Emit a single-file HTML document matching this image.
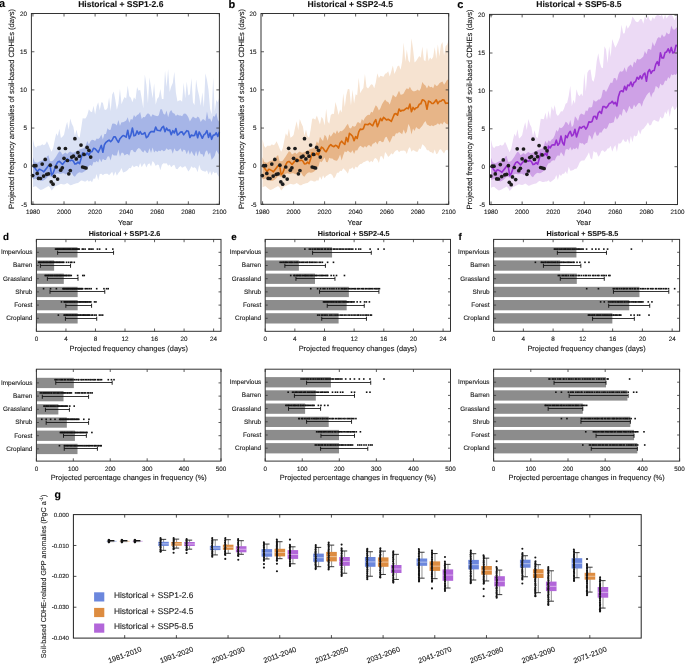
<!DOCTYPE html><html><head><meta charset="utf-8"><style>html,body{margin:0;padding:0;background:#fff;}svg{display:block;text-rendering:geometricPrecision;will-change:transform;}text{font-family:"Liberation Sans", sans-serif;stroke:#1a1a1a;stroke-width:0.12px;}</style></head><body>
<svg width="685" height="664" viewBox="0 0 685 664">
<rect width="685" height="664" fill="#fff"/>
<polygon points="32.95,139.21 34.51,146.12 36.06,147.83 37.61,145.7 39.17,145.87 40.72,145.62 42.28,144.31 43.83,145.3 45.38,144.23 46.94,141.13 48.49,144.57 50.04,148.62 51.6,151.79 53.15,148.07 54.71,140.3 56.26,133.37 57.81,136.1 59.37,128.71 60.92,138.12 62.47,136.78 64.03,134.77 65.58,127.31 67.14,121.75 68.69,129.72 70.24,118.62 71.8,123.65 73.35,126.8 74.9,136.08 76.46,129.75 78.01,136.22 79.57,137.83 81.12,128.7 82.67,118.24 84.23,118.61 85.78,118.33 87.33,114.99 88.89,109.22 90.44,111.47 92,112.16 93.55,105.82 95.1,114.39 96.66,106.33 98.21,102.31 99.76,110.26 101.32,102.24 102.87,102.86 104.42,109.45 105.98,109.95 107.53,107.88 109.09,97.14 110.64,111.24 112.19,94.43 113.75,91.56 115.3,99.67 116.85,109.69 118.41,103.73 119.96,88.64 121.52,104.13 123.07,99.96 124.62,97.06 126.18,98.6 127.73,85.5 129.28,96.13 130.84,97.64 132.39,102.28 133.95,97.25 135.5,99.54 137.05,86.98 138.61,90.83 140.16,89.63 141.71,98.58 143.27,108.33 144.82,74.49 146.38,84.73 147.93,103.33 149.48,77.32 151.04,87.97 152.59,98.15 154.14,83.2 155.7,104.7 157.25,98.63 158.8,96.97 160.36,89.06 161.91,99.11 163.47,98.92 165.02,70.56 166.57,86.93 168.13,69.09 169.68,92.03 171.23,86.47 172.79,82.92 174.34,71.68 175.9,92.85 177.45,101.55 179,100.43 180.56,100.16 182.11,101.73 183.66,82.74 185.22,98.47 186.77,81.38 188.33,95.6 189.88,94.34 191.43,77.99 192.99,102.4 194.54,105 196.09,79.44 197.65,89.87 199.2,96.31 200.76,105.83 202.31,92.34 203.86,107.59 205.42,73.32 206.97,80.08 208.52,90.01 210.08,108.76 211.63,114.6 213.19,77.25 214.74,111.38 216.29,100.04 217.85,102.25 219.4,96.75 219.4,177.37 217.85,175.27 216.29,172.22 214.74,173.27 213.19,171.56 211.63,175.6 210.08,170.9 208.52,174.48 206.97,170.25 205.42,171.75 203.86,171.33 202.31,170.82 200.76,169.4 199.2,164.84 197.65,172.28 196.09,168.43 194.54,167.22 192.99,168.01 191.43,166.21 189.88,169.57 188.33,171.56 186.77,168.54 185.22,165.94 183.66,166.96 182.11,167.77 180.56,165.99 179,167.16 177.45,169.3 175.9,168.63 174.34,164.81 172.79,165.6 171.23,167.18 169.68,164.38 168.13,165.71 166.57,163.17 165.02,163.43 163.47,163.26 161.91,164.87 160.36,170.23 158.8,164.94 157.25,164.51 155.7,166.08 154.14,162.72 152.59,160.88 151.04,166.6 149.48,163.26 147.93,164.23 146.38,167.55 144.82,163.15 143.27,164.62 141.71,167.19 140.16,163.11 138.61,167.6 137.05,165.83 135.5,166.3 133.95,167.15 132.39,165.19 130.84,168.27 129.28,168 127.73,170.03 126.18,171.21 124.62,171.89 123.07,172.41 121.52,168.07 119.96,171.14 118.41,172.89 116.85,175.64 115.3,171.5 113.75,176.02 112.19,171.68 110.64,173.58 109.09,175.29 107.53,173.77 105.98,173.85 104.42,174.12 102.87,175.13 101.32,173.76 99.76,174.02 98.21,180.16 96.66,174.09 95.1,178.68 93.55,178.44 92,182.34 90.44,180.54 88.89,181.76 87.33,180 85.78,181.44 84.23,181.51 82.67,180.74 81.12,180.56 79.57,181.73 78.01,182.89 76.46,183.29 74.9,183.67 73.35,184.32 71.8,185.1 70.24,185.19 68.69,184.06 67.14,182.93 65.58,183.91 64.03,184.61 62.47,184.22 60.92,183.83 59.37,184.52 57.81,185.29 56.26,185.91 54.71,186.43 53.15,188.75 51.6,190.6 50.04,187.49 48.49,185.97 46.94,186.9 45.38,187.83 43.83,188.67 42.28,189.43 40.72,189.98 39.17,188.95 37.61,187.71 36.06,186.16 34.51,186.41 32.95,187.14" fill="#dbe2f4"/>
<polygon points="32.95,157.16 34.51,161.82 36.06,162.59 37.61,162.79 39.17,161.75 40.72,160.96 42.28,160.44 43.83,159.94 45.38,159.44 46.94,156.53 48.49,155.16 50.04,161.2 51.6,161.2 53.15,160.6 54.71,158.53 56.26,156.17 57.81,153.58 59.37,151.2 60.92,152.1 62.47,154.69 64.03,153.47 65.58,152.48 67.14,153.97 68.69,152.47 70.24,151.53 71.8,152.56 73.35,152.72 74.9,151.95 76.46,151.17 78.01,150.39 79.57,149.62 81.12,149.06 82.67,148.54 84.23,148.02 85.78,145.52 87.33,141.05 88.89,144.46 90.44,141.31 92,139.85 93.55,139.88 95.1,140.98 96.66,138.51 98.21,138.99 99.76,137.79 101.32,134.59 102.87,139.5 104.42,134.1 105.98,134 107.53,128.34 109.09,130.12 110.64,129.82 112.19,123.83 113.75,123.51 115.3,123.89 116.85,125.56 118.41,120.07 119.96,125.82 121.52,122.32 123.07,122.3 124.62,121.59 126.18,120.41 127.73,117.28 129.28,122.87 130.84,119.09 132.39,119.79 133.95,115.05 135.5,116.97 137.05,114.95 138.61,114.27 140.16,111.96 141.71,118.91 143.27,116.91 144.82,117.16 146.38,114.76 147.93,113.31 149.48,114.14 151.04,117.08 152.59,114.13 154.14,115.28 155.7,115.8 157.25,116.22 158.8,115.31 160.36,109.35 161.91,109.35 163.47,113.64 165.02,114.73 166.57,110.62 168.13,117.18 169.68,111.99 171.23,109.94 172.79,113.01 174.34,113.45 175.9,115.91 177.45,114.46 179,115.45 180.56,115.57 182.11,116.2 183.66,113.66 185.22,113.49 186.77,114.66 188.33,117.16 189.88,121.51 191.43,118.67 192.99,116.6 194.54,117.65 196.09,118.52 197.65,116.52 199.2,117.69 200.76,122.03 202.31,119.52 203.86,119.37 205.42,121.28 206.97,111.52 208.52,118.97 210.08,118.62 211.63,121.94 213.19,116.1 214.74,116.76 216.29,112.78 217.85,119.94 219.4,122.08 219.4,155.12 217.85,152.83 216.29,150.14 214.74,155.69 213.19,158.08 211.63,159.76 210.08,152.13 208.52,154.71 206.97,150.3 205.42,151.73 203.86,157.3 202.31,154.05 200.76,154.37 199.2,150.59 197.65,156.43 196.09,150.76 194.54,156.26 192.99,153.93 191.43,150.92 189.88,154.79 188.33,149.88 186.77,154.13 185.22,150.25 183.66,149.47 182.11,152.37 180.56,148.2 179,150.07 177.45,151.33 175.9,150.9 174.34,148.34 172.79,153.71 171.23,149.13 169.68,149.31 168.13,149.88 166.57,148.29 165.02,150.78 163.47,151.3 161.91,149.73 160.36,151.34 158.8,150.59 157.25,151.89 155.7,150.55 154.14,152.51 152.59,147.54 151.04,152.91 149.48,148.23 147.93,152.88 146.38,152.52 144.82,150.11 143.27,152.49 141.71,150.88 140.16,148.76 138.61,147.92 137.05,149.38 135.5,152.13 133.95,151.94 132.39,149.77 130.84,150.21 129.28,155.64 127.73,154.02 126.18,154.27 124.62,155.61 123.07,152.82 121.52,152.67 119.96,156.84 118.41,149.53 116.85,155.47 115.3,155.42 113.75,155.5 112.19,154.11 110.64,160.38 109.09,156.25 107.53,156.45 105.98,160.07 104.42,160.06 102.87,158.84 101.32,162.37 99.76,158.4 98.21,162.45 96.66,160.98 95.1,162.57 93.55,161.81 92,166 90.44,165.03 88.89,165.69 87.33,168.02 85.78,170.38 84.23,171.61 82.67,172.43 81.12,172.82 79.57,172.25 78.01,172.92 76.46,174.53 74.9,176.74 73.35,175.75 71.8,173.16 70.24,172.46 68.69,172.31 67.14,173.86 65.58,174.39 64.03,173.35 62.47,173.26 60.92,173.64 59.37,173.72 57.81,173.2 56.26,173.63 54.71,174.66 53.15,176.15 51.6,177.37 50.04,176.33 48.49,176.31 46.94,177.86 45.38,179.37 43.83,180.37 42.28,180.96 40.72,180.44 39.17,179.78 37.61,179.01 36.06,178.5 34.51,178.95 32.95,179.25" fill="#a6b5e7"/>
<polyline points="32.95,166.16 34.51,167.41 36.06,169.75 37.61,171.53 39.17,169.32 40.72,169.84 42.28,170.65 43.83,171.83 45.38,169.76 46.94,167.68 48.49,165.61 50.04,165.45 51.6,175.03 53.15,172.94 54.71,168.75 56.26,164.61 57.81,161.9 59.37,161.38 60.92,162.8 62.47,164.46 64.03,162.56 65.58,160.7 67.14,158.92 68.69,159.98 70.24,160.67 71.8,160.1 73.35,161.19 74.9,164.07 76.46,163.64 78.01,162.11 79.57,163.67 81.12,158.38 82.67,152.8 84.23,154.65 85.78,154.99 87.33,152.83 88.89,155.19 90.44,151.86 92,151.8 93.55,148.2 95.1,148.77 96.66,150.53 98.21,152.3 99.76,149 101.32,145.39 102.87,152.26 104.42,144.69 105.98,142.3 107.53,141.07 109.09,140.19 110.64,141.74 112.19,140.01 113.75,136.91 115.3,136.92 116.85,139.86 118.41,142.34 119.96,138.66 121.52,136.92 123.07,135.52 124.62,136.03 126.18,137.17 127.73,130.2 129.28,138.58 130.84,135.16 132.39,128 133.95,135.86 135.5,135.27 137.05,130.93 138.61,134.23 140.16,131.56 141.71,134.09 143.27,133.85 144.82,132.57 146.38,137.77 147.93,136.3 149.48,133.17 151.04,131.58 152.59,131.55 154.14,131.85 155.7,126.98 157.25,130.3 158.8,130.47 160.36,130.82 161.91,127.63 163.47,126.34 165.02,131.79 166.57,128.06 168.13,130.48 169.68,129.89 171.23,134.75 172.79,130.68 174.34,133 175.9,128.62 177.45,135.03 179,133.82 180.56,132.08 182.11,131.92 183.66,134.89 185.22,132.65 186.77,130.67 188.33,131.17 189.88,137.5 191.43,135 192.99,135.67 194.54,135.4 196.09,131.02 197.65,137.8 199.2,131.91 200.76,134.93 202.31,138.29 203.86,134.95 205.42,133.66 206.97,130.68 208.52,137.35 210.08,133.14 211.63,139.31 213.19,135.25 214.74,134.9 216.29,132.81 217.85,136.43 219.4,131.65" fill="none" stroke="#3b62d6" stroke-width="1.6" stroke-linejoin="round"/>
<circle cx="32.7" cy="175.6" r="1.85" fill="#1c1c1c"/>
<circle cx="34.1" cy="165.7" r="1.85" fill="#1c1c1c"/>
<circle cx="35.9" cy="165.7" r="1.85" fill="#1c1c1c"/>
<circle cx="37.2" cy="173.4" r="1.85" fill="#1c1c1c"/>
<circle cx="38.6" cy="178.4" r="1.85" fill="#1c1c1c"/>
<circle cx="40.4" cy="178.5" r="1.85" fill="#1c1c1c"/>
<circle cx="42.2" cy="164.1" r="1.85" fill="#1c1c1c"/>
<circle cx="43.6" cy="176.1" r="1.85" fill="#1c1c1c"/>
<circle cx="45.2" cy="159.4" r="1.85" fill="#1c1c1c"/>
<circle cx="46.7" cy="174.3" r="1.85" fill="#1c1c1c"/>
<circle cx="48.5" cy="173.8" r="1.85" fill="#1c1c1c"/>
<circle cx="50.3" cy="165.2" r="1.85" fill="#1c1c1c"/>
<circle cx="51.2" cy="181.8" r="1.85" fill="#1c1c1c"/>
<circle cx="53.1" cy="184.2" r="1.85" fill="#1c1c1c"/>
<circle cx="54.4" cy="176.4" r="1.85" fill="#1c1c1c"/>
<circle cx="56.2" cy="167" r="1.85" fill="#1c1c1c"/>
<circle cx="57.6" cy="179.1" r="1.85" fill="#1c1c1c"/>
<circle cx="59.1" cy="148.3" r="1.85" fill="#1c1c1c"/>
<circle cx="60.7" cy="170.2" r="1.85" fill="#1c1c1c"/>
<circle cx="62.3" cy="167.8" r="1.85" fill="#1c1c1c"/>
<circle cx="64" cy="158.3" r="1.85" fill="#1c1c1c"/>
<circle cx="65.4" cy="148.5" r="1.85" fill="#1c1c1c"/>
<circle cx="67.4" cy="160.5" r="1.85" fill="#1c1c1c"/>
<circle cx="68.8" cy="173.8" r="1.85" fill="#1c1c1c"/>
<circle cx="70.3" cy="170.5" r="1.85" fill="#1c1c1c"/>
<circle cx="71.7" cy="157.1" r="1.85" fill="#1c1c1c"/>
<circle cx="73.4" cy="156.2" r="1.85" fill="#1c1c1c"/>
<circle cx="74.9" cy="138.7" r="1.85" fill="#1c1c1c"/>
<circle cx="76.3" cy="158.9" r="1.85" fill="#1c1c1c"/>
<circle cx="77.9" cy="152.6" r="1.85" fill="#1c1c1c"/>
<circle cx="79.4" cy="156.2" r="1.85" fill="#1c1c1c"/>
<circle cx="81" cy="145.1" r="1.85" fill="#1c1c1c"/>
<circle cx="82.6" cy="167" r="1.85" fill="#1c1c1c"/>
<circle cx="84" cy="154.4" r="1.85" fill="#1c1c1c"/>
<circle cx="84.4" cy="167.5" r="1.85" fill="#1c1c1c"/>
<circle cx="86" cy="168" r="1.85" fill="#1c1c1c"/>
<circle cx="87.1" cy="147.4" r="1.85" fill="#1c1c1c"/>
<circle cx="88.9" cy="150.3" r="1.85" fill="#1c1c1c"/>
<circle cx="90.7" cy="157.1" r="1.85" fill="#1c1c1c"/>
<rect x="31.4" y="13.5" width="188" height="190.8" fill="none" stroke="#333" stroke-width="1"/>
<line x1="32.95" y1="204.3" x2="32.95" y2="201.3" stroke="#333" stroke-width="0.8"/>
<line x1="32.95" y1="13.5" x2="32.95" y2="16.5" stroke="#333" stroke-width="0.8"/>
<text x="32.95" y="213.6" font-size="6.3" text-anchor="middle" font-weight="normal" fill="#1a1a1a">1980</text>
<line x1="64.03" y1="204.3" x2="64.03" y2="201.3" stroke="#333" stroke-width="0.8"/>
<line x1="64.03" y1="13.5" x2="64.03" y2="16.5" stroke="#333" stroke-width="0.8"/>
<text x="64.03" y="213.6" font-size="6.3" text-anchor="middle" font-weight="normal" fill="#1a1a1a">2000</text>
<line x1="95.1" y1="204.3" x2="95.1" y2="201.3" stroke="#333" stroke-width="0.8"/>
<line x1="95.1" y1="13.5" x2="95.1" y2="16.5" stroke="#333" stroke-width="0.8"/>
<text x="95.1" y="213.6" font-size="6.3" text-anchor="middle" font-weight="normal" fill="#1a1a1a">2020</text>
<line x1="126.18" y1="204.3" x2="126.18" y2="201.3" stroke="#333" stroke-width="0.8"/>
<line x1="126.18" y1="13.5" x2="126.18" y2="16.5" stroke="#333" stroke-width="0.8"/>
<text x="126.18" y="213.6" font-size="6.3" text-anchor="middle" font-weight="normal" fill="#1a1a1a">2040</text>
<line x1="157.25" y1="204.3" x2="157.25" y2="201.3" stroke="#333" stroke-width="0.8"/>
<line x1="157.25" y1="13.5" x2="157.25" y2="16.5" stroke="#333" stroke-width="0.8"/>
<text x="157.25" y="213.6" font-size="6.3" text-anchor="middle" font-weight="normal" fill="#1a1a1a">2060</text>
<line x1="188.33" y1="204.3" x2="188.33" y2="201.3" stroke="#333" stroke-width="0.8"/>
<line x1="188.33" y1="13.5" x2="188.33" y2="16.5" stroke="#333" stroke-width="0.8"/>
<text x="188.33" y="213.6" font-size="6.3" text-anchor="middle" font-weight="normal" fill="#1a1a1a">2080</text>
<line x1="219.4" y1="204.3" x2="219.4" y2="201.3" stroke="#333" stroke-width="0.8"/>
<line x1="219.4" y1="13.5" x2="219.4" y2="16.5" stroke="#333" stroke-width="0.8"/>
<text x="219.4" y="213.6" font-size="6.3" text-anchor="middle" font-weight="normal" fill="#1a1a1a">2100</text>
<line x1="31.4" y1="204.35" x2="34.4" y2="204.35" stroke="#333" stroke-width="0.8"/>
<line x1="219.4" y1="204.35" x2="216.4" y2="204.35" stroke="#333" stroke-width="0.8"/>
<text x="26.9" y="206.55" font-size="6.3" text-anchor="end" font-weight="normal" fill="#1a1a1a">-5</text>
<line x1="31.4" y1="166.2" x2="34.4" y2="166.2" stroke="#333" stroke-width="0.8"/>
<line x1="219.4" y1="166.2" x2="216.4" y2="166.2" stroke="#333" stroke-width="0.8"/>
<text x="26.9" y="168.4" font-size="6.3" text-anchor="end" font-weight="normal" fill="#1a1a1a">0</text>
<line x1="31.4" y1="128.05" x2="34.4" y2="128.05" stroke="#333" stroke-width="0.8"/>
<line x1="219.4" y1="128.05" x2="216.4" y2="128.05" stroke="#333" stroke-width="0.8"/>
<text x="26.9" y="130.25" font-size="6.3" text-anchor="end" font-weight="normal" fill="#1a1a1a">5</text>
<line x1="31.4" y1="89.9" x2="34.4" y2="89.9" stroke="#333" stroke-width="0.8"/>
<line x1="219.4" y1="89.9" x2="216.4" y2="89.9" stroke="#333" stroke-width="0.8"/>
<text x="26.9" y="92.1" font-size="6.3" text-anchor="end" font-weight="normal" fill="#1a1a1a">10</text>
<line x1="31.4" y1="51.75" x2="34.4" y2="51.75" stroke="#333" stroke-width="0.8"/>
<line x1="219.4" y1="51.75" x2="216.4" y2="51.75" stroke="#333" stroke-width="0.8"/>
<text x="26.9" y="53.95" font-size="6.3" text-anchor="end" font-weight="normal" fill="#1a1a1a">15</text>
<line x1="31.4" y1="13.6" x2="34.4" y2="13.6" stroke="#333" stroke-width="0.8"/>
<line x1="219.4" y1="13.6" x2="216.4" y2="13.6" stroke="#333" stroke-width="0.8"/>
<text x="26.9" y="15.8" font-size="6.3" text-anchor="end" font-weight="normal" fill="#1a1a1a">20</text>
<text x="125.4" y="224.6" font-size="7.25" text-anchor="middle" font-weight="normal" fill="#1a1a1a">Year</text>
<text x="120.8" y="7.1" font-size="8.55" text-anchor="middle" font-weight="bold" fill="#111">Historical + SSP1-2.6</text>
<text x="14.1" y="108.9" font-size="7.6" text-anchor="middle" font-weight="normal" fill="#1a1a1a" transform="rotate(-90 14.1 108.9)">Projected frequency anomalies of soil-based CDHEs (days)</text>
<polygon points="262.55,139.19 264.1,146.11 265.65,147.84 267.2,145.72 268.76,145.86 270.31,145.64 271.86,144.29 273.41,145.29 274.96,144.28 276.51,141.18 278.06,144.47 279.61,148.56 281.17,151.72 282.72,148.17 284.27,140.52 285.82,133.19 287.37,136.35 288.92,128.44 290.47,137.83 292.02,136.84 293.58,134.93 295.13,127.57 296.68,121.22 298.23,130.14 299.78,119.06 301.33,123.36 302.88,126.4 304.43,135.71 305.99,129.56 307.54,136.14 309.09,137.75 310.64,129.66 312.19,118.65 313.74,118.58 315.29,119.72 316.84,115.58 318.4,120.12 319.95,124.56 321.5,116.71 323.05,119.03 324.6,125.52 326.15,108.83 327.7,121.47 329.25,123.71 330.81,114.94 332.36,113.69 333.91,113.95 335.46,101.98 337.01,107.81 338.56,115.08 340.11,109.54 341.66,112.45 343.22,93.34 344.77,107.05 346.32,95.3 347.87,88.94 349.42,89.18 350.97,105.56 352.52,89.7 354.07,103.39 355.63,94.16 357.18,95.29 358.73,77.83 360.28,93.29 361.83,90.35 363.38,88.06 364.93,73.95 366.48,86.94 368.04,88.48 369.59,86.51 371.14,84.23 372.69,84.82 374.24,88.13 375.79,82.48 377.34,73.24 378.89,78.11 380.45,75.83 382,76.21 383.55,76.78 385.1,73.71 386.65,73.28 388.2,71.22 389.75,76.43 391.3,71.25 392.86,65.6 394.41,74.01 395.96,70.42 397.51,66.32 399.06,65.48 400.61,69.77 402.16,61.49 403.71,42.4 405.27,61.71 406.82,49.74 408.37,60.16 409.92,62.65 411.47,38.35 413.02,49 414.57,62.39 416.12,60.96 417.68,58.39 419.23,55.99 420.78,57.73 422.33,46.44 423.88,59.97 425.43,61.33 426.98,47.4 428.53,61.04 430.09,57.55 431.64,59.4 433.19,56.76 434.74,46.89 436.29,59.08 437.84,44.28 439.39,56.61 440.94,45.1 442.5,41.98 444.05,55.64 445.6,46.31 447.15,44.58 448.7,40.05 448.7,151.11 447.15,149.67 445.6,150.31 444.05,153.45 442.5,151.49 440.94,149.36 439.39,149.63 437.84,153.15 436.29,154.35 434.74,149.4 433.19,153.81 431.64,152.22 430.09,152 428.53,150.3 426.98,150.21 425.43,147.37 423.88,145.53 422.33,144.22 420.78,149.12 419.23,148.51 417.68,151.8 416.12,151.74 414.57,150.67 413.02,149.95 411.47,151.69 409.92,146.95 408.37,148.93 406.82,153.88 405.27,150.98 403.71,150.4 402.16,150.71 400.61,150.86 399.06,152.13 397.51,150.05 395.96,150.41 394.41,152.02 392.86,154.59 391.3,153.19 389.75,155.46 388.2,157.08 386.65,154 385.1,152.07 383.55,159.66 382,156.35 380.45,156.19 378.89,162.9 377.34,159.63 375.79,158.12 374.24,158.71 372.69,162.16 371.14,160.82 369.59,162.45 368.04,160.47 366.48,160.81 364.93,161.65 363.38,162.18 361.83,163.84 360.28,163.92 358.73,165.53 357.18,167.8 355.63,166.49 354.07,169.64 352.52,167.18 350.97,168.86 349.42,168.8 347.87,173.78 346.32,171.58 344.77,169.86 343.22,168.31 341.66,171.02 340.11,170.79 338.56,172.75 337.01,172.87 335.46,176.57 333.91,178.47 332.36,175.18 330.81,173.77 329.25,173.94 327.7,175.14 326.15,176.07 324.6,178.16 323.05,175.14 321.5,179.65 319.95,176.13 318.4,180.68 316.84,180.14 315.29,181.59 313.74,181.47 312.19,180.7 310.64,180.62 309.09,181.78 307.54,182.92 305.99,183.3 304.43,183.69 302.88,184.36 301.33,185.13 299.78,185.15 298.23,184.02 296.68,182.91 295.13,183.95 293.58,184.59 292.02,184.21 290.47,183.82 288.92,184.54 287.37,185.31 285.82,185.93 284.27,186.44 282.72,188.8 281.17,190.53 279.61,187.43 278.06,185.98 276.51,186.91 274.96,187.84 273.41,188.68 271.86,189.44 270.31,189.97 268.76,188.94 267.2,187.7 265.65,186.15 264.1,186.42 262.55,187.14" fill="#f6e3d1"/>
<polygon points="262.55,157.15 264.1,161.81 265.65,162.58 267.2,162.8 268.76,161.76 270.31,160.96 271.86,160.45 273.41,159.94 274.96,159.44 276.51,156.58 278.06,155.05 279.61,161.2 281.17,161.2 282.72,160.64 284.27,158.58 285.82,156.23 287.37,153.65 288.92,151.27 290.47,152.02 292.02,154.61 293.58,153.52 295.13,152.43 296.68,153.98 298.23,152.52 299.78,151.49 301.33,152.52 302.88,152.76 304.43,151.98 305.99,151.21 307.54,150.43 309.09,149.66 310.64,149.09 312.19,148.57 313.74,148.05 315.29,145.63 316.84,141.25 318.4,143.65 319.95,136.65 321.5,139.14 323.05,141.05 324.6,134.82 326.15,136.59 327.7,140.67 329.25,134.14 330.81,136.77 332.36,134.26 333.91,132.11 335.46,133.89 337.01,130.35 338.56,133.22 340.11,131.04 341.66,131.16 343.22,130.05 344.77,128.13 346.32,125.8 347.87,123.64 349.42,128.11 350.97,128.42 352.52,125.77 354.07,126.73 355.63,126.06 357.18,122.47 358.73,122.3 360.28,123.67 361.83,118.97 363.38,120.71 364.93,117.69 366.48,115.95 368.04,114.8 369.59,115.04 371.14,111.78 372.69,112.39 374.24,108.43 375.79,105.32 377.34,107.08 378.89,110.56 380.45,108.23 382,104.32 383.55,101.8 385.1,99.59 386.65,101.39 388.2,101.91 389.75,104.48 391.3,99.86 392.86,94.79 394.41,96.34 395.96,97.18 397.51,94.12 399.06,90.7 400.61,94.75 402.16,94.51 403.71,93.55 405.27,90.15 406.82,88.15 408.37,89.22 409.92,86.68 411.47,89.7 413.02,91.25 414.57,91.16 416.12,90.68 417.68,89.56 419.23,91.03 420.78,88.55 422.33,81.98 423.88,84.35 425.43,85.45 426.98,88.42 428.53,85.34 430.09,87.23 431.64,86.73 433.19,88.23 434.74,84.12 436.29,85.97 437.84,85.61 439.39,83.31 440.94,82.16 442.5,81.54 444.05,84.78 445.6,82.54 447.15,79.75 448.7,79.64 448.7,124.62 447.15,124.25 445.6,123.3 444.05,121.61 442.5,124.44 440.94,122.96 439.39,124.82 437.84,123.24 436.29,124.72 434.74,125.21 433.19,126.19 431.64,125.23 430.09,126.15 428.53,125.27 426.98,124.43 425.43,120.91 423.88,123.04 422.33,125.83 420.78,127.48 419.23,129.36 417.68,128.45 416.12,126.9 414.57,131.05 413.02,128.41 411.47,134.45 409.92,127.09 408.37,124.02 406.82,131.67 405.27,133.69 403.71,129.42 402.16,134.26 400.61,132.9 399.06,132.02 397.51,133.43 395.96,133.35 394.41,136.6 392.86,135.65 391.3,139.13 389.75,142.65 388.2,140.32 386.65,136.71 385.1,137.6 383.55,141.77 382,142.35 380.45,140.7 378.89,141.19 377.34,144.52 375.79,141.84 374.24,143.32 372.69,143.82 371.14,146.94 369.59,145.17 368.04,145.27 366.48,147.57 364.93,145.96 363.38,147.85 361.83,146.84 360.28,145.63 358.73,147.45 357.18,150.53 355.63,150.16 354.07,154.12 352.52,150.33 350.97,152.64 349.42,151.93 347.87,150.46 346.32,152.13 344.77,151.3 343.22,155.19 341.66,160.44 340.11,154.48 338.56,158.16 337.01,160.87 335.46,160.41 333.91,160.06 332.36,158.53 330.81,158.57 329.25,157.72 327.7,162.23 326.15,161.9 324.6,157.61 323.05,159.95 321.5,162.16 319.95,161.25 318.4,166.44 316.84,167.01 315.29,170.47 313.74,171.66 312.19,172.48 310.64,172.79 309.09,172.22 307.54,173 305.99,174.61 304.43,176.85 302.88,175.64 301.33,173.05 299.78,172.44 298.23,172.37 296.68,173.92 295.13,174.35 293.58,173.32 292.02,173.27 290.47,173.66 288.92,173.71 287.37,173.19 285.82,173.65 284.27,174.69 282.72,176.18 281.17,177.34 279.61,176.31 278.06,176.34 276.51,177.89 274.96,179.39 273.41,180.39 271.86,180.95 270.31,180.44 268.76,179.78 267.2,179 265.65,178.5 264.1,178.95 262.55,179.24" fill="#e7b588"/>
<polyline points="262.55,166.16 264.1,167.4 265.65,169.73 267.2,171.54 268.76,169.32 270.31,169.84 271.86,170.63 273.41,171.85 274.96,169.79 276.51,167.72 278.06,165.65 279.61,165.43 281.17,174.78 282.72,173.04 284.27,168.85 285.82,164.71 287.37,161.91 288.92,161.39 290.47,162.72 292.02,164.52 293.58,162.62 295.13,160.76 296.68,158.93 298.23,159.94 299.78,160.7 301.33,160.12 302.88,161.07 304.43,163.94 305.99,163.71 307.54,162.16 309.09,163.59 310.64,158.71 312.19,152.71 313.74,154.55 315.29,155.11 316.84,152.96 318.4,155.02 319.95,150.69 321.5,147.1 323.05,148.11 324.6,150.53 326.15,151.76 327.7,148.97 329.25,146.17 330.81,144.51 332.36,146.06 333.91,146.66 335.46,145.32 337.01,145.95 338.56,148.12 340.11,142.93 341.66,141.21 343.22,143.04 344.77,144.5 346.32,137.43 347.87,141.69 349.42,133.36 350.97,134.69 352.52,136.22 354.07,140.71 355.63,136.61 357.18,138.52 358.73,131.84 360.28,129.13 361.83,129.49 363.38,128.79 364.93,124.31 366.48,124.57 368.04,124.62 369.59,123.28 371.14,124.68 372.69,125.76 374.24,122.17 375.79,119.66 377.34,126.7 378.89,122.83 380.45,118.43 382,120.69 383.55,117.34 385.1,118.69 386.65,120.04 388.2,119.24 389.75,120.21 391.3,121.47 392.86,117.8 394.41,114.09 395.96,113.63 397.51,115.22 399.06,108.98 400.61,111.19 402.16,110.27 403.71,110.45 405.27,109.11 406.82,107.97 408.37,108.65 409.92,104.08 411.47,111.8 413.02,107.44 414.57,109.57 416.12,107.71 417.68,107.46 419.23,104.28 420.78,103.85 422.33,99.84 423.88,100.26 425.43,101.99 426.98,109.3 428.53,101.12 430.09,101.66 431.64,103.33 433.19,103.47 434.74,101.83 436.29,99.83 437.84,103.67 439.39,101.35 440.94,101.26 442.5,99.74 444.05,100.08 445.6,103.38 447.15,103 448.7,103.47" fill="none" stroke="#d8690a" stroke-width="1.6" stroke-linejoin="round"/>
<circle cx="262.3" cy="175.6" r="1.85" fill="#1c1c1c"/>
<circle cx="263.7" cy="165.7" r="1.85" fill="#1c1c1c"/>
<circle cx="265.5" cy="165.7" r="1.85" fill="#1c1c1c"/>
<circle cx="266.8" cy="173.4" r="1.85" fill="#1c1c1c"/>
<circle cx="268.2" cy="178.4" r="1.85" fill="#1c1c1c"/>
<circle cx="270" cy="178.5" r="1.85" fill="#1c1c1c"/>
<circle cx="271.8" cy="164.1" r="1.85" fill="#1c1c1c"/>
<circle cx="273.2" cy="176.1" r="1.85" fill="#1c1c1c"/>
<circle cx="274.8" cy="159.4" r="1.85" fill="#1c1c1c"/>
<circle cx="276.3" cy="174.3" r="1.85" fill="#1c1c1c"/>
<circle cx="278.1" cy="173.8" r="1.85" fill="#1c1c1c"/>
<circle cx="279.9" cy="165.2" r="1.85" fill="#1c1c1c"/>
<circle cx="280.8" cy="181.8" r="1.85" fill="#1c1c1c"/>
<circle cx="282.7" cy="184.2" r="1.85" fill="#1c1c1c"/>
<circle cx="284" cy="176.4" r="1.85" fill="#1c1c1c"/>
<circle cx="285.8" cy="167" r="1.85" fill="#1c1c1c"/>
<circle cx="287.2" cy="179.1" r="1.85" fill="#1c1c1c"/>
<circle cx="288.7" cy="148.3" r="1.85" fill="#1c1c1c"/>
<circle cx="290.3" cy="170.2" r="1.85" fill="#1c1c1c"/>
<circle cx="291.9" cy="167.8" r="1.85" fill="#1c1c1c"/>
<circle cx="293.6" cy="158.3" r="1.85" fill="#1c1c1c"/>
<circle cx="295" cy="148.5" r="1.85" fill="#1c1c1c"/>
<circle cx="297" cy="160.5" r="1.85" fill="#1c1c1c"/>
<circle cx="298.4" cy="173.8" r="1.85" fill="#1c1c1c"/>
<circle cx="299.9" cy="170.5" r="1.85" fill="#1c1c1c"/>
<circle cx="301.3" cy="157.1" r="1.85" fill="#1c1c1c"/>
<circle cx="303" cy="156.2" r="1.85" fill="#1c1c1c"/>
<circle cx="304.5" cy="138.7" r="1.85" fill="#1c1c1c"/>
<circle cx="305.9" cy="158.9" r="1.85" fill="#1c1c1c"/>
<circle cx="307.5" cy="152.6" r="1.85" fill="#1c1c1c"/>
<circle cx="309" cy="156.2" r="1.85" fill="#1c1c1c"/>
<circle cx="310.6" cy="145.1" r="1.85" fill="#1c1c1c"/>
<circle cx="312.2" cy="167" r="1.85" fill="#1c1c1c"/>
<circle cx="313.6" cy="154.4" r="1.85" fill="#1c1c1c"/>
<circle cx="314" cy="167.5" r="1.85" fill="#1c1c1c"/>
<circle cx="315.6" cy="168" r="1.85" fill="#1c1c1c"/>
<circle cx="316.7" cy="147.4" r="1.85" fill="#1c1c1c"/>
<circle cx="318.5" cy="150.3" r="1.85" fill="#1c1c1c"/>
<circle cx="320.3" cy="157.1" r="1.85" fill="#1c1c1c"/>
<rect x="261" y="13.5" width="187.7" height="190.8" fill="none" stroke="#333" stroke-width="1"/>
<line x1="262.55" y1="204.3" x2="262.55" y2="201.3" stroke="#333" stroke-width="0.8"/>
<line x1="262.55" y1="13.5" x2="262.55" y2="16.5" stroke="#333" stroke-width="0.8"/>
<text x="262.55" y="213.6" font-size="6.3" text-anchor="middle" font-weight="normal" fill="#1a1a1a">1980</text>
<line x1="293.58" y1="204.3" x2="293.58" y2="201.3" stroke="#333" stroke-width="0.8"/>
<line x1="293.58" y1="13.5" x2="293.58" y2="16.5" stroke="#333" stroke-width="0.8"/>
<text x="293.58" y="213.6" font-size="6.3" text-anchor="middle" font-weight="normal" fill="#1a1a1a">2000</text>
<line x1="324.6" y1="204.3" x2="324.6" y2="201.3" stroke="#333" stroke-width="0.8"/>
<line x1="324.6" y1="13.5" x2="324.6" y2="16.5" stroke="#333" stroke-width="0.8"/>
<text x="324.6" y="213.6" font-size="6.3" text-anchor="middle" font-weight="normal" fill="#1a1a1a">2020</text>
<line x1="355.63" y1="204.3" x2="355.63" y2="201.3" stroke="#333" stroke-width="0.8"/>
<line x1="355.63" y1="13.5" x2="355.63" y2="16.5" stroke="#333" stroke-width="0.8"/>
<text x="355.63" y="213.6" font-size="6.3" text-anchor="middle" font-weight="normal" fill="#1a1a1a">2040</text>
<line x1="386.65" y1="204.3" x2="386.65" y2="201.3" stroke="#333" stroke-width="0.8"/>
<line x1="386.65" y1="13.5" x2="386.65" y2="16.5" stroke="#333" stroke-width="0.8"/>
<text x="386.65" y="213.6" font-size="6.3" text-anchor="middle" font-weight="normal" fill="#1a1a1a">2060</text>
<line x1="417.68" y1="204.3" x2="417.68" y2="201.3" stroke="#333" stroke-width="0.8"/>
<line x1="417.68" y1="13.5" x2="417.68" y2="16.5" stroke="#333" stroke-width="0.8"/>
<text x="417.68" y="213.6" font-size="6.3" text-anchor="middle" font-weight="normal" fill="#1a1a1a">2080</text>
<line x1="448.7" y1="204.3" x2="448.7" y2="201.3" stroke="#333" stroke-width="0.8"/>
<line x1="448.7" y1="13.5" x2="448.7" y2="16.5" stroke="#333" stroke-width="0.8"/>
<text x="448.7" y="213.6" font-size="6.3" text-anchor="middle" font-weight="normal" fill="#1a1a1a">2100</text>
<line x1="261" y1="204.35" x2="264" y2="204.35" stroke="#333" stroke-width="0.8"/>
<line x1="448.7" y1="204.35" x2="445.7" y2="204.35" stroke="#333" stroke-width="0.8"/>
<text x="256.5" y="206.55" font-size="6.3" text-anchor="end" font-weight="normal" fill="#1a1a1a">-5</text>
<line x1="261" y1="166.2" x2="264" y2="166.2" stroke="#333" stroke-width="0.8"/>
<line x1="448.7" y1="166.2" x2="445.7" y2="166.2" stroke="#333" stroke-width="0.8"/>
<text x="256.5" y="168.4" font-size="6.3" text-anchor="end" font-weight="normal" fill="#1a1a1a">0</text>
<line x1="261" y1="128.05" x2="264" y2="128.05" stroke="#333" stroke-width="0.8"/>
<line x1="448.7" y1="128.05" x2="445.7" y2="128.05" stroke="#333" stroke-width="0.8"/>
<text x="256.5" y="130.25" font-size="6.3" text-anchor="end" font-weight="normal" fill="#1a1a1a">5</text>
<line x1="261" y1="89.9" x2="264" y2="89.9" stroke="#333" stroke-width="0.8"/>
<line x1="448.7" y1="89.9" x2="445.7" y2="89.9" stroke="#333" stroke-width="0.8"/>
<text x="256.5" y="92.1" font-size="6.3" text-anchor="end" font-weight="normal" fill="#1a1a1a">10</text>
<line x1="261" y1="51.75" x2="264" y2="51.75" stroke="#333" stroke-width="0.8"/>
<line x1="448.7" y1="51.75" x2="445.7" y2="51.75" stroke="#333" stroke-width="0.8"/>
<text x="256.5" y="53.95" font-size="6.3" text-anchor="end" font-weight="normal" fill="#1a1a1a">15</text>
<line x1="261" y1="13.6" x2="264" y2="13.6" stroke="#333" stroke-width="0.8"/>
<line x1="448.7" y1="13.6" x2="445.7" y2="13.6" stroke="#333" stroke-width="0.8"/>
<text x="256.5" y="15.8" font-size="6.3" text-anchor="end" font-weight="normal" fill="#1a1a1a">20</text>
<text x="354.85" y="224.6" font-size="7.25" text-anchor="middle" font-weight="normal" fill="#1a1a1a">Year</text>
<text x="350.25" y="7.1" font-size="8.55" text-anchor="middle" font-weight="bold" fill="#111">Historical + SSP2-4.5</text>
<text x="243.7" y="108.9" font-size="7.6" text-anchor="middle" font-weight="normal" fill="#1a1a1a" transform="rotate(-90 243.7 108.9)">Projected frequency anomalies of soil-based CDHEs (days)</text>
<polygon points="491.05,139.71 492.61,146.62 494.16,148.33 495.71,146.2 497.27,146.37 498.82,146.12 500.38,144.81 501.93,145.8 503.48,144.73 505.04,141.63 506.59,145.07 508.14,149.12 509.7,152.29 511.25,148.57 512.81,140.8 514.36,133.87 515.91,136.6 517.47,129.21 519.02,138.62 520.57,137.28 522.13,135.27 523.68,127.81 525.24,122.25 526.79,130.22 528.34,119.12 529.9,124.15 531.45,127.3 533,136.58 534.56,130.25 536.11,136.72 537.67,138.33 539.22,129.2 540.77,118.74 542.33,119.11 543.88,119.32 545.43,112.87 546.99,120.12 548.54,110.61 550.1,118.96 551.65,106.25 553.2,111.07 554.76,105.12 556.31,114.06 557.86,115.88 559.42,113.93 560.97,111.2 562.52,111.47 564.08,108.61 565.63,103.63 567.19,102.78 568.74,95.71 570.29,85.72 571.85,106.27 573.4,99.64 574.95,103.66 576.51,89.22 578.06,94.47 579.62,96.17 581.17,93.61 582.72,96.23 584.28,73 585.83,91.39 587.38,72.66 588.94,69.95 590.49,69.49 592.05,80.01 593.6,81.84 595.15,75.52 596.71,61.35 598.26,53.33 599.81,62.58 601.37,67.59 602.92,68.26 604.48,46.32 606.03,49.59 607.58,63.36 609.14,46.28 610.69,57.04 612.24,39.06 613.8,43.79 615.35,47.68 616.9,44.73 618.46,41.15 620.01,37 621.57,24.74 623.12,33.4 624.67,33.32 626.23,24.93 627.78,28.78 629.33,26.24 630.89,23.18 632.44,16.49 634,18.76 635.55,21.28 637.1,22.35 638.66,21.58 640.21,19.07 641.76,19.35 643.32,23.86 644.87,16.51 646.43,19.77 647.98,15.57 649.53,19.52 651.09,21.29 652.64,17.08 654.19,19.19 655.75,16.04 657.3,14.89 658.86,15.26 660.41,16.18 661.96,14.4 663.52,19.41 665.07,14.48 666.62,18.43 668.18,15.94 669.73,15.12 671.29,14.4 672.84,16.33 674.39,20.37 675.95,16.9 677.5,14.83 677.5,105.01 675.95,108.86 674.39,110.28 672.84,105.63 671.29,108.6 669.73,117.1 668.18,108.68 666.62,114.34 665.07,111.53 663.52,117.25 661.96,118.63 660.41,116.43 658.86,121.6 657.3,121.49 655.75,120.79 654.19,119.85 652.64,121.32 651.09,124.95 649.53,125.42 647.98,122.36 646.43,124.99 644.87,127.05 643.32,128.9 641.76,129.69 640.21,134.57 638.66,129.77 637.1,135.56 635.55,136.56 634,135.37 632.44,142.31 630.89,135.79 629.33,143.93 627.78,138.84 626.23,141.98 624.67,141.49 623.12,138.97 621.57,142.25 620.01,143.66 618.46,143.29 616.9,152.09 615.35,144.93 613.8,147.5 612.24,151.64 610.69,145.83 609.14,148.22 607.58,148.57 606.03,150.89 604.48,152.02 602.92,150.35 601.37,151.07 599.81,154.89 598.26,156.73 596.71,152.22 595.15,152.47 593.6,150.9 592.05,159.47 590.49,158.33 588.94,152.22 587.38,155.44 585.83,158.07 584.28,160.38 582.72,160.51 581.17,160.79 579.62,162.59 578.06,166.21 576.51,168.79 574.95,168.86 573.4,170.09 571.85,170.47 570.29,170.81 568.74,166.79 567.19,174.3 565.63,171.24 564.08,173.7 562.52,173.85 560.97,175.98 559.42,174.21 557.86,179.93 556.31,175.09 554.76,178.7 553.2,180.11 551.65,181.21 550.1,182.35 548.54,180.35 546.99,181.46 545.43,181.57 543.88,182.02 542.33,182.01 540.77,181.24 539.22,181.06 537.67,182.23 536.11,183.39 534.56,183.79 533,184.17 531.45,184.82 529.9,185.6 528.34,185.69 526.79,184.56 525.24,183.43 523.68,184.41 522.13,185.11 520.57,184.72 519.02,184.33 517.47,185.02 515.91,185.79 514.36,186.41 512.81,186.93 511.25,189.25 509.7,191.1 508.14,187.99 506.59,186.47 505.04,187.4 503.48,188.33 501.93,189.17 500.38,189.93 498.82,190.48 497.27,189.45 495.71,188.21 494.16,186.66 492.61,186.91 491.05,187.64" fill="#ecdaf5"/>
<polygon points="491.05,157.66 492.61,162.32 494.16,163.09 495.71,163.29 497.27,162.25 498.82,161.46 500.38,160.94 501.93,160.44 503.48,159.94 505.04,157.03 506.59,155.66 508.14,161.7 509.7,161.7 511.25,161.1 512.81,159.03 514.36,156.67 515.91,154.08 517.47,151.7 519.02,152.6 520.57,155.19 522.13,153.97 523.68,152.98 525.24,154.47 526.79,152.97 528.34,152.03 529.9,153.06 531.45,153.22 533,152.45 534.56,151.67 536.11,150.89 537.67,150.12 539.22,149.56 540.77,149.04 542.33,148.52 543.88,145.83 545.43,140.77 546.99,143.88 548.54,140.32 550.1,141.82 551.65,139.51 553.2,138.62 554.76,135.35 556.31,130 557.86,131.86 559.42,127.3 560.97,128.27 562.52,127.2 564.08,125.28 565.63,121.71 567.19,122.77 568.74,125.17 570.29,120.12 571.85,127.34 573.4,125.05 574.95,116.25 576.51,118.31 578.06,121.09 579.62,115.32 581.17,113.53 582.72,114.33 584.28,114.99 585.83,110.22 587.38,111.21 588.94,107.29 590.49,107.48 592.05,106.96 593.6,99.76 595.15,101.52 596.71,101.21 598.26,99.48 599.81,99.38 601.37,97.21 602.92,89.88 604.48,89.82 606.03,92.12 607.58,88.9 609.14,85.47 610.69,82.43 612.24,83.1 613.8,77.98 615.35,77.96 616.9,80.85 618.46,74.35 620.01,71.23 621.57,71.75 623.12,70.93 624.67,67.25 626.23,72.29 627.78,67.32 629.33,65.83 630.89,64.38 632.44,67.62 634,61.58 635.55,63.27 637.1,58.7 638.66,59.38 640.21,59.32 641.76,58.06 643.32,56.44 644.87,50.96 646.43,54.37 647.98,48.98 649.53,48.94 651.09,49.94 652.64,42.12 654.19,46.25 655.75,42.78 657.3,38.6 658.86,37.02 660.41,38.27 661.96,34.15 663.52,36.65 665.07,36.27 666.62,32.14 668.18,34.3 669.73,33.43 671.29,25.57 672.84,29.15 674.39,29.81 675.95,28.36 677.5,26.47 677.5,72.28 675.95,74.9 674.39,74.32 672.84,75.18 671.29,74.36 669.73,78.83 668.18,77.11 666.62,80.89 665.07,80.6 663.52,84.62 661.96,85.61 660.41,83.54 658.86,88.68 657.3,86.91 655.75,85.97 654.19,91.75 652.64,93.2 651.09,97.46 649.53,92.11 647.98,93.57 646.43,95.6 644.87,98.39 643.32,101.19 641.76,106.67 640.21,103.23 638.66,103.11 637.1,105 635.55,107.31 634,104.44 632.44,108.91 630.89,108.79 629.33,105.76 627.78,110.48 626.23,113.27 624.67,109.68 623.12,109.09 621.57,115.9 620.01,113.86 618.46,117.47 616.9,119.78 615.35,116.05 613.8,122.34 612.24,122.66 610.69,123.14 609.14,123.32 607.58,127.26 606.03,129.21 604.48,127.99 602.92,129.94 601.37,132.85 599.81,132.36 598.26,135.4 596.71,135.77 595.15,131.37 593.6,134.87 592.05,139.98 590.49,136.18 588.94,134.97 587.38,142.73 585.83,143.33 584.28,145.1 582.72,143.16 581.17,143.58 579.62,142.61 578.06,149.65 576.51,147.59 574.95,149.28 573.4,148.26 571.85,150.6 570.29,146.97 568.74,150.02 567.19,148.9 565.63,149.48 564.08,156.4 562.52,154.24 560.97,151.93 559.42,155.9 557.86,155.25 556.31,156.99 554.76,160.59 553.2,160.14 551.65,161 550.1,162.99 548.54,163.26 546.99,165.68 545.43,169.89 543.88,170.81 542.33,172.11 540.77,172.93 539.22,173.32 537.67,172.75 536.11,173.42 534.56,175.03 533,177.24 531.45,176.25 529.9,173.66 528.34,172.96 526.79,172.81 525.24,174.36 523.68,174.89 522.13,173.85 520.57,173.76 519.02,174.14 517.47,174.22 515.91,173.7 514.36,174.13 512.81,175.16 511.25,176.65 509.7,177.87 508.14,176.83 506.59,176.81 505.04,178.36 503.48,179.87 501.93,180.87 500.38,181.46 498.82,180.94 497.27,180.28 495.71,179.51 494.16,179 492.61,179.45 491.05,179.75" fill="#cea1e6"/>
<polyline points="491.05,166.66 492.61,167.91 494.16,170.25 495.71,172.03 497.27,169.82 498.82,170.34 500.38,171.15 501.93,172.33 503.48,170.26 505.04,168.18 506.59,166.11 508.14,165.95 509.7,175.53 511.25,173.44 512.81,169.25 514.36,165.11 515.91,162.4 517.47,161.88 519.02,163.3 520.57,164.96 522.13,163.06 523.68,161.2 525.24,159.42 526.79,160.48 528.34,161.17 529.9,160.6 531.45,161.69 533,164.57 534.56,164.14 536.11,162.61 537.67,164.17 539.22,158.88 540.77,153.3 542.33,155.15 543.88,155.49 545.43,153.33 546.99,155.69 548.54,146.17 550.1,147.99 551.65,145.29 553.2,144.8 554.76,144.89 556.31,140.14 557.86,145.27 559.42,143.24 560.97,136.03 562.52,142.48 564.08,145.13 565.63,135.65 567.19,137.63 568.74,133.41 570.29,131.32 571.85,135.89 573.4,134.53 574.95,129.24 576.51,136.94 578.06,131.9 579.62,126.98 581.17,128.2 582.72,126.75 584.28,126.27 585.83,129.13 587.38,126.59 588.94,121.73 590.49,122.29 592.05,121.53 593.6,116.46 595.15,116.19 596.71,119.14 598.26,112.96 599.81,111.39 601.37,113.48 602.92,106.61 604.48,106.47 606.03,107.91 607.58,106.43 609.14,103.56 610.69,103.01 612.24,101.24 613.8,103.84 615.35,102.31 616.9,105.95 618.46,96.46 620.01,91.64 621.57,90.71 623.12,91.72 624.67,86.32 626.23,90.04 627.78,85.01 629.33,85.73 630.89,81.99 632.44,86.42 634,82.52 635.55,81.66 637.1,77.29 638.66,79.2 640.21,75.85 641.76,78.9 643.32,74.68 644.87,73.13 646.43,81.31 647.98,71.96 649.53,69.53 651.09,73.37 652.64,70.69 654.19,70.54 655.75,64.41 657.3,61.63 658.86,65.38 660.41,52.81 661.96,57.91 663.52,57.91 665.07,52.6 666.62,51.92 668.18,48.76 669.73,52.62 671.29,47.43 672.84,53 674.39,51.99 675.95,45.33 677.5,45.77" fill="none" stroke="#982ecf" stroke-width="1.6" stroke-linejoin="round"/>
<circle cx="490.8" cy="176.1" r="1.85" fill="#1c1c1c"/>
<circle cx="492.2" cy="166.2" r="1.85" fill="#1c1c1c"/>
<circle cx="494" cy="166.2" r="1.85" fill="#1c1c1c"/>
<circle cx="495.3" cy="173.9" r="1.85" fill="#1c1c1c"/>
<circle cx="496.7" cy="178.9" r="1.85" fill="#1c1c1c"/>
<circle cx="498.5" cy="179" r="1.85" fill="#1c1c1c"/>
<circle cx="500.3" cy="164.6" r="1.85" fill="#1c1c1c"/>
<circle cx="501.7" cy="176.6" r="1.85" fill="#1c1c1c"/>
<circle cx="503.3" cy="159.9" r="1.85" fill="#1c1c1c"/>
<circle cx="504.8" cy="174.8" r="1.85" fill="#1c1c1c"/>
<circle cx="506.6" cy="174.3" r="1.85" fill="#1c1c1c"/>
<circle cx="508.4" cy="165.7" r="1.85" fill="#1c1c1c"/>
<circle cx="509.3" cy="182.3" r="1.85" fill="#1c1c1c"/>
<circle cx="511.2" cy="184.7" r="1.85" fill="#1c1c1c"/>
<circle cx="512.5" cy="176.9" r="1.85" fill="#1c1c1c"/>
<circle cx="514.3" cy="167.5" r="1.85" fill="#1c1c1c"/>
<circle cx="515.7" cy="179.6" r="1.85" fill="#1c1c1c"/>
<circle cx="517.2" cy="148.8" r="1.85" fill="#1c1c1c"/>
<circle cx="518.8" cy="170.7" r="1.85" fill="#1c1c1c"/>
<circle cx="520.4" cy="168.3" r="1.85" fill="#1c1c1c"/>
<circle cx="522.1" cy="158.8" r="1.85" fill="#1c1c1c"/>
<circle cx="523.5" cy="149" r="1.85" fill="#1c1c1c"/>
<circle cx="525.5" cy="161" r="1.85" fill="#1c1c1c"/>
<circle cx="526.9" cy="174.3" r="1.85" fill="#1c1c1c"/>
<circle cx="528.4" cy="171" r="1.85" fill="#1c1c1c"/>
<circle cx="529.8" cy="157.6" r="1.85" fill="#1c1c1c"/>
<circle cx="531.5" cy="156.7" r="1.85" fill="#1c1c1c"/>
<circle cx="533" cy="139.2" r="1.85" fill="#1c1c1c"/>
<circle cx="534.4" cy="159.4" r="1.85" fill="#1c1c1c"/>
<circle cx="536" cy="153.1" r="1.85" fill="#1c1c1c"/>
<circle cx="537.5" cy="156.7" r="1.85" fill="#1c1c1c"/>
<circle cx="539.1" cy="145.6" r="1.85" fill="#1c1c1c"/>
<circle cx="540.7" cy="167.5" r="1.85" fill="#1c1c1c"/>
<circle cx="542.1" cy="154.9" r="1.85" fill="#1c1c1c"/>
<circle cx="542.5" cy="168" r="1.85" fill="#1c1c1c"/>
<circle cx="544.1" cy="168.5" r="1.85" fill="#1c1c1c"/>
<circle cx="545.2" cy="147.9" r="1.85" fill="#1c1c1c"/>
<circle cx="547" cy="150.8" r="1.85" fill="#1c1c1c"/>
<circle cx="548.8" cy="157.6" r="1.85" fill="#1c1c1c"/>
<rect x="489.5" y="14.4" width="188" height="190.1" fill="none" stroke="#333" stroke-width="1"/>
<line x1="491.05" y1="204.5" x2="491.05" y2="201.5" stroke="#333" stroke-width="0.8"/>
<line x1="491.05" y1="14.4" x2="491.05" y2="17.4" stroke="#333" stroke-width="0.8"/>
<text x="491.05" y="213.8" font-size="6.3" text-anchor="middle" font-weight="normal" fill="#1a1a1a">1980</text>
<line x1="522.13" y1="204.5" x2="522.13" y2="201.5" stroke="#333" stroke-width="0.8"/>
<line x1="522.13" y1="14.4" x2="522.13" y2="17.4" stroke="#333" stroke-width="0.8"/>
<text x="522.13" y="213.8" font-size="6.3" text-anchor="middle" font-weight="normal" fill="#1a1a1a">2000</text>
<line x1="553.2" y1="204.5" x2="553.2" y2="201.5" stroke="#333" stroke-width="0.8"/>
<line x1="553.2" y1="14.4" x2="553.2" y2="17.4" stroke="#333" stroke-width="0.8"/>
<text x="553.2" y="213.8" font-size="6.3" text-anchor="middle" font-weight="normal" fill="#1a1a1a">2020</text>
<line x1="584.28" y1="204.5" x2="584.28" y2="201.5" stroke="#333" stroke-width="0.8"/>
<line x1="584.28" y1="14.4" x2="584.28" y2="17.4" stroke="#333" stroke-width="0.8"/>
<text x="584.28" y="213.8" font-size="6.3" text-anchor="middle" font-weight="normal" fill="#1a1a1a">2040</text>
<line x1="615.35" y1="204.5" x2="615.35" y2="201.5" stroke="#333" stroke-width="0.8"/>
<line x1="615.35" y1="14.4" x2="615.35" y2="17.4" stroke="#333" stroke-width="0.8"/>
<text x="615.35" y="213.8" font-size="6.3" text-anchor="middle" font-weight="normal" fill="#1a1a1a">2060</text>
<line x1="646.43" y1="204.5" x2="646.43" y2="201.5" stroke="#333" stroke-width="0.8"/>
<line x1="646.43" y1="14.4" x2="646.43" y2="17.4" stroke="#333" stroke-width="0.8"/>
<text x="646.43" y="213.8" font-size="6.3" text-anchor="middle" font-weight="normal" fill="#1a1a1a">2080</text>
<line x1="677.5" y1="204.5" x2="677.5" y2="201.5" stroke="#333" stroke-width="0.8"/>
<line x1="677.5" y1="14.4" x2="677.5" y2="17.4" stroke="#333" stroke-width="0.8"/>
<text x="677.5" y="213.8" font-size="6.3" text-anchor="middle" font-weight="normal" fill="#1a1a1a">2100</text>
<line x1="489.5" y1="204.6" x2="492.5" y2="204.6" stroke="#333" stroke-width="0.8"/>
<line x1="677.5" y1="204.6" x2="674.5" y2="204.6" stroke="#333" stroke-width="0.8"/>
<text x="485" y="206.8" font-size="6.3" text-anchor="end" font-weight="normal" fill="#1a1a1a">-5</text>
<line x1="489.5" y1="166.7" x2="492.5" y2="166.7" stroke="#333" stroke-width="0.8"/>
<line x1="677.5" y1="166.7" x2="674.5" y2="166.7" stroke="#333" stroke-width="0.8"/>
<text x="485" y="168.9" font-size="6.3" text-anchor="end" font-weight="normal" fill="#1a1a1a">0</text>
<line x1="489.5" y1="128.8" x2="492.5" y2="128.8" stroke="#333" stroke-width="0.8"/>
<line x1="677.5" y1="128.8" x2="674.5" y2="128.8" stroke="#333" stroke-width="0.8"/>
<text x="485" y="131" font-size="6.3" text-anchor="end" font-weight="normal" fill="#1a1a1a">5</text>
<line x1="489.5" y1="90.9" x2="492.5" y2="90.9" stroke="#333" stroke-width="0.8"/>
<line x1="677.5" y1="90.9" x2="674.5" y2="90.9" stroke="#333" stroke-width="0.8"/>
<text x="485" y="93.1" font-size="6.3" text-anchor="end" font-weight="normal" fill="#1a1a1a">10</text>
<line x1="489.5" y1="53" x2="492.5" y2="53" stroke="#333" stroke-width="0.8"/>
<line x1="677.5" y1="53" x2="674.5" y2="53" stroke="#333" stroke-width="0.8"/>
<text x="485" y="55.2" font-size="6.3" text-anchor="end" font-weight="normal" fill="#1a1a1a">15</text>
<line x1="489.5" y1="15.1" x2="492.5" y2="15.1" stroke="#333" stroke-width="0.8"/>
<line x1="677.5" y1="15.1" x2="674.5" y2="15.1" stroke="#333" stroke-width="0.8"/>
<text x="485" y="17.3" font-size="6.3" text-anchor="end" font-weight="normal" fill="#1a1a1a">20</text>
<text x="583.5" y="224.8" font-size="7.25" text-anchor="middle" font-weight="normal" fill="#1a1a1a">Year</text>
<text x="578.9" y="7.1" font-size="8.55" text-anchor="middle" font-weight="bold" fill="#111">Historical + SSP5-8.5</text>
<text x="472.2" y="109.45" font-size="7.6" text-anchor="middle" font-weight="normal" fill="#1a1a1a" transform="rotate(-90 472.2 109.45)">Projected frequency anomalies of soil-based CDHEs (days)</text>
<rect x="36.4" y="247.2" width="41.1" height="10.3" fill="#8c8c8c"/>
<rect x="36.4" y="260.4" width="17.72" height="10.3" fill="#8c8c8c"/>
<rect x="36.4" y="273.6" width="27.39" height="10.3" fill="#8c8c8c"/>
<rect x="36.4" y="286.8" width="41.25" height="10.3" fill="#8c8c8c"/>
<rect x="36.4" y="300" width="41.25" height="10.3" fill="#8c8c8c"/>
<rect x="36.4" y="313.2" width="41.25" height="10.3" fill="#8c8c8c"/>
<rect x="54.77" y="248.3" width="1.6" height="1.6" fill="#111"/>
<rect x="55.62" y="248.3" width="1.6" height="1.6" fill="#111"/>
<rect x="56.47" y="248.3" width="1.6" height="1.6" fill="#111"/>
<rect x="57.12" y="248.3" width="1.6" height="1.6" fill="#111"/>
<rect x="58.02" y="248.3" width="1.6" height="1.6" fill="#111"/>
<rect x="58.82" y="248.3" width="1.6" height="1.6" fill="#111"/>
<rect x="59.52" y="248.3" width="1.6" height="1.6" fill="#111"/>
<rect x="60.64" y="248.3" width="1.6" height="1.6" fill="#111"/>
<rect x="61.42" y="248.3" width="1.6" height="1.6" fill="#111"/>
<rect x="62.37" y="248.3" width="1.6" height="1.6" fill="#111"/>
<rect x="63.05" y="248.3" width="1.6" height="1.6" fill="#111"/>
<rect x="63.65" y="248.3" width="1.6" height="1.6" fill="#111"/>
<rect x="64.7" y="248.3" width="1.6" height="1.6" fill="#111"/>
<rect x="65.33" y="248.3" width="1.6" height="1.6" fill="#111"/>
<rect x="66.3" y="248.3" width="1.6" height="1.6" fill="#111"/>
<rect x="67.11" y="248.3" width="1.6" height="1.6" fill="#111"/>
<rect x="67.95" y="248.3" width="1.6" height="1.6" fill="#111"/>
<rect x="68.58" y="248.3" width="1.6" height="1.6" fill="#111"/>
<rect x="69.35" y="248.3" width="1.6" height="1.6" fill="#111"/>
<rect x="70.07" y="248.3" width="1.6" height="1.6" fill="#111"/>
<rect x="71.22" y="248.3" width="1.6" height="1.6" fill="#111"/>
<rect x="72.06" y="248.3" width="1.6" height="1.6" fill="#111"/>
<rect x="72.46" y="248.3" width="1.6" height="1.6" fill="#111"/>
<rect x="73.37" y="248.3" width="1.6" height="1.6" fill="#111"/>
<rect x="74.19" y="248.3" width="1.6" height="1.6" fill="#111"/>
<rect x="75.05" y="248.3" width="1.6" height="1.6" fill="#111"/>
<rect x="75.87" y="248.3" width="1.6" height="1.6" fill="#111"/>
<rect x="76.79" y="248.3" width="1.6" height="1.6" fill="#111"/>
<rect x="77.65" y="248.3" width="1.6" height="1.6" fill="#111"/>
<rect x="78.45" y="248.3" width="1.6" height="1.6" fill="#111"/>
<rect x="81.48" y="248.3" width="1.6" height="1.6" fill="#111"/>
<rect x="82.52" y="248.3" width="1.6" height="1.6" fill="#111"/>
<rect x="84.33" y="248.3" width="1.6" height="1.6" fill="#111"/>
<rect x="88.11" y="248.3" width="1.6" height="1.6" fill="#111"/>
<rect x="89.17" y="248.3" width="1.6" height="1.6" fill="#111"/>
<rect x="90.66" y="248.3" width="1.6" height="1.6" fill="#111"/>
<rect x="92.2" y="248.3" width="1.6" height="1.6" fill="#111"/>
<rect x="96.64" y="248.3" width="1.6" height="1.6" fill="#111"/>
<rect x="98.84" y="248.3" width="1.6" height="1.6" fill="#111"/>
<rect x="105.44" y="248.3" width="1.6" height="1.6" fill="#111"/>
<rect x="112.03" y="248.3" width="1.6" height="1.6" fill="#111"/>
<line x1="57.64" y1="252.5" x2="113.56" y2="252.5" stroke="#111" stroke-width="0.85"/>
<line x1="57.64" y1="250.7" x2="57.64" y2="254.8" stroke="#111" stroke-width="0.9"/>
<line x1="113.56" y1="250.7" x2="113.56" y2="254.8" stroke="#111" stroke-width="0.9"/>
<text x="32.4" y="254.2" font-size="6.45" text-anchor="end" font-weight="normal" fill="#1a1a1a">Impervious</text>
<line x1="36.4" y1="252.3" x2="38.9" y2="252.3" stroke="#333" stroke-width="0.8"/>
<line x1="221" y1="252.3" x2="218.5" y2="252.3" stroke="#333" stroke-width="0.8"/>
<rect x="37.96" y="261.5" width="1.6" height="1.6" fill="#111"/>
<rect x="38.68" y="261.5" width="1.6" height="1.6" fill="#111"/>
<rect x="39.59" y="261.5" width="1.6" height="1.6" fill="#111"/>
<rect x="40.45" y="261.5" width="1.6" height="1.6" fill="#111"/>
<rect x="41.44" y="261.5" width="1.6" height="1.6" fill="#111"/>
<rect x="42.44" y="261.5" width="1.6" height="1.6" fill="#111"/>
<rect x="43" y="261.5" width="1.6" height="1.6" fill="#111"/>
<rect x="43.98" y="261.5" width="1.6" height="1.6" fill="#111"/>
<rect x="44.85" y="261.5" width="1.6" height="1.6" fill="#111"/>
<rect x="45.87" y="261.5" width="1.6" height="1.6" fill="#111"/>
<rect x="46.41" y="261.5" width="1.6" height="1.6" fill="#111"/>
<rect x="47.55" y="261.5" width="1.6" height="1.6" fill="#111"/>
<rect x="48.55" y="261.5" width="1.6" height="1.6" fill="#111"/>
<rect x="49.29" y="261.5" width="1.6" height="1.6" fill="#111"/>
<rect x="49.92" y="261.5" width="1.6" height="1.6" fill="#111"/>
<rect x="50.73" y="261.5" width="1.6" height="1.6" fill="#111"/>
<rect x="51.59" y="261.5" width="1.6" height="1.6" fill="#111"/>
<rect x="52.67" y="261.5" width="1.6" height="1.6" fill="#111"/>
<rect x="53.3" y="261.5" width="1.6" height="1.6" fill="#111"/>
<rect x="54.25" y="261.5" width="1.6" height="1.6" fill="#111"/>
<rect x="55.26" y="261.5" width="1.6" height="1.6" fill="#111"/>
<rect x="56.1" y="261.5" width="1.6" height="1.6" fill="#111"/>
<rect x="56.75" y="261.5" width="1.6" height="1.6" fill="#111"/>
<rect x="57.81" y="261.5" width="1.6" height="1.6" fill="#111"/>
<rect x="58.59" y="261.5" width="1.6" height="1.6" fill="#111"/>
<rect x="59.26" y="261.5" width="1.6" height="1.6" fill="#111"/>
<rect x="60.29" y="261.5" width="1.6" height="1.6" fill="#111"/>
<rect x="61.3" y="261.5" width="1.6" height="1.6" fill="#111"/>
<rect x="62.19" y="261.5" width="1.6" height="1.6" fill="#111"/>
<rect x="62.98" y="261.5" width="1.6" height="1.6" fill="#111"/>
<rect x="65.7" y="261.5" width="1.6" height="1.6" fill="#111"/>
<rect x="67.8" y="261.5" width="1.6" height="1.6" fill="#111"/>
<rect x="69.84" y="261.5" width="1.6" height="1.6" fill="#111"/>
<rect x="71.02" y="261.5" width="1.6" height="1.6" fill="#111"/>
<rect x="73.47" y="261.5" width="1.6" height="1.6" fill="#111"/>
<line x1="40.41" y1="265.5" x2="70.54" y2="265.5" stroke="#111" stroke-width="0.85"/>
<line x1="40.41" y1="263.7" x2="40.41" y2="267.8" stroke="#111" stroke-width="0.9"/>
<line x1="70.54" y1="263.7" x2="70.54" y2="267.8" stroke="#111" stroke-width="0.9"/>
<text x="32.4" y="267.4" font-size="6.45" text-anchor="end" font-weight="normal" fill="#1a1a1a">Barren</text>
<line x1="36.4" y1="265.5" x2="38.9" y2="265.5" stroke="#333" stroke-width="0.8"/>
<line x1="221" y1="265.5" x2="218.5" y2="265.5" stroke="#333" stroke-width="0.8"/>
<rect x="44.38" y="274.7" width="1.6" height="1.6" fill="#111"/>
<rect x="45.44" y="274.7" width="1.6" height="1.6" fill="#111"/>
<rect x="46.57" y="274.7" width="1.6" height="1.6" fill="#111"/>
<rect x="47.57" y="274.7" width="1.6" height="1.6" fill="#111"/>
<rect x="48.25" y="274.7" width="1.6" height="1.6" fill="#111"/>
<rect x="49.49" y="274.7" width="1.6" height="1.6" fill="#111"/>
<rect x="50.29" y="274.7" width="1.6" height="1.6" fill="#111"/>
<rect x="51.29" y="274.7" width="1.6" height="1.6" fill="#111"/>
<rect x="52.13" y="274.7" width="1.6" height="1.6" fill="#111"/>
<rect x="53.37" y="274.7" width="1.6" height="1.6" fill="#111"/>
<rect x="54.3" y="274.7" width="1.6" height="1.6" fill="#111"/>
<rect x="55.21" y="274.7" width="1.6" height="1.6" fill="#111"/>
<rect x="56.16" y="274.7" width="1.6" height="1.6" fill="#111"/>
<rect x="56.7" y="274.7" width="1.6" height="1.6" fill="#111"/>
<rect x="57.89" y="274.7" width="1.6" height="1.6" fill="#111"/>
<rect x="58.7" y="274.7" width="1.6" height="1.6" fill="#111"/>
<rect x="59.6" y="274.7" width="1.6" height="1.6" fill="#111"/>
<rect x="60.47" y="274.7" width="1.6" height="1.6" fill="#111"/>
<rect x="61.68" y="274.7" width="1.6" height="1.6" fill="#111"/>
<rect x="62.83" y="274.7" width="1.6" height="1.6" fill="#111"/>
<rect x="63.72" y="274.7" width="1.6" height="1.6" fill="#111"/>
<rect x="64.79" y="274.7" width="1.6" height="1.6" fill="#111"/>
<rect x="65.54" y="274.7" width="1.6" height="1.6" fill="#111"/>
<rect x="66.21" y="274.7" width="1.6" height="1.6" fill="#111"/>
<rect x="67.54" y="274.7" width="1.6" height="1.6" fill="#111"/>
<rect x="68.23" y="274.7" width="1.6" height="1.6" fill="#111"/>
<rect x="69.26" y="274.7" width="1.6" height="1.6" fill="#111"/>
<rect x="70.46" y="274.7" width="1.6" height="1.6" fill="#111"/>
<rect x="76.85" y="274.7" width="1.6" height="1.6" fill="#111"/>
<rect x="81.98" y="274.7" width="1.6" height="1.6" fill="#111"/>
<rect x="83.45" y="274.7" width="1.6" height="1.6" fill="#111"/>
<line x1="47.38" y1="278.5" x2="78.01" y2="278.5" stroke="#111" stroke-width="0.85"/>
<line x1="47.38" y1="276.7" x2="47.38" y2="280.8" stroke="#111" stroke-width="0.9"/>
<line x1="78.01" y1="276.7" x2="78.01" y2="280.8" stroke="#111" stroke-width="0.9"/>
<text x="32.4" y="280.6" font-size="6.45" text-anchor="end" font-weight="normal" fill="#1a1a1a">Grassland</text>
<line x1="36.4" y1="278.7" x2="38.9" y2="278.7" stroke="#333" stroke-width="0.8"/>
<line x1="221" y1="278.7" x2="218.5" y2="278.7" stroke="#333" stroke-width="0.8"/>
<rect x="42.76" y="287.9" width="1.6" height="1.6" fill="#111"/>
<rect x="49.73" y="287.9" width="1.6" height="1.6" fill="#111"/>
<rect x="55.59" y="287.9" width="1.6" height="1.6" fill="#111"/>
<rect x="62.21" y="287.9" width="1.6" height="1.6" fill="#111"/>
<rect x="62.82" y="287.9" width="1.6" height="1.6" fill="#111"/>
<rect x="63.63" y="287.9" width="1.6" height="1.6" fill="#111"/>
<rect x="64.24" y="287.9" width="1.6" height="1.6" fill="#111"/>
<rect x="65.31" y="287.9" width="1.6" height="1.6" fill="#111"/>
<rect x="65.79" y="287.9" width="1.6" height="1.6" fill="#111"/>
<rect x="66.77" y="287.9" width="1.6" height="1.6" fill="#111"/>
<rect x="67.14" y="287.9" width="1.6" height="1.6" fill="#111"/>
<rect x="68.02" y="287.9" width="1.6" height="1.6" fill="#111"/>
<rect x="68.84" y="287.9" width="1.6" height="1.6" fill="#111"/>
<rect x="69.64" y="287.9" width="1.6" height="1.6" fill="#111"/>
<rect x="70.24" y="287.9" width="1.6" height="1.6" fill="#111"/>
<rect x="71.1" y="287.9" width="1.6" height="1.6" fill="#111"/>
<rect x="71.92" y="287.9" width="1.6" height="1.6" fill="#111"/>
<rect x="72.3" y="287.9" width="1.6" height="1.6" fill="#111"/>
<rect x="73.33" y="287.9" width="1.6" height="1.6" fill="#111"/>
<rect x="73.88" y="287.9" width="1.6" height="1.6" fill="#111"/>
<rect x="74.69" y="287.9" width="1.6" height="1.6" fill="#111"/>
<rect x="75.34" y="287.9" width="1.6" height="1.6" fill="#111"/>
<rect x="76.01" y="287.9" width="1.6" height="1.6" fill="#111"/>
<rect x="77.04" y="287.9" width="1.6" height="1.6" fill="#111"/>
<rect x="77.79" y="287.9" width="1.6" height="1.6" fill="#111"/>
<rect x="78.26" y="287.9" width="1.6" height="1.6" fill="#111"/>
<rect x="79.13" y="287.9" width="1.6" height="1.6" fill="#111"/>
<rect x="79.69" y="287.9" width="1.6" height="1.6" fill="#111"/>
<rect x="80.62" y="287.9" width="1.6" height="1.6" fill="#111"/>
<rect x="81.11" y="287.9" width="1.6" height="1.6" fill="#111"/>
<rect x="81.83" y="287.9" width="1.6" height="1.6" fill="#111"/>
<rect x="84.41" y="287.9" width="1.6" height="1.6" fill="#111"/>
<rect x="85.62" y="287.9" width="1.6" height="1.6" fill="#111"/>
<rect x="87.06" y="287.9" width="1.6" height="1.6" fill="#111"/>
<rect x="88.71" y="287.9" width="1.6" height="1.6" fill="#111"/>
<rect x="90.39" y="287.9" width="1.6" height="1.6" fill="#111"/>
<rect x="95.91" y="287.9" width="1.6" height="1.6" fill="#111"/>
<rect x="103.14" y="287.9" width="1.6" height="1.6" fill="#111"/>
<rect x="105.78" y="287.9" width="1.6" height="1.6" fill="#111"/>
<rect x="107.4" y="287.9" width="1.6" height="1.6" fill="#111"/>
<line x1="50.01" y1="291.5" x2="104.77" y2="291.5" stroke="#111" stroke-width="0.85"/>
<line x1="50.01" y1="289.7" x2="50.01" y2="293.8" stroke="#111" stroke-width="0.9"/>
<line x1="104.77" y1="289.7" x2="104.77" y2="293.8" stroke="#111" stroke-width="0.9"/>
<text x="32.4" y="293.8" font-size="6.45" text-anchor="end" font-weight="normal" fill="#1a1a1a">Shrub</text>
<line x1="36.4" y1="291.9" x2="38.9" y2="291.9" stroke="#333" stroke-width="0.8"/>
<line x1="221" y1="291.9" x2="218.5" y2="291.9" stroke="#333" stroke-width="0.8"/>
<rect x="60.72" y="301.1" width="1.6" height="1.6" fill="#111"/>
<rect x="63.32" y="301.1" width="1.6" height="1.6" fill="#111"/>
<rect x="64.08" y="301.1" width="1.6" height="1.6" fill="#111"/>
<rect x="64.94" y="301.1" width="1.6" height="1.6" fill="#111"/>
<rect x="65.94" y="301.1" width="1.6" height="1.6" fill="#111"/>
<rect x="66.8" y="301.1" width="1.6" height="1.6" fill="#111"/>
<rect x="67.7" y="301.1" width="1.6" height="1.6" fill="#111"/>
<rect x="69" y="301.1" width="1.6" height="1.6" fill="#111"/>
<rect x="69.51" y="301.1" width="1.6" height="1.6" fill="#111"/>
<rect x="70.78" y="301.1" width="1.6" height="1.6" fill="#111"/>
<rect x="71.39" y="301.1" width="1.6" height="1.6" fill="#111"/>
<rect x="72.54" y="301.1" width="1.6" height="1.6" fill="#111"/>
<rect x="73.41" y="301.1" width="1.6" height="1.6" fill="#111"/>
<rect x="74.22" y="301.1" width="1.6" height="1.6" fill="#111"/>
<rect x="75.26" y="301.1" width="1.6" height="1.6" fill="#111"/>
<rect x="76.28" y="301.1" width="1.6" height="1.6" fill="#111"/>
<rect x="77.16" y="301.1" width="1.6" height="1.6" fill="#111"/>
<rect x="78.3" y="301.1" width="1.6" height="1.6" fill="#111"/>
<rect x="79.05" y="301.1" width="1.6" height="1.6" fill="#111"/>
<rect x="79.9" y="301.1" width="1.6" height="1.6" fill="#111"/>
<rect x="80.76" y="301.1" width="1.6" height="1.6" fill="#111"/>
<rect x="81.88" y="301.1" width="1.6" height="1.6" fill="#111"/>
<rect x="82.66" y="301.1" width="1.6" height="1.6" fill="#111"/>
<rect x="83.77" y="301.1" width="1.6" height="1.6" fill="#111"/>
<rect x="84.62" y="301.1" width="1.6" height="1.6" fill="#111"/>
<rect x="85.22" y="301.1" width="1.6" height="1.6" fill="#111"/>
<rect x="86.21" y="301.1" width="1.6" height="1.6" fill="#111"/>
<rect x="87.04" y="301.1" width="1.6" height="1.6" fill="#111"/>
<rect x="88.15" y="301.1" width="1.6" height="1.6" fill="#111"/>
<rect x="89.05" y="301.1" width="1.6" height="1.6" fill="#111"/>
<rect x="90.06" y="301.1" width="1.6" height="1.6" fill="#111"/>
<rect x="93.71" y="301.1" width="1.6" height="1.6" fill="#111"/>
<rect x="95.17" y="301.1" width="1.6" height="1.6" fill="#111"/>
<line x1="65.85" y1="305.5" x2="91.58" y2="305.5" stroke="#111" stroke-width="0.85"/>
<line x1="65.85" y1="303.7" x2="65.85" y2="307.8" stroke="#111" stroke-width="0.9"/>
<line x1="91.58" y1="303.7" x2="91.58" y2="307.8" stroke="#111" stroke-width="0.9"/>
<text x="32.4" y="307" font-size="6.45" text-anchor="end" font-weight="normal" fill="#1a1a1a">Forest</text>
<line x1="36.4" y1="305.1" x2="38.9" y2="305.1" stroke="#333" stroke-width="0.8"/>
<line x1="221" y1="305.1" x2="218.5" y2="305.1" stroke="#333" stroke-width="0.8"/>
<rect x="57.57" y="314.3" width="1.6" height="1.6" fill="#111"/>
<rect x="63.33" y="314.3" width="1.6" height="1.6" fill="#111"/>
<rect x="64.19" y="314.3" width="1.6" height="1.6" fill="#111"/>
<rect x="65.28" y="314.3" width="1.6" height="1.6" fill="#111"/>
<rect x="65.93" y="314.3" width="1.6" height="1.6" fill="#111"/>
<rect x="66.65" y="314.3" width="1.6" height="1.6" fill="#111"/>
<rect x="67.55" y="314.3" width="1.6" height="1.6" fill="#111"/>
<rect x="68.63" y="314.3" width="1.6" height="1.6" fill="#111"/>
<rect x="69.38" y="314.3" width="1.6" height="1.6" fill="#111"/>
<rect x="70.34" y="314.3" width="1.6" height="1.6" fill="#111"/>
<rect x="71.52" y="314.3" width="1.6" height="1.6" fill="#111"/>
<rect x="72.03" y="314.3" width="1.6" height="1.6" fill="#111"/>
<rect x="73.02" y="314.3" width="1.6" height="1.6" fill="#111"/>
<rect x="74.08" y="314.3" width="1.6" height="1.6" fill="#111"/>
<rect x="74.83" y="314.3" width="1.6" height="1.6" fill="#111"/>
<rect x="75.64" y="314.3" width="1.6" height="1.6" fill="#111"/>
<rect x="76.7" y="314.3" width="1.6" height="1.6" fill="#111"/>
<rect x="77.44" y="314.3" width="1.6" height="1.6" fill="#111"/>
<rect x="78.6" y="314.3" width="1.6" height="1.6" fill="#111"/>
<rect x="79.46" y="314.3" width="1.6" height="1.6" fill="#111"/>
<rect x="80.24" y="314.3" width="1.6" height="1.6" fill="#111"/>
<rect x="81.37" y="314.3" width="1.6" height="1.6" fill="#111"/>
<rect x="82.39" y="314.3" width="1.6" height="1.6" fill="#111"/>
<rect x="82.94" y="314.3" width="1.6" height="1.6" fill="#111"/>
<rect x="84" y="314.3" width="1.6" height="1.6" fill="#111"/>
<rect x="84.64" y="314.3" width="1.6" height="1.6" fill="#111"/>
<rect x="85.95" y="314.3" width="1.6" height="1.6" fill="#111"/>
<rect x="86.68" y="314.3" width="1.6" height="1.6" fill="#111"/>
<rect x="87.62" y="314.3" width="1.6" height="1.6" fill="#111"/>
<rect x="88.32" y="314.3" width="1.6" height="1.6" fill="#111"/>
<rect x="89.2" y="314.3" width="1.6" height="1.6" fill="#111"/>
<rect x="91.02" y="314.3" width="1.6" height="1.6" fill="#111"/>
<rect x="91.95" y="314.3" width="1.6" height="1.6" fill="#111"/>
<rect x="93.91" y="314.3" width="1.6" height="1.6" fill="#111"/>
<rect x="95.37" y="314.3" width="1.6" height="1.6" fill="#111"/>
<rect x="98.57" y="314.3" width="1.6" height="1.6" fill="#111"/>
<rect x="100.18" y="314.3" width="1.6" height="1.6" fill="#111"/>
<rect x="101.87" y="314.3" width="1.6" height="1.6" fill="#111"/>
<line x1="65.41" y1="318.5" x2="96.71" y2="318.5" stroke="#111" stroke-width="0.85"/>
<line x1="65.41" y1="316.7" x2="65.41" y2="320.8" stroke="#111" stroke-width="0.9"/>
<line x1="96.71" y1="316.7" x2="96.71" y2="320.8" stroke="#111" stroke-width="0.9"/>
<text x="32.4" y="320.2" font-size="6.45" text-anchor="end" font-weight="normal" fill="#1a1a1a">Cropland</text>
<line x1="36.4" y1="318.3" x2="38.9" y2="318.3" stroke="#333" stroke-width="0.8"/>
<line x1="221" y1="318.3" x2="218.5" y2="318.3" stroke="#333" stroke-width="0.8"/>
<rect x="36.4" y="239.4" width="184.6" height="91.9" fill="none" stroke="#333" stroke-width="1"/>
<line x1="36.4" y1="331.3" x2="36.4" y2="328.5" stroke="#333" stroke-width="0.8"/>
<line x1="36.4" y1="239.4" x2="36.4" y2="242.2" stroke="#333" stroke-width="0.8"/>
<text x="36.4" y="341.1" font-size="6.3" text-anchor="middle" font-weight="normal" fill="#1a1a1a">0</text>
<line x1="65.94" y1="331.3" x2="65.94" y2="328.5" stroke="#333" stroke-width="0.8"/>
<line x1="65.94" y1="239.4" x2="65.94" y2="242.2" stroke="#333" stroke-width="0.8"/>
<text x="65.94" y="341.1" font-size="6.3" text-anchor="middle" font-weight="normal" fill="#1a1a1a">4</text>
<line x1="95.47" y1="331.3" x2="95.47" y2="328.5" stroke="#333" stroke-width="0.8"/>
<line x1="95.47" y1="239.4" x2="95.47" y2="242.2" stroke="#333" stroke-width="0.8"/>
<text x="95.47" y="341.1" font-size="6.3" text-anchor="middle" font-weight="normal" fill="#1a1a1a">8</text>
<line x1="125.01" y1="331.3" x2="125.01" y2="328.5" stroke="#333" stroke-width="0.8"/>
<line x1="125.01" y1="239.4" x2="125.01" y2="242.2" stroke="#333" stroke-width="0.8"/>
<text x="125.01" y="341.1" font-size="6.3" text-anchor="middle" font-weight="normal" fill="#1a1a1a">12</text>
<line x1="154.54" y1="331.3" x2="154.54" y2="328.5" stroke="#333" stroke-width="0.8"/>
<line x1="154.54" y1="239.4" x2="154.54" y2="242.2" stroke="#333" stroke-width="0.8"/>
<text x="154.54" y="341.1" font-size="6.3" text-anchor="middle" font-weight="normal" fill="#1a1a1a">16</text>
<line x1="184.08" y1="331.3" x2="184.08" y2="328.5" stroke="#333" stroke-width="0.8"/>
<line x1="184.08" y1="239.4" x2="184.08" y2="242.2" stroke="#333" stroke-width="0.8"/>
<text x="184.08" y="341.1" font-size="6.3" text-anchor="middle" font-weight="normal" fill="#1a1a1a">20</text>
<line x1="213.62" y1="331.3" x2="213.62" y2="328.5" stroke="#333" stroke-width="0.8"/>
<line x1="213.62" y1="239.4" x2="213.62" y2="242.2" stroke="#333" stroke-width="0.8"/>
<text x="213.62" y="341.1" font-size="6.3" text-anchor="middle" font-weight="normal" fill="#1a1a1a">24</text>
<text x="128.7" y="350.6" font-size="7.4" text-anchor="middle" font-weight="normal" fill="#1a1a1a">Projected frequency changes (days)</text>
<text x="124.5" y="235.8" font-size="7.2" text-anchor="middle" font-weight="bold" fill="#111">Historical + SSP1-2.6</text>
<rect x="36.4" y="377.8" width="37.43" height="10.3" fill="#8c8c8c"/>
<rect x="36.4" y="391" width="27.11" height="10.3" fill="#8c8c8c"/>
<rect x="36.4" y="404.2" width="21.95" height="10.3" fill="#8c8c8c"/>
<rect x="36.4" y="417.4" width="30.43" height="10.3" fill="#8c8c8c"/>
<rect x="36.4" y="430.6" width="38.53" height="10.3" fill="#8c8c8c"/>
<rect x="36.4" y="443.8" width="41.11" height="10.3" fill="#8c8c8c"/>
<rect x="54.27" y="378.9" width="1.6" height="1.6" fill="#111"/>
<rect x="55.52" y="378.9" width="1.6" height="1.6" fill="#111"/>
<rect x="57.16" y="378.9" width="1.6" height="1.6" fill="#111"/>
<rect x="59.17" y="378.9" width="1.6" height="1.6" fill="#111"/>
<rect x="60.61" y="378.9" width="1.6" height="1.6" fill="#111"/>
<rect x="61.7" y="378.9" width="1.6" height="1.6" fill="#111"/>
<rect x="63.5" y="378.9" width="1.6" height="1.6" fill="#111"/>
<rect x="64.63" y="378.9" width="1.6" height="1.6" fill="#111"/>
<rect x="66.61" y="378.9" width="1.6" height="1.6" fill="#111"/>
<rect x="68.07" y="378.9" width="1.6" height="1.6" fill="#111"/>
<rect x="69.66" y="378.9" width="1.6" height="1.6" fill="#111"/>
<rect x="70.77" y="378.9" width="1.6" height="1.6" fill="#111"/>
<rect x="72.14" y="378.9" width="1.6" height="1.6" fill="#111"/>
<rect x="73.74" y="378.9" width="1.6" height="1.6" fill="#111"/>
<rect x="75.37" y="378.9" width="1.6" height="1.6" fill="#111"/>
<rect x="77.24" y="378.9" width="1.6" height="1.6" fill="#111"/>
<rect x="78" y="378.9" width="1.6" height="1.6" fill="#111"/>
<rect x="80.19" y="378.9" width="1.6" height="1.6" fill="#111"/>
<rect x="81.24" y="378.9" width="1.6" height="1.6" fill="#111"/>
<rect x="82.79" y="378.9" width="1.6" height="1.6" fill="#111"/>
<rect x="84.5" y="378.9" width="1.6" height="1.6" fill="#111"/>
<rect x="86.03" y="378.9" width="1.6" height="1.6" fill="#111"/>
<rect x="87.57" y="378.9" width="1.6" height="1.6" fill="#111"/>
<rect x="89.2" y="378.9" width="1.6" height="1.6" fill="#111"/>
<rect x="90.29" y="378.9" width="1.6" height="1.6" fill="#111"/>
<rect x="92.07" y="378.9" width="1.6" height="1.6" fill="#111"/>
<rect x="93.33" y="378.9" width="1.6" height="1.6" fill="#111"/>
<rect x="94.57" y="378.9" width="1.6" height="1.6" fill="#111"/>
<rect x="96.84" y="378.9" width="1.6" height="1.6" fill="#111"/>
<rect x="97.75" y="378.9" width="1.6" height="1.6" fill="#111"/>
<rect x="99.29" y="378.9" width="1.6" height="1.6" fill="#111"/>
<rect x="100.74" y="378.9" width="1.6" height="1.6" fill="#111"/>
<rect x="107.49" y="378.9" width="1.6" height="1.6" fill="#111"/>
<rect x="110.63" y="378.9" width="1.6" height="1.6" fill="#111"/>
<rect x="113.21" y="378.9" width="1.6" height="1.6" fill="#111"/>
<line x1="55.77" y1="382.5" x2="112.16" y2="382.5" stroke="#111" stroke-width="0.85"/>
<line x1="55.77" y1="380.7" x2="55.77" y2="384.8" stroke="#111" stroke-width="0.9"/>
<line x1="112.16" y1="380.7" x2="112.16" y2="384.8" stroke="#111" stroke-width="0.9"/>
<text x="32.4" y="384.8" font-size="6.45" text-anchor="end" font-weight="normal" fill="#1a1a1a">Impervious</text>
<line x1="36.4" y1="382.9" x2="38.9" y2="382.9" stroke="#333" stroke-width="0.8"/>
<line x1="221" y1="382.9" x2="218.5" y2="382.9" stroke="#333" stroke-width="0.8"/>
<rect x="39.53" y="392.1" width="1.6" height="1.6" fill="#111"/>
<rect x="40.92" y="392.1" width="1.6" height="1.6" fill="#111"/>
<rect x="42.38" y="392.1" width="1.6" height="1.6" fill="#111"/>
<rect x="43.38" y="392.1" width="1.6" height="1.6" fill="#111"/>
<rect x="44.45" y="392.1" width="1.6" height="1.6" fill="#111"/>
<rect x="45.48" y="392.1" width="1.6" height="1.6" fill="#111"/>
<rect x="46.7" y="392.1" width="1.6" height="1.6" fill="#111"/>
<rect x="47.75" y="392.1" width="1.6" height="1.6" fill="#111"/>
<rect x="48.86" y="392.1" width="1.6" height="1.6" fill="#111"/>
<rect x="50.18" y="392.1" width="1.6" height="1.6" fill="#111"/>
<rect x="50.99" y="392.1" width="1.6" height="1.6" fill="#111"/>
<rect x="52.68" y="392.1" width="1.6" height="1.6" fill="#111"/>
<rect x="53.51" y="392.1" width="1.6" height="1.6" fill="#111"/>
<rect x="54.86" y="392.1" width="1.6" height="1.6" fill="#111"/>
<rect x="56.2" y="392.1" width="1.6" height="1.6" fill="#111"/>
<rect x="57.11" y="392.1" width="1.6" height="1.6" fill="#111"/>
<rect x="57.92" y="392.1" width="1.6" height="1.6" fill="#111"/>
<rect x="59.22" y="392.1" width="1.6" height="1.6" fill="#111"/>
<rect x="60.59" y="392.1" width="1.6" height="1.6" fill="#111"/>
<rect x="61.79" y="392.1" width="1.6" height="1.6" fill="#111"/>
<rect x="62.96" y="392.1" width="1.6" height="1.6" fill="#111"/>
<rect x="63.75" y="392.1" width="1.6" height="1.6" fill="#111"/>
<rect x="64.98" y="392.1" width="1.6" height="1.6" fill="#111"/>
<rect x="66.33" y="392.1" width="1.6" height="1.6" fill="#111"/>
<rect x="67.09" y="392.1" width="1.6" height="1.6" fill="#111"/>
<rect x="68.4" y="392.1" width="1.6" height="1.6" fill="#111"/>
<rect x="69.51" y="392.1" width="1.6" height="1.6" fill="#111"/>
<rect x="70.61" y="392.1" width="1.6" height="1.6" fill="#111"/>
<rect x="74.77" y="392.1" width="1.6" height="1.6" fill="#111"/>
<rect x="76.29" y="392.1" width="1.6" height="1.6" fill="#111"/>
<rect x="77.66" y="392.1" width="1.6" height="1.6" fill="#111"/>
<rect x="78.89" y="392.1" width="1.6" height="1.6" fill="#111"/>
<rect x="80.79" y="392.1" width="1.6" height="1.6" fill="#111"/>
<rect x="81.86" y="392.1" width="1.6" height="1.6" fill="#111"/>
<rect x="83.39" y="392.1" width="1.6" height="1.6" fill="#111"/>
<rect x="84.75" y="392.1" width="1.6" height="1.6" fill="#111"/>
<rect x="86.82" y="392.1" width="1.6" height="1.6" fill="#111"/>
<rect x="88.01" y="392.1" width="1.6" height="1.6" fill="#111"/>
<rect x="89.81" y="392.1" width="1.6" height="1.6" fill="#111"/>
<rect x="91.38" y="392.1" width="1.6" height="1.6" fill="#111"/>
<line x1="42.31" y1="396.5" x2="88.57" y2="396.5" stroke="#111" stroke-width="0.85"/>
<line x1="42.31" y1="394.7" x2="42.31" y2="398.8" stroke="#111" stroke-width="0.9"/>
<line x1="88.57" y1="394.7" x2="88.57" y2="398.8" stroke="#111" stroke-width="0.9"/>
<text x="32.4" y="398" font-size="6.45" text-anchor="end" font-weight="normal" fill="#1a1a1a">Barren</text>
<line x1="36.4" y1="396.1" x2="38.9" y2="396.1" stroke="#333" stroke-width="0.8"/>
<line x1="221" y1="396.1" x2="218.5" y2="396.1" stroke="#333" stroke-width="0.8"/>
<rect x="43.1" y="405.3" width="1.6" height="1.6" fill="#111"/>
<rect x="44.11" y="405.3" width="1.6" height="1.6" fill="#111"/>
<rect x="45.32" y="405.3" width="1.6" height="1.6" fill="#111"/>
<rect x="45.99" y="405.3" width="1.6" height="1.6" fill="#111"/>
<rect x="47.01" y="405.3" width="1.6" height="1.6" fill="#111"/>
<rect x="47.96" y="405.3" width="1.6" height="1.6" fill="#111"/>
<rect x="49.34" y="405.3" width="1.6" height="1.6" fill="#111"/>
<rect x="50.11" y="405.3" width="1.6" height="1.6" fill="#111"/>
<rect x="50.94" y="405.3" width="1.6" height="1.6" fill="#111"/>
<rect x="51.95" y="405.3" width="1.6" height="1.6" fill="#111"/>
<rect x="52.91" y="405.3" width="1.6" height="1.6" fill="#111"/>
<rect x="53.71" y="405.3" width="1.6" height="1.6" fill="#111"/>
<rect x="54.97" y="405.3" width="1.6" height="1.6" fill="#111"/>
<rect x="56.23" y="405.3" width="1.6" height="1.6" fill="#111"/>
<rect x="57.11" y="405.3" width="1.6" height="1.6" fill="#111"/>
<rect x="57.97" y="405.3" width="1.6" height="1.6" fill="#111"/>
<rect x="58.65" y="405.3" width="1.6" height="1.6" fill="#111"/>
<rect x="59.92" y="405.3" width="1.6" height="1.6" fill="#111"/>
<rect x="60.8" y="405.3" width="1.6" height="1.6" fill="#111"/>
<rect x="61.63" y="405.3" width="1.6" height="1.6" fill="#111"/>
<rect x="62.56" y="405.3" width="1.6" height="1.6" fill="#111"/>
<rect x="63.77" y="405.3" width="1.6" height="1.6" fill="#111"/>
<rect x="64.76" y="405.3" width="1.6" height="1.6" fill="#111"/>
<rect x="65.63" y="405.3" width="1.6" height="1.6" fill="#111"/>
<rect x="66.6" y="405.3" width="1.6" height="1.6" fill="#111"/>
<rect x="68.97" y="405.3" width="1.6" height="1.6" fill="#111"/>
<rect x="73.4" y="405.3" width="1.6" height="1.6" fill="#111"/>
<line x1="45.45" y1="409.5" x2="69.41" y2="409.5" stroke="#111" stroke-width="0.85"/>
<line x1="45.45" y1="407.7" x2="45.45" y2="411.8" stroke="#111" stroke-width="0.9"/>
<line x1="69.41" y1="407.7" x2="69.41" y2="411.8" stroke="#111" stroke-width="0.9"/>
<text x="32.4" y="411.2" font-size="6.45" text-anchor="end" font-weight="normal" fill="#1a1a1a">Grassland</text>
<line x1="36.4" y1="409.3" x2="38.9" y2="409.3" stroke="#333" stroke-width="0.8"/>
<line x1="221" y1="409.3" x2="218.5" y2="409.3" stroke="#333" stroke-width="0.8"/>
<rect x="40.96" y="418.5" width="1.6" height="1.6" fill="#111"/>
<rect x="45.38" y="418.5" width="1.6" height="1.6" fill="#111"/>
<rect x="49.81" y="418.5" width="1.6" height="1.6" fill="#111"/>
<rect x="54.23" y="418.5" width="1.6" height="1.6" fill="#111"/>
<rect x="58.85" y="418.5" width="1.6" height="1.6" fill="#111"/>
<rect x="59.62" y="418.5" width="1.6" height="1.6" fill="#111"/>
<rect x="60.1" y="418.5" width="1.6" height="1.6" fill="#111"/>
<rect x="61.06" y="418.5" width="1.6" height="1.6" fill="#111"/>
<rect x="61.89" y="418.5" width="1.6" height="1.6" fill="#111"/>
<rect x="62.64" y="418.5" width="1.6" height="1.6" fill="#111"/>
<rect x="63.33" y="418.5" width="1.6" height="1.6" fill="#111"/>
<rect x="64.42" y="418.5" width="1.6" height="1.6" fill="#111"/>
<rect x="65.01" y="418.5" width="1.6" height="1.6" fill="#111"/>
<rect x="65.97" y="418.5" width="1.6" height="1.6" fill="#111"/>
<rect x="66.65" y="418.5" width="1.6" height="1.6" fill="#111"/>
<rect x="67.39" y="418.5" width="1.6" height="1.6" fill="#111"/>
<rect x="68.1" y="418.5" width="1.6" height="1.6" fill="#111"/>
<rect x="69.15" y="418.5" width="1.6" height="1.6" fill="#111"/>
<rect x="69.91" y="418.5" width="1.6" height="1.6" fill="#111"/>
<rect x="70.84" y="418.5" width="1.6" height="1.6" fill="#111"/>
<rect x="71.36" y="418.5" width="1.6" height="1.6" fill="#111"/>
<rect x="72.17" y="418.5" width="1.6" height="1.6" fill="#111"/>
<rect x="73.16" y="418.5" width="1.6" height="1.6" fill="#111"/>
<rect x="73.6" y="418.5" width="1.6" height="1.6" fill="#111"/>
<rect x="74.71" y="418.5" width="1.6" height="1.6" fill="#111"/>
<rect x="75.6" y="418.5" width="1.6" height="1.6" fill="#111"/>
<rect x="76.3" y="418.5" width="1.6" height="1.6" fill="#111"/>
<rect x="77.16" y="418.5" width="1.6" height="1.6" fill="#111"/>
<rect x="78.03" y="418.5" width="1.6" height="1.6" fill="#111"/>
<rect x="82.98" y="418.5" width="1.6" height="1.6" fill="#111"/>
<rect x="88.14" y="418.5" width="1.6" height="1.6" fill="#111"/>
<line x1="46.18" y1="422.5" x2="88.57" y2="422.5" stroke="#111" stroke-width="0.85"/>
<line x1="46.18" y1="420.7" x2="46.18" y2="424.8" stroke="#111" stroke-width="0.9"/>
<line x1="88.57" y1="420.7" x2="88.57" y2="424.8" stroke="#111" stroke-width="0.9"/>
<text x="32.4" y="424.4" font-size="6.45" text-anchor="end" font-weight="normal" fill="#1a1a1a">Shrub</text>
<line x1="36.4" y1="422.5" x2="38.9" y2="422.5" stroke="#333" stroke-width="0.8"/>
<line x1="221" y1="422.5" x2="218.5" y2="422.5" stroke="#333" stroke-width="0.8"/>
<rect x="59.58" y="431.7" width="1.6" height="1.6" fill="#111"/>
<rect x="60.47" y="431.7" width="1.6" height="1.6" fill="#111"/>
<rect x="61.32" y="431.7" width="1.6" height="1.6" fill="#111"/>
<rect x="62.03" y="431.7" width="1.6" height="1.6" fill="#111"/>
<rect x="63.14" y="431.7" width="1.6" height="1.6" fill="#111"/>
<rect x="63.82" y="431.7" width="1.6" height="1.6" fill="#111"/>
<rect x="64.72" y="431.7" width="1.6" height="1.6" fill="#111"/>
<rect x="65.94" y="431.7" width="1.6" height="1.6" fill="#111"/>
<rect x="66.76" y="431.7" width="1.6" height="1.6" fill="#111"/>
<rect x="67.67" y="431.7" width="1.6" height="1.6" fill="#111"/>
<rect x="68.77" y="431.7" width="1.6" height="1.6" fill="#111"/>
<rect x="69.62" y="431.7" width="1.6" height="1.6" fill="#111"/>
<rect x="70.7" y="431.7" width="1.6" height="1.6" fill="#111"/>
<rect x="71.19" y="431.7" width="1.6" height="1.6" fill="#111"/>
<rect x="72.29" y="431.7" width="1.6" height="1.6" fill="#111"/>
<rect x="73.51" y="431.7" width="1.6" height="1.6" fill="#111"/>
<rect x="74.28" y="431.7" width="1.6" height="1.6" fill="#111"/>
<rect x="74.92" y="431.7" width="1.6" height="1.6" fill="#111"/>
<rect x="76.04" y="431.7" width="1.6" height="1.6" fill="#111"/>
<rect x="76.79" y="431.7" width="1.6" height="1.6" fill="#111"/>
<rect x="77.82" y="431.7" width="1.6" height="1.6" fill="#111"/>
<rect x="79.04" y="431.7" width="1.6" height="1.6" fill="#111"/>
<rect x="79.82" y="431.7" width="1.6" height="1.6" fill="#111"/>
<rect x="80.6" y="431.7" width="1.6" height="1.6" fill="#111"/>
<rect x="81.62" y="431.7" width="1.6" height="1.6" fill="#111"/>
<rect x="82.47" y="431.7" width="1.6" height="1.6" fill="#111"/>
<rect x="83.44" y="431.7" width="1.6" height="1.6" fill="#111"/>
<rect x="84.59" y="431.7" width="1.6" height="1.6" fill="#111"/>
<rect x="85.6" y="431.7" width="1.6" height="1.6" fill="#111"/>
<rect x="86.17" y="431.7" width="1.6" height="1.6" fill="#111"/>
<rect x="91.09" y="431.7" width="1.6" height="1.6" fill="#111"/>
<line x1="63.51" y1="435.5" x2="86.36" y2="435.5" stroke="#111" stroke-width="0.85"/>
<line x1="63.51" y1="433.7" x2="63.51" y2="437.8" stroke="#111" stroke-width="0.9"/>
<line x1="86.36" y1="433.7" x2="86.36" y2="437.8" stroke="#111" stroke-width="0.9"/>
<text x="32.4" y="437.6" font-size="6.45" text-anchor="end" font-weight="normal" fill="#1a1a1a">Forest</text>
<line x1="36.4" y1="435.7" x2="38.9" y2="435.7" stroke="#333" stroke-width="0.8"/>
<line x1="221" y1="435.7" x2="218.5" y2="435.7" stroke="#333" stroke-width="0.8"/>
<rect x="58.65" y="444.9" width="1.6" height="1.6" fill="#111"/>
<rect x="63.57" y="444.9" width="1.6" height="1.6" fill="#111"/>
<rect x="64.25" y="444.9" width="1.6" height="1.6" fill="#111"/>
<rect x="65.64" y="444.9" width="1.6" height="1.6" fill="#111"/>
<rect x="66.64" y="444.9" width="1.6" height="1.6" fill="#111"/>
<rect x="67.56" y="444.9" width="1.6" height="1.6" fill="#111"/>
<rect x="69.03" y="444.9" width="1.6" height="1.6" fill="#111"/>
<rect x="70.04" y="444.9" width="1.6" height="1.6" fill="#111"/>
<rect x="70.94" y="444.9" width="1.6" height="1.6" fill="#111"/>
<rect x="72.19" y="444.9" width="1.6" height="1.6" fill="#111"/>
<rect x="73.39" y="444.9" width="1.6" height="1.6" fill="#111"/>
<rect x="74.28" y="444.9" width="1.6" height="1.6" fill="#111"/>
<rect x="75.2" y="444.9" width="1.6" height="1.6" fill="#111"/>
<rect x="76.35" y="444.9" width="1.6" height="1.6" fill="#111"/>
<rect x="77.41" y="444.9" width="1.6" height="1.6" fill="#111"/>
<rect x="78.6" y="444.9" width="1.6" height="1.6" fill="#111"/>
<rect x="79.69" y="444.9" width="1.6" height="1.6" fill="#111"/>
<rect x="80.92" y="444.9" width="1.6" height="1.6" fill="#111"/>
<rect x="82.06" y="444.9" width="1.6" height="1.6" fill="#111"/>
<rect x="83.23" y="444.9" width="1.6" height="1.6" fill="#111"/>
<rect x="84.24" y="444.9" width="1.6" height="1.6" fill="#111"/>
<rect x="85.39" y="444.9" width="1.6" height="1.6" fill="#111"/>
<rect x="86.43" y="444.9" width="1.6" height="1.6" fill="#111"/>
<rect x="87.76" y="444.9" width="1.6" height="1.6" fill="#111"/>
<rect x="88.36" y="444.9" width="1.6" height="1.6" fill="#111"/>
<rect x="89.59" y="444.9" width="1.6" height="1.6" fill="#111"/>
<rect x="90.79" y="444.9" width="1.6" height="1.6" fill="#111"/>
<rect x="91.86" y="444.9" width="1.6" height="1.6" fill="#111"/>
<rect x="93.31" y="444.9" width="1.6" height="1.6" fill="#111"/>
<rect x="94.1" y="444.9" width="1.6" height="1.6" fill="#111"/>
<rect x="94.89" y="444.9" width="1.6" height="1.6" fill="#111"/>
<rect x="96.14" y="444.9" width="1.6" height="1.6" fill="#111"/>
<rect x="97.4" y="444.9" width="1.6" height="1.6" fill="#111"/>
<rect x="98.31" y="444.9" width="1.6" height="1.6" fill="#111"/>
<rect x="99.87" y="444.9" width="1.6" height="1.6" fill="#111"/>
<rect x="100.37" y="444.9" width="1.6" height="1.6" fill="#111"/>
<line x1="64.25" y1="448.5" x2="97.42" y2="448.5" stroke="#111" stroke-width="0.85"/>
<line x1="64.25" y1="446.7" x2="64.25" y2="450.8" stroke="#111" stroke-width="0.9"/>
<line x1="97.42" y1="446.7" x2="97.42" y2="450.8" stroke="#111" stroke-width="0.9"/>
<text x="32.4" y="450.8" font-size="6.45" text-anchor="end" font-weight="normal" fill="#1a1a1a">Cropland</text>
<line x1="36.4" y1="448.9" x2="38.9" y2="448.9" stroke="#333" stroke-width="0.8"/>
<line x1="221" y1="448.9" x2="218.5" y2="448.9" stroke="#333" stroke-width="0.8"/>
<rect x="36.4" y="369.2" width="184.6" height="91.9" fill="none" stroke="#333" stroke-width="1"/>
<line x1="36.4" y1="461.1" x2="36.4" y2="458.3" stroke="#333" stroke-width="0.8"/>
<line x1="36.4" y1="369.2" x2="36.4" y2="372" stroke="#333" stroke-width="0.8"/>
<text x="36.4" y="470.9" font-size="6.3" text-anchor="middle" font-weight="normal" fill="#1a1a1a">0</text>
<line x1="73.32" y1="461.1" x2="73.32" y2="458.3" stroke="#333" stroke-width="0.8"/>
<line x1="73.32" y1="369.2" x2="73.32" y2="372" stroke="#333" stroke-width="0.8"/>
<text x="73.32" y="470.9" font-size="6.3" text-anchor="middle" font-weight="normal" fill="#1a1a1a">100</text>
<line x1="110.24" y1="461.1" x2="110.24" y2="458.3" stroke="#333" stroke-width="0.8"/>
<line x1="110.24" y1="369.2" x2="110.24" y2="372" stroke="#333" stroke-width="0.8"/>
<text x="110.24" y="470.9" font-size="6.3" text-anchor="middle" font-weight="normal" fill="#1a1a1a">200</text>
<line x1="147.16" y1="461.1" x2="147.16" y2="458.3" stroke="#333" stroke-width="0.8"/>
<line x1="147.16" y1="369.2" x2="147.16" y2="372" stroke="#333" stroke-width="0.8"/>
<text x="147.16" y="470.9" font-size="6.3" text-anchor="middle" font-weight="normal" fill="#1a1a1a">300</text>
<line x1="184.08" y1="461.1" x2="184.08" y2="458.3" stroke="#333" stroke-width="0.8"/>
<line x1="184.08" y1="369.2" x2="184.08" y2="372" stroke="#333" stroke-width="0.8"/>
<text x="184.08" y="470.9" font-size="6.3" text-anchor="middle" font-weight="normal" fill="#1a1a1a">400</text>
<line x1="221" y1="461.1" x2="221" y2="458.3" stroke="#333" stroke-width="0.8"/>
<line x1="221" y1="369.2" x2="221" y2="372" stroke="#333" stroke-width="0.8"/>
<text x="221" y="470.9" font-size="6.3" text-anchor="middle" font-weight="normal" fill="#1a1a1a">500</text>
<text x="128.7" y="480.4" font-size="7.4" text-anchor="middle" font-weight="normal" fill="#1a1a1a">Projected percentage changes in frequency (%)</text>
<rect x="265.2" y="247.2" width="66.88" height="10.3" fill="#8c8c8c"/>
<rect x="265.2" y="260.4" width="33.67" height="10.3" fill="#8c8c8c"/>
<rect x="265.2" y="273.6" width="49.8" height="10.3" fill="#8c8c8c"/>
<rect x="265.2" y="286.8" width="83.66" height="10.3" fill="#8c8c8c"/>
<rect x="265.2" y="300" width="81.46" height="10.3" fill="#8c8c8c"/>
<rect x="265.2" y="313.2" width="73.4" height="10.3" fill="#8c8c8c"/>
<rect x="304.08" y="248.3" width="1.6" height="1.6" fill="#111"/>
<rect x="308.56" y="248.3" width="1.6" height="1.6" fill="#111"/>
<rect x="310.01" y="248.3" width="1.6" height="1.6" fill="#111"/>
<rect x="311.92" y="248.3" width="1.6" height="1.6" fill="#111"/>
<rect x="313.67" y="248.3" width="1.6" height="1.6" fill="#111"/>
<rect x="314.87" y="248.3" width="1.6" height="1.6" fill="#111"/>
<rect x="316.63" y="248.3" width="1.6" height="1.6" fill="#111"/>
<rect x="317.53" y="248.3" width="1.6" height="1.6" fill="#111"/>
<rect x="319.03" y="248.3" width="1.6" height="1.6" fill="#111"/>
<rect x="320.65" y="248.3" width="1.6" height="1.6" fill="#111"/>
<rect x="321.88" y="248.3" width="1.6" height="1.6" fill="#111"/>
<rect x="324.01" y="248.3" width="1.6" height="1.6" fill="#111"/>
<rect x="324.79" y="248.3" width="1.6" height="1.6" fill="#111"/>
<rect x="326.72" y="248.3" width="1.6" height="1.6" fill="#111"/>
<rect x="327.81" y="248.3" width="1.6" height="1.6" fill="#111"/>
<rect x="329.48" y="248.3" width="1.6" height="1.6" fill="#111"/>
<rect x="330.72" y="248.3" width="1.6" height="1.6" fill="#111"/>
<rect x="332.71" y="248.3" width="1.6" height="1.6" fill="#111"/>
<rect x="333.79" y="248.3" width="1.6" height="1.6" fill="#111"/>
<rect x="335.34" y="248.3" width="1.6" height="1.6" fill="#111"/>
<rect x="336.88" y="248.3" width="1.6" height="1.6" fill="#111"/>
<rect x="338.62" y="248.3" width="1.6" height="1.6" fill="#111"/>
<rect x="339.84" y="248.3" width="1.6" height="1.6" fill="#111"/>
<rect x="341.31" y="248.3" width="1.6" height="1.6" fill="#111"/>
<rect x="342.75" y="248.3" width="1.6" height="1.6" fill="#111"/>
<rect x="344.59" y="248.3" width="1.6" height="1.6" fill="#111"/>
<rect x="346.06" y="248.3" width="1.6" height="1.6" fill="#111"/>
<rect x="347.66" y="248.3" width="1.6" height="1.6" fill="#111"/>
<rect x="348.95" y="248.3" width="1.6" height="1.6" fill="#111"/>
<rect x="350.4" y="248.3" width="1.6" height="1.6" fill="#111"/>
<rect x="351.98" y="248.3" width="1.6" height="1.6" fill="#111"/>
<rect x="355.01" y="248.3" width="1.6" height="1.6" fill="#111"/>
<rect x="357.96" y="248.3" width="1.6" height="1.6" fill="#111"/>
<rect x="359.78" y="248.3" width="1.6" height="1.6" fill="#111"/>
<rect x="369.32" y="248.3" width="1.6" height="1.6" fill="#111"/>
<rect x="377.38" y="248.3" width="1.6" height="1.6" fill="#111"/>
<rect x="383.25" y="248.3" width="1.6" height="1.6" fill="#111"/>
<line x1="312.58" y1="252.5" x2="371.29" y2="252.5" stroke="#111" stroke-width="0.85"/>
<line x1="312.58" y1="250.7" x2="312.58" y2="254.8" stroke="#111" stroke-width="0.9"/>
<line x1="371.29" y1="250.7" x2="371.29" y2="254.8" stroke="#111" stroke-width="0.9"/>
<text x="261.2" y="254.2" font-size="6.45" text-anchor="end" font-weight="normal" fill="#1a1a1a">Impervious</text>
<line x1="265.2" y1="252.3" x2="267.7" y2="252.3" stroke="#333" stroke-width="0.8"/>
<line x1="450.5" y1="252.3" x2="448" y2="252.3" stroke="#333" stroke-width="0.8"/>
<rect x="279.34" y="261.5" width="1.6" height="1.6" fill="#111"/>
<rect x="280.76" y="261.5" width="1.6" height="1.6" fill="#111"/>
<rect x="282.16" y="261.5" width="1.6" height="1.6" fill="#111"/>
<rect x="283.22" y="261.5" width="1.6" height="1.6" fill="#111"/>
<rect x="284.69" y="261.5" width="1.6" height="1.6" fill="#111"/>
<rect x="285.43" y="261.5" width="1.6" height="1.6" fill="#111"/>
<rect x="286.82" y="261.5" width="1.6" height="1.6" fill="#111"/>
<rect x="288.39" y="261.5" width="1.6" height="1.6" fill="#111"/>
<rect x="289.74" y="261.5" width="1.6" height="1.6" fill="#111"/>
<rect x="290.53" y="261.5" width="1.6" height="1.6" fill="#111"/>
<rect x="291.64" y="261.5" width="1.6" height="1.6" fill="#111"/>
<rect x="293.3" y="261.5" width="1.6" height="1.6" fill="#111"/>
<rect x="294.57" y="261.5" width="1.6" height="1.6" fill="#111"/>
<rect x="296" y="261.5" width="1.6" height="1.6" fill="#111"/>
<rect x="296.7" y="261.5" width="1.6" height="1.6" fill="#111"/>
<rect x="298.23" y="261.5" width="1.6" height="1.6" fill="#111"/>
<rect x="299.26" y="261.5" width="1.6" height="1.6" fill="#111"/>
<rect x="300.76" y="261.5" width="1.6" height="1.6" fill="#111"/>
<rect x="301.81" y="261.5" width="1.6" height="1.6" fill="#111"/>
<rect x="303" y="261.5" width="1.6" height="1.6" fill="#111"/>
<rect x="304.47" y="261.5" width="1.6" height="1.6" fill="#111"/>
<rect x="306.06" y="261.5" width="1.6" height="1.6" fill="#111"/>
<rect x="306.75" y="261.5" width="1.6" height="1.6" fill="#111"/>
<rect x="308.54" y="261.5" width="1.6" height="1.6" fill="#111"/>
<rect x="309.26" y="261.5" width="1.6" height="1.6" fill="#111"/>
<rect x="310.76" y="261.5" width="1.6" height="1.6" fill="#111"/>
<rect x="311.8" y="261.5" width="1.6" height="1.6" fill="#111"/>
<rect x="313.28" y="261.5" width="1.6" height="1.6" fill="#111"/>
<rect x="314.65" y="261.5" width="1.6" height="1.6" fill="#111"/>
<rect x="316.17" y="261.5" width="1.6" height="1.6" fill="#111"/>
<rect x="318.34" y="261.5" width="1.6" height="1.6" fill="#111"/>
<rect x="319.83" y="261.5" width="1.6" height="1.6" fill="#111"/>
<rect x="321.59" y="261.5" width="1.6" height="1.6" fill="#111"/>
<rect x="326.81" y="261.5" width="1.6" height="1.6" fill="#111"/>
<rect x="332.67" y="261.5" width="1.6" height="1.6" fill="#111"/>
<line x1="284.87" y1="265.5" x2="325.41" y2="265.5" stroke="#111" stroke-width="0.85"/>
<line x1="284.87" y1="263.7" x2="284.87" y2="267.8" stroke="#111" stroke-width="0.9"/>
<line x1="325.41" y1="263.7" x2="325.41" y2="267.8" stroke="#111" stroke-width="0.9"/>
<text x="261.2" y="267.4" font-size="6.45" text-anchor="end" font-weight="normal" fill="#1a1a1a">Barren</text>
<line x1="265.2" y1="265.5" x2="267.7" y2="265.5" stroke="#333" stroke-width="0.8"/>
<line x1="450.5" y1="265.5" x2="448" y2="265.5" stroke="#333" stroke-width="0.8"/>
<rect x="289.94" y="274.7" width="1.6" height="1.6" fill="#111"/>
<rect x="293.11" y="274.7" width="1.6" height="1.6" fill="#111"/>
<rect x="294.04" y="274.7" width="1.6" height="1.6" fill="#111"/>
<rect x="295.74" y="274.7" width="1.6" height="1.6" fill="#111"/>
<rect x="296.6" y="274.7" width="1.6" height="1.6" fill="#111"/>
<rect x="297.72" y="274.7" width="1.6" height="1.6" fill="#111"/>
<rect x="298.99" y="274.7" width="1.6" height="1.6" fill="#111"/>
<rect x="299.81" y="274.7" width="1.6" height="1.6" fill="#111"/>
<rect x="301.42" y="274.7" width="1.6" height="1.6" fill="#111"/>
<rect x="302.74" y="274.7" width="1.6" height="1.6" fill="#111"/>
<rect x="303.98" y="274.7" width="1.6" height="1.6" fill="#111"/>
<rect x="304.88" y="274.7" width="1.6" height="1.6" fill="#111"/>
<rect x="305.83" y="274.7" width="1.6" height="1.6" fill="#111"/>
<rect x="307.03" y="274.7" width="1.6" height="1.6" fill="#111"/>
<rect x="308.18" y="274.7" width="1.6" height="1.6" fill="#111"/>
<rect x="309.53" y="274.7" width="1.6" height="1.6" fill="#111"/>
<rect x="310.7" y="274.7" width="1.6" height="1.6" fill="#111"/>
<rect x="311.61" y="274.7" width="1.6" height="1.6" fill="#111"/>
<rect x="313.18" y="274.7" width="1.6" height="1.6" fill="#111"/>
<rect x="314.46" y="274.7" width="1.6" height="1.6" fill="#111"/>
<rect x="315.47" y="274.7" width="1.6" height="1.6" fill="#111"/>
<rect x="316.34" y="274.7" width="1.6" height="1.6" fill="#111"/>
<rect x="318.05" y="274.7" width="1.6" height="1.6" fill="#111"/>
<rect x="319.22" y="274.7" width="1.6" height="1.6" fill="#111"/>
<rect x="320.4" y="274.7" width="1.6" height="1.6" fill="#111"/>
<rect x="321.4" y="274.7" width="1.6" height="1.6" fill="#111"/>
<rect x="322.42" y="274.7" width="1.6" height="1.6" fill="#111"/>
<rect x="323.82" y="274.7" width="1.6" height="1.6" fill="#111"/>
<rect x="324.99" y="274.7" width="1.6" height="1.6" fill="#111"/>
<rect x="326.17" y="274.7" width="1.6" height="1.6" fill="#111"/>
<rect x="326.88" y="274.7" width="1.6" height="1.6" fill="#111"/>
<rect x="330.36" y="274.7" width="1.6" height="1.6" fill="#111"/>
<rect x="332.87" y="274.7" width="1.6" height="1.6" fill="#111"/>
<rect x="335.72" y="274.7" width="1.6" height="1.6" fill="#111"/>
<rect x="343.66" y="274.7" width="1.6" height="1.6" fill="#111"/>
<line x1="295.94" y1="278.5" x2="334.94" y2="278.5" stroke="#111" stroke-width="0.85"/>
<line x1="295.94" y1="276.7" x2="295.94" y2="280.8" stroke="#111" stroke-width="0.9"/>
<line x1="334.94" y1="276.7" x2="334.94" y2="280.8" stroke="#111" stroke-width="0.9"/>
<text x="261.2" y="280.6" font-size="6.45" text-anchor="end" font-weight="normal" fill="#1a1a1a">Grassland</text>
<line x1="265.2" y1="278.7" x2="267.7" y2="278.7" stroke="#333" stroke-width="0.8"/>
<line x1="450.5" y1="278.7" x2="448" y2="278.7" stroke="#333" stroke-width="0.8"/>
<rect x="309.95" y="287.9" width="1.6" height="1.6" fill="#111"/>
<rect x="316.82" y="287.9" width="1.6" height="1.6" fill="#111"/>
<rect x="319.73" y="287.9" width="1.6" height="1.6" fill="#111"/>
<rect x="322.32" y="287.9" width="1.6" height="1.6" fill="#111"/>
<rect x="324.08" y="287.9" width="1.6" height="1.6" fill="#111"/>
<rect x="326.69" y="287.9" width="1.6" height="1.6" fill="#111"/>
<rect x="329.01" y="287.9" width="1.6" height="1.6" fill="#111"/>
<rect x="331.2" y="287.9" width="1.6" height="1.6" fill="#111"/>
<rect x="333.16" y="287.9" width="1.6" height="1.6" fill="#111"/>
<rect x="335.64" y="287.9" width="1.6" height="1.6" fill="#111"/>
<rect x="338.04" y="287.9" width="1.6" height="1.6" fill="#111"/>
<rect x="340.49" y="287.9" width="1.6" height="1.6" fill="#111"/>
<rect x="341.95" y="287.9" width="1.6" height="1.6" fill="#111"/>
<rect x="343.5" y="287.9" width="1.6" height="1.6" fill="#111"/>
<rect x="344.32" y="287.9" width="1.6" height="1.6" fill="#111"/>
<rect x="345.89" y="287.9" width="1.6" height="1.6" fill="#111"/>
<rect x="347.61" y="287.9" width="1.6" height="1.6" fill="#111"/>
<rect x="348.98" y="287.9" width="1.6" height="1.6" fill="#111"/>
<rect x="350.25" y="287.9" width="1.6" height="1.6" fill="#111"/>
<rect x="351.46" y="287.9" width="1.6" height="1.6" fill="#111"/>
<rect x="352.93" y="287.9" width="1.6" height="1.6" fill="#111"/>
<rect x="354.05" y="287.9" width="1.6" height="1.6" fill="#111"/>
<rect x="354.9" y="287.9" width="1.6" height="1.6" fill="#111"/>
<rect x="356.8" y="287.9" width="1.6" height="1.6" fill="#111"/>
<rect x="357.5" y="287.9" width="1.6" height="1.6" fill="#111"/>
<rect x="358.87" y="287.9" width="1.6" height="1.6" fill="#111"/>
<rect x="360.6" y="287.9" width="1.6" height="1.6" fill="#111"/>
<rect x="361.96" y="287.9" width="1.6" height="1.6" fill="#111"/>
<rect x="362.71" y="287.9" width="1.6" height="1.6" fill="#111"/>
<rect x="364.5" y="287.9" width="1.6" height="1.6" fill="#111"/>
<rect x="365.6" y="287.9" width="1.6" height="1.6" fill="#111"/>
<rect x="367.16" y="287.9" width="1.6" height="1.6" fill="#111"/>
<rect x="368.37" y="287.9" width="1.6" height="1.6" fill="#111"/>
<rect x="369.5" y="287.9" width="1.6" height="1.6" fill="#111"/>
<rect x="370.82" y="287.9" width="1.6" height="1.6" fill="#111"/>
<rect x="372.08" y="287.9" width="1.6" height="1.6" fill="#111"/>
<rect x="373.94" y="287.9" width="1.6" height="1.6" fill="#111"/>
<rect x="375.12" y="287.9" width="1.6" height="1.6" fill="#111"/>
<rect x="376.19" y="287.9" width="1.6" height="1.6" fill="#111"/>
<rect x="377.46" y="287.9" width="1.6" height="1.6" fill="#111"/>
<rect x="378.66" y="287.9" width="1.6" height="1.6" fill="#111"/>
<line x1="319.54" y1="291.5" x2="378.92" y2="291.5" stroke="#111" stroke-width="0.85"/>
<line x1="319.54" y1="289.7" x2="319.54" y2="293.8" stroke="#111" stroke-width="0.9"/>
<line x1="378.92" y1="289.7" x2="378.92" y2="293.8" stroke="#111" stroke-width="0.9"/>
<text x="261.2" y="293.8" font-size="6.45" text-anchor="end" font-weight="normal" fill="#1a1a1a">Shrub</text>
<line x1="265.2" y1="291.9" x2="267.7" y2="291.9" stroke="#333" stroke-width="0.8"/>
<line x1="450.5" y1="291.9" x2="448" y2="291.9" stroke="#333" stroke-width="0.8"/>
<rect x="322.71" y="301.1" width="1.6" height="1.6" fill="#111"/>
<rect x="323.72" y="301.1" width="1.6" height="1.6" fill="#111"/>
<rect x="324.49" y="301.1" width="1.6" height="1.6" fill="#111"/>
<rect x="325.8" y="301.1" width="1.6" height="1.6" fill="#111"/>
<rect x="326.63" y="301.1" width="1.6" height="1.6" fill="#111"/>
<rect x="327.64" y="301.1" width="1.6" height="1.6" fill="#111"/>
<rect x="328.74" y="301.1" width="1.6" height="1.6" fill="#111"/>
<rect x="330.04" y="301.1" width="1.6" height="1.6" fill="#111"/>
<rect x="330.82" y="301.1" width="1.6" height="1.6" fill="#111"/>
<rect x="332.04" y="301.1" width="1.6" height="1.6" fill="#111"/>
<rect x="332.99" y="301.1" width="1.6" height="1.6" fill="#111"/>
<rect x="334.24" y="301.1" width="1.6" height="1.6" fill="#111"/>
<rect x="335.39" y="301.1" width="1.6" height="1.6" fill="#111"/>
<rect x="335.97" y="301.1" width="1.6" height="1.6" fill="#111"/>
<rect x="337.36" y="301.1" width="1.6" height="1.6" fill="#111"/>
<rect x="338.4" y="301.1" width="1.6" height="1.6" fill="#111"/>
<rect x="339.22" y="301.1" width="1.6" height="1.6" fill="#111"/>
<rect x="340.27" y="301.1" width="1.6" height="1.6" fill="#111"/>
<rect x="341.75" y="301.1" width="1.6" height="1.6" fill="#111"/>
<rect x="342.82" y="301.1" width="1.6" height="1.6" fill="#111"/>
<rect x="343.62" y="301.1" width="1.6" height="1.6" fill="#111"/>
<rect x="344.92" y="301.1" width="1.6" height="1.6" fill="#111"/>
<rect x="345.95" y="301.1" width="1.6" height="1.6" fill="#111"/>
<rect x="346.97" y="301.1" width="1.6" height="1.6" fill="#111"/>
<rect x="347.6" y="301.1" width="1.6" height="1.6" fill="#111"/>
<rect x="349.09" y="301.1" width="1.6" height="1.6" fill="#111"/>
<rect x="350.27" y="301.1" width="1.6" height="1.6" fill="#111"/>
<rect x="350.83" y="301.1" width="1.6" height="1.6" fill="#111"/>
<rect x="352.14" y="301.1" width="1.6" height="1.6" fill="#111"/>
<rect x="353.29" y="301.1" width="1.6" height="1.6" fill="#111"/>
<rect x="356.37" y="301.1" width="1.6" height="1.6" fill="#111"/>
<rect x="359.62" y="301.1" width="1.6" height="1.6" fill="#111"/>
<rect x="363.76" y="301.1" width="1.6" height="1.6" fill="#111"/>
<rect x="365.56" y="301.1" width="1.6" height="1.6" fill="#111"/>
<rect x="368.6" y="301.1" width="1.6" height="1.6" fill="#111"/>
<line x1="327.24" y1="305.5" x2="364.25" y2="305.5" stroke="#111" stroke-width="0.85"/>
<line x1="327.24" y1="303.7" x2="327.24" y2="307.8" stroke="#111" stroke-width="0.9"/>
<line x1="364.25" y1="303.7" x2="364.25" y2="307.8" stroke="#111" stroke-width="0.9"/>
<text x="261.2" y="307" font-size="6.45" text-anchor="end" font-weight="normal" fill="#1a1a1a">Forest</text>
<line x1="265.2" y1="305.1" x2="267.7" y2="305.1" stroke="#333" stroke-width="0.8"/>
<line x1="450.5" y1="305.1" x2="448" y2="305.1" stroke="#333" stroke-width="0.8"/>
<rect x="316.89" y="314.3" width="1.6" height="1.6" fill="#111"/>
<rect x="318.42" y="314.3" width="1.6" height="1.6" fill="#111"/>
<rect x="320.59" y="314.3" width="1.6" height="1.6" fill="#111"/>
<rect x="321.96" y="314.3" width="1.6" height="1.6" fill="#111"/>
<rect x="323.52" y="314.3" width="1.6" height="1.6" fill="#111"/>
<rect x="324.95" y="314.3" width="1.6" height="1.6" fill="#111"/>
<rect x="326.34" y="314.3" width="1.6" height="1.6" fill="#111"/>
<rect x="328.56" y="314.3" width="1.6" height="1.6" fill="#111"/>
<rect x="330.05" y="314.3" width="1.6" height="1.6" fill="#111"/>
<rect x="331.21" y="314.3" width="1.6" height="1.6" fill="#111"/>
<rect x="333.22" y="314.3" width="1.6" height="1.6" fill="#111"/>
<rect x="334.78" y="314.3" width="1.6" height="1.6" fill="#111"/>
<rect x="336.17" y="314.3" width="1.6" height="1.6" fill="#111"/>
<rect x="337.29" y="314.3" width="1.6" height="1.6" fill="#111"/>
<rect x="339.24" y="314.3" width="1.6" height="1.6" fill="#111"/>
<rect x="340.55" y="314.3" width="1.6" height="1.6" fill="#111"/>
<rect x="342.03" y="314.3" width="1.6" height="1.6" fill="#111"/>
<rect x="343.81" y="314.3" width="1.6" height="1.6" fill="#111"/>
<rect x="345.22" y="314.3" width="1.6" height="1.6" fill="#111"/>
<rect x="347.25" y="314.3" width="1.6" height="1.6" fill="#111"/>
<rect x="348.7" y="314.3" width="1.6" height="1.6" fill="#111"/>
<rect x="350.42" y="314.3" width="1.6" height="1.6" fill="#111"/>
<rect x="352.16" y="314.3" width="1.6" height="1.6" fill="#111"/>
<rect x="353.66" y="314.3" width="1.6" height="1.6" fill="#111"/>
<rect x="355.14" y="314.3" width="1.6" height="1.6" fill="#111"/>
<rect x="356.97" y="314.3" width="1.6" height="1.6" fill="#111"/>
<rect x="357.8" y="314.3" width="1.6" height="1.6" fill="#111"/>
<rect x="359.54" y="314.3" width="1.6" height="1.6" fill="#111"/>
<rect x="361.29" y="314.3" width="1.6" height="1.6" fill="#111"/>
<rect x="363.07" y="314.3" width="1.6" height="1.6" fill="#111"/>
<rect x="364.78" y="314.3" width="1.6" height="1.6" fill="#111"/>
<rect x="365.98" y="314.3" width="1.6" height="1.6" fill="#111"/>
<rect x="367.45" y="314.3" width="1.6" height="1.6" fill="#111"/>
<rect x="369.5" y="314.3" width="1.6" height="1.6" fill="#111"/>
<rect x="370.61" y="314.3" width="1.6" height="1.6" fill="#111"/>
<line x1="321.74" y1="318.5" x2="366.45" y2="318.5" stroke="#111" stroke-width="0.85"/>
<line x1="321.74" y1="316.7" x2="321.74" y2="320.8" stroke="#111" stroke-width="0.9"/>
<line x1="366.45" y1="316.7" x2="366.45" y2="320.8" stroke="#111" stroke-width="0.9"/>
<text x="261.2" y="320.2" font-size="6.45" text-anchor="end" font-weight="normal" fill="#1a1a1a">Cropland</text>
<line x1="265.2" y1="318.3" x2="267.7" y2="318.3" stroke="#333" stroke-width="0.8"/>
<line x1="450.5" y1="318.3" x2="448" y2="318.3" stroke="#333" stroke-width="0.8"/>
<rect x="265.2" y="239.4" width="185.3" height="91.9" fill="none" stroke="#333" stroke-width="1"/>
<line x1="265.2" y1="331.3" x2="265.2" y2="328.5" stroke="#333" stroke-width="0.8"/>
<line x1="265.2" y1="239.4" x2="265.2" y2="242.2" stroke="#333" stroke-width="0.8"/>
<text x="265.2" y="341.1" font-size="6.3" text-anchor="middle" font-weight="normal" fill="#1a1a1a">0</text>
<line x1="294.85" y1="331.3" x2="294.85" y2="328.5" stroke="#333" stroke-width="0.8"/>
<line x1="294.85" y1="239.4" x2="294.85" y2="242.2" stroke="#333" stroke-width="0.8"/>
<text x="294.85" y="341.1" font-size="6.3" text-anchor="middle" font-weight="normal" fill="#1a1a1a">4</text>
<line x1="324.5" y1="331.3" x2="324.5" y2="328.5" stroke="#333" stroke-width="0.8"/>
<line x1="324.5" y1="239.4" x2="324.5" y2="242.2" stroke="#333" stroke-width="0.8"/>
<text x="324.5" y="341.1" font-size="6.3" text-anchor="middle" font-weight="normal" fill="#1a1a1a">8</text>
<line x1="354.14" y1="331.3" x2="354.14" y2="328.5" stroke="#333" stroke-width="0.8"/>
<line x1="354.14" y1="239.4" x2="354.14" y2="242.2" stroke="#333" stroke-width="0.8"/>
<text x="354.14" y="341.1" font-size="6.3" text-anchor="middle" font-weight="normal" fill="#1a1a1a">12</text>
<line x1="383.79" y1="331.3" x2="383.79" y2="328.5" stroke="#333" stroke-width="0.8"/>
<line x1="383.79" y1="239.4" x2="383.79" y2="242.2" stroke="#333" stroke-width="0.8"/>
<text x="383.79" y="341.1" font-size="6.3" text-anchor="middle" font-weight="normal" fill="#1a1a1a">16</text>
<line x1="413.44" y1="331.3" x2="413.44" y2="328.5" stroke="#333" stroke-width="0.8"/>
<line x1="413.44" y1="239.4" x2="413.44" y2="242.2" stroke="#333" stroke-width="0.8"/>
<text x="413.44" y="341.1" font-size="6.3" text-anchor="middle" font-weight="normal" fill="#1a1a1a">20</text>
<line x1="443.09" y1="331.3" x2="443.09" y2="328.5" stroke="#333" stroke-width="0.8"/>
<line x1="443.09" y1="239.4" x2="443.09" y2="242.2" stroke="#333" stroke-width="0.8"/>
<text x="443.09" y="341.1" font-size="6.3" text-anchor="middle" font-weight="normal" fill="#1a1a1a">24</text>
<text x="357.85" y="350.6" font-size="7.4" text-anchor="middle" font-weight="normal" fill="#1a1a1a">Projected frequency changes (days)</text>
<text x="353.65" y="235.8" font-size="7.2" text-anchor="middle" font-weight="bold" fill="#111">Historical + SSP2-4.5</text>
<rect x="265.2" y="377.1" width="65.71" height="10.3" fill="#8c8c8c"/>
<rect x="265.2" y="390.3" width="50.6" height="10.3" fill="#8c8c8c"/>
<rect x="265.2" y="403.5" width="39.91" height="10.3" fill="#8c8c8c"/>
<rect x="265.2" y="416.7" width="63.5" height="10.3" fill="#8c8c8c"/>
<rect x="265.2" y="429.9" width="73.82" height="10.3" fill="#8c8c8c"/>
<rect x="265.2" y="443.1" width="73.82" height="10.3" fill="#8c8c8c"/>
<rect x="300.29" y="378.2" width="1.6" height="1.6" fill="#111"/>
<rect x="302.09" y="378.2" width="1.6" height="1.6" fill="#111"/>
<rect x="303.34" y="378.2" width="1.6" height="1.6" fill="#111"/>
<rect x="305.15" y="378.2" width="1.6" height="1.6" fill="#111"/>
<rect x="306.31" y="378.2" width="1.6" height="1.6" fill="#111"/>
<rect x="307.63" y="378.2" width="1.6" height="1.6" fill="#111"/>
<rect x="309.37" y="378.2" width="1.6" height="1.6" fill="#111"/>
<rect x="310.24" y="378.2" width="1.6" height="1.6" fill="#111"/>
<rect x="312.09" y="378.2" width="1.6" height="1.6" fill="#111"/>
<rect x="313.14" y="378.2" width="1.6" height="1.6" fill="#111"/>
<rect x="314.75" y="378.2" width="1.6" height="1.6" fill="#111"/>
<rect x="316.38" y="378.2" width="1.6" height="1.6" fill="#111"/>
<rect x="317.65" y="378.2" width="1.6" height="1.6" fill="#111"/>
<rect x="318.88" y="378.2" width="1.6" height="1.6" fill="#111"/>
<rect x="320.44" y="378.2" width="1.6" height="1.6" fill="#111"/>
<rect x="321.21" y="378.2" width="1.6" height="1.6" fill="#111"/>
<rect x="322.94" y="378.2" width="1.6" height="1.6" fill="#111"/>
<rect x="324.68" y="378.2" width="1.6" height="1.6" fill="#111"/>
<rect x="325.99" y="378.2" width="1.6" height="1.6" fill="#111"/>
<rect x="327.15" y="378.2" width="1.6" height="1.6" fill="#111"/>
<rect x="328.37" y="378.2" width="1.6" height="1.6" fill="#111"/>
<rect x="329.86" y="378.2" width="1.6" height="1.6" fill="#111"/>
<rect x="331.32" y="378.2" width="1.6" height="1.6" fill="#111"/>
<rect x="332.47" y="378.2" width="1.6" height="1.6" fill="#111"/>
<rect x="334.53" y="378.2" width="1.6" height="1.6" fill="#111"/>
<rect x="335.7" y="378.2" width="1.6" height="1.6" fill="#111"/>
<rect x="337" y="378.2" width="1.6" height="1.6" fill="#111"/>
<rect x="338.11" y="378.2" width="1.6" height="1.6" fill="#111"/>
<rect x="339.63" y="378.2" width="1.6" height="1.6" fill="#111"/>
<rect x="341.1" y="378.2" width="1.6" height="1.6" fill="#111"/>
<rect x="344.89" y="378.2" width="1.6" height="1.6" fill="#111"/>
<rect x="349.41" y="378.2" width="1.6" height="1.6" fill="#111"/>
<rect x="353.62" y="378.2" width="1.6" height="1.6" fill="#111"/>
<rect x="358.5" y="378.2" width="1.6" height="1.6" fill="#111"/>
<rect x="362.99" y="378.2" width="1.6" height="1.6" fill="#111"/>
<rect x="369.18" y="378.2" width="1.6" height="1.6" fill="#111"/>
<rect x="383.19" y="378.2" width="1.6" height="1.6" fill="#111"/>
<line x1="306.58" y1="382.5" x2="370.72" y2="382.5" stroke="#111" stroke-width="0.85"/>
<line x1="306.58" y1="380.7" x2="306.58" y2="384.8" stroke="#111" stroke-width="0.9"/>
<line x1="370.72" y1="380.7" x2="370.72" y2="384.8" stroke="#111" stroke-width="0.9"/>
<text x="261.2" y="384.1" font-size="6.45" text-anchor="end" font-weight="normal" fill="#1a1a1a">Impervious</text>
<line x1="265.2" y1="382.2" x2="267.7" y2="382.2" stroke="#333" stroke-width="0.8"/>
<line x1="450.5" y1="382.2" x2="448" y2="382.2" stroke="#333" stroke-width="0.8"/>
<rect x="287.35" y="391.4" width="1.6" height="1.6" fill="#111"/>
<rect x="291.78" y="391.4" width="1.6" height="1.6" fill="#111"/>
<rect x="293.17" y="391.4" width="1.6" height="1.6" fill="#111"/>
<rect x="295.01" y="391.4" width="1.6" height="1.6" fill="#111"/>
<rect x="295.67" y="391.4" width="1.6" height="1.6" fill="#111"/>
<rect x="297.15" y="391.4" width="1.6" height="1.6" fill="#111"/>
<rect x="298.68" y="391.4" width="1.6" height="1.6" fill="#111"/>
<rect x="299.95" y="391.4" width="1.6" height="1.6" fill="#111"/>
<rect x="301.01" y="391.4" width="1.6" height="1.6" fill="#111"/>
<rect x="302.71" y="391.4" width="1.6" height="1.6" fill="#111"/>
<rect x="303.98" y="391.4" width="1.6" height="1.6" fill="#111"/>
<rect x="304.74" y="391.4" width="1.6" height="1.6" fill="#111"/>
<rect x="306.57" y="391.4" width="1.6" height="1.6" fill="#111"/>
<rect x="307.62" y="391.4" width="1.6" height="1.6" fill="#111"/>
<rect x="309" y="391.4" width="1.6" height="1.6" fill="#111"/>
<rect x="310.36" y="391.4" width="1.6" height="1.6" fill="#111"/>
<rect x="311.71" y="391.4" width="1.6" height="1.6" fill="#111"/>
<rect x="313.12" y="391.4" width="1.6" height="1.6" fill="#111"/>
<rect x="313.95" y="391.4" width="1.6" height="1.6" fill="#111"/>
<rect x="315.26" y="391.4" width="1.6" height="1.6" fill="#111"/>
<rect x="316.57" y="391.4" width="1.6" height="1.6" fill="#111"/>
<rect x="317.85" y="391.4" width="1.6" height="1.6" fill="#111"/>
<rect x="319.6" y="391.4" width="1.6" height="1.6" fill="#111"/>
<rect x="320.95" y="391.4" width="1.6" height="1.6" fill="#111"/>
<rect x="321.87" y="391.4" width="1.6" height="1.6" fill="#111"/>
<rect x="323.41" y="391.4" width="1.6" height="1.6" fill="#111"/>
<rect x="324.79" y="391.4" width="1.6" height="1.6" fill="#111"/>
<rect x="326.14" y="391.4" width="1.6" height="1.6" fill="#111"/>
<rect x="327.36" y="391.4" width="1.6" height="1.6" fill="#111"/>
<rect x="331.69" y="391.4" width="1.6" height="1.6" fill="#111"/>
<rect x="334.64" y="391.4" width="1.6" height="1.6" fill="#111"/>
<rect x="336.71" y="391.4" width="1.6" height="1.6" fill="#111"/>
<rect x="339.72" y="391.4" width="1.6" height="1.6" fill="#111"/>
<rect x="341.98" y="391.4" width="1.6" height="1.6" fill="#111"/>
<rect x="350.75" y="391.4" width="1.6" height="1.6" fill="#111"/>
<rect x="353.7" y="391.4" width="1.6" height="1.6" fill="#111"/>
<rect x="365.87" y="391.4" width="1.6" height="1.6" fill="#111"/>
<rect x="369.18" y="391.4" width="1.6" height="1.6" fill="#111"/>
<line x1="294.42" y1="395.5" x2="354.5" y2="395.5" stroke="#111" stroke-width="0.85"/>
<line x1="294.42" y1="393.7" x2="294.42" y2="397.8" stroke="#111" stroke-width="0.9"/>
<line x1="354.5" y1="393.7" x2="354.5" y2="397.8" stroke="#111" stroke-width="0.9"/>
<text x="261.2" y="397.3" font-size="6.45" text-anchor="end" font-weight="normal" fill="#1a1a1a">Barren</text>
<line x1="265.2" y1="395.4" x2="267.7" y2="395.4" stroke="#333" stroke-width="0.8"/>
<line x1="450.5" y1="395.4" x2="448" y2="395.4" stroke="#333" stroke-width="0.8"/>
<rect x="285.08" y="404.6" width="1.6" height="1.6" fill="#111"/>
<rect x="286.24" y="404.6" width="1.6" height="1.6" fill="#111"/>
<rect x="287.5" y="404.6" width="1.6" height="1.6" fill="#111"/>
<rect x="288.35" y="404.6" width="1.6" height="1.6" fill="#111"/>
<rect x="289.83" y="404.6" width="1.6" height="1.6" fill="#111"/>
<rect x="291.05" y="404.6" width="1.6" height="1.6" fill="#111"/>
<rect x="292.52" y="404.6" width="1.6" height="1.6" fill="#111"/>
<rect x="293.56" y="404.6" width="1.6" height="1.6" fill="#111"/>
<rect x="294.36" y="404.6" width="1.6" height="1.6" fill="#111"/>
<rect x="295.71" y="404.6" width="1.6" height="1.6" fill="#111"/>
<rect x="297.14" y="404.6" width="1.6" height="1.6" fill="#111"/>
<rect x="297.87" y="404.6" width="1.6" height="1.6" fill="#111"/>
<rect x="299.58" y="404.6" width="1.6" height="1.6" fill="#111"/>
<rect x="300.21" y="404.6" width="1.6" height="1.6" fill="#111"/>
<rect x="301.82" y="404.6" width="1.6" height="1.6" fill="#111"/>
<rect x="302.92" y="404.6" width="1.6" height="1.6" fill="#111"/>
<rect x="304.38" y="404.6" width="1.6" height="1.6" fill="#111"/>
<rect x="305.16" y="404.6" width="1.6" height="1.6" fill="#111"/>
<rect x="306.3" y="404.6" width="1.6" height="1.6" fill="#111"/>
<rect x="307.39" y="404.6" width="1.6" height="1.6" fill="#111"/>
<rect x="308.64" y="404.6" width="1.6" height="1.6" fill="#111"/>
<rect x="309.85" y="404.6" width="1.6" height="1.6" fill="#111"/>
<rect x="311.21" y="404.6" width="1.6" height="1.6" fill="#111"/>
<rect x="312.19" y="404.6" width="1.6" height="1.6" fill="#111"/>
<rect x="313.31" y="404.6" width="1.6" height="1.6" fill="#111"/>
<rect x="317.58" y="404.6" width="1.6" height="1.6" fill="#111"/>
<rect x="320.16" y="404.6" width="1.6" height="1.6" fill="#111"/>
<rect x="323.84" y="404.6" width="1.6" height="1.6" fill="#111"/>
<rect x="327.16" y="404.6" width="1.6" height="1.6" fill="#111"/>
<line x1="288.52" y1="408.5" x2="320.59" y2="408.5" stroke="#111" stroke-width="0.85"/>
<line x1="288.52" y1="406.7" x2="288.52" y2="410.8" stroke="#111" stroke-width="0.9"/>
<line x1="320.59" y1="406.7" x2="320.59" y2="410.8" stroke="#111" stroke-width="0.9"/>
<text x="261.2" y="410.5" font-size="6.45" text-anchor="end" font-weight="normal" fill="#1a1a1a">Grassland</text>
<line x1="265.2" y1="408.6" x2="267.7" y2="408.6" stroke="#333" stroke-width="0.8"/>
<line x1="450.5" y1="408.6" x2="448" y2="408.6" stroke="#333" stroke-width="0.8"/>
<rect x="297.99" y="417.8" width="1.6" height="1.6" fill="#111"/>
<rect x="298.77" y="417.8" width="1.6" height="1.6" fill="#111"/>
<rect x="300.99" y="417.8" width="1.6" height="1.6" fill="#111"/>
<rect x="301.86" y="417.8" width="1.6" height="1.6" fill="#111"/>
<rect x="303.76" y="417.8" width="1.6" height="1.6" fill="#111"/>
<rect x="305.2" y="417.8" width="1.6" height="1.6" fill="#111"/>
<rect x="306.85" y="417.8" width="1.6" height="1.6" fill="#111"/>
<rect x="308.16" y="417.8" width="1.6" height="1.6" fill="#111"/>
<rect x="308.97" y="417.8" width="1.6" height="1.6" fill="#111"/>
<rect x="311.08" y="417.8" width="1.6" height="1.6" fill="#111"/>
<rect x="312.73" y="417.8" width="1.6" height="1.6" fill="#111"/>
<rect x="314.04" y="417.8" width="1.6" height="1.6" fill="#111"/>
<rect x="315.27" y="417.8" width="1.6" height="1.6" fill="#111"/>
<rect x="316.33" y="417.8" width="1.6" height="1.6" fill="#111"/>
<rect x="317.77" y="417.8" width="1.6" height="1.6" fill="#111"/>
<rect x="319.43" y="417.8" width="1.6" height="1.6" fill="#111"/>
<rect x="321.3" y="417.8" width="1.6" height="1.6" fill="#111"/>
<rect x="322.28" y="417.8" width="1.6" height="1.6" fill="#111"/>
<rect x="324.1" y="417.8" width="1.6" height="1.6" fill="#111"/>
<rect x="325.72" y="417.8" width="1.6" height="1.6" fill="#111"/>
<rect x="327.03" y="417.8" width="1.6" height="1.6" fill="#111"/>
<rect x="328.63" y="417.8" width="1.6" height="1.6" fill="#111"/>
<rect x="330.16" y="417.8" width="1.6" height="1.6" fill="#111"/>
<rect x="331.56" y="417.8" width="1.6" height="1.6" fill="#111"/>
<rect x="332.41" y="417.8" width="1.6" height="1.6" fill="#111"/>
<rect x="334.44" y="417.8" width="1.6" height="1.6" fill="#111"/>
<rect x="335.83" y="417.8" width="1.6" height="1.6" fill="#111"/>
<rect x="337.5" y="417.8" width="1.6" height="1.6" fill="#111"/>
<rect x="338.49" y="417.8" width="1.6" height="1.6" fill="#111"/>
<rect x="339.85" y="417.8" width="1.6" height="1.6" fill="#111"/>
<rect x="341.24" y="417.8" width="1.6" height="1.6" fill="#111"/>
<rect x="343.04" y="417.8" width="1.6" height="1.6" fill="#111"/>
<rect x="344.26" y="417.8" width="1.6" height="1.6" fill="#111"/>
<rect x="346.25" y="417.8" width="1.6" height="1.6" fill="#111"/>
<rect x="347.55" y="417.8" width="1.6" height="1.6" fill="#111"/>
<rect x="348.84" y="417.8" width="1.6" height="1.6" fill="#111"/>
<rect x="350.28" y="417.8" width="1.6" height="1.6" fill="#111"/>
<rect x="351.53" y="417.8" width="1.6" height="1.6" fill="#111"/>
<rect x="353.03" y="417.8" width="1.6" height="1.6" fill="#111"/>
<rect x="355.14" y="417.8" width="1.6" height="1.6" fill="#111"/>
<line x1="306.58" y1="421.5" x2="351.55" y2="421.5" stroke="#111" stroke-width="0.85"/>
<line x1="306.58" y1="419.7" x2="306.58" y2="423.8" stroke="#111" stroke-width="0.9"/>
<line x1="351.55" y1="419.7" x2="351.55" y2="423.8" stroke="#111" stroke-width="0.9"/>
<text x="261.2" y="423.7" font-size="6.45" text-anchor="end" font-weight="normal" fill="#1a1a1a">Shrub</text>
<line x1="265.2" y1="421.8" x2="267.7" y2="421.8" stroke="#333" stroke-width="0.8"/>
<line x1="450.5" y1="421.8" x2="448" y2="421.8" stroke="#333" stroke-width="0.8"/>
<rect x="315.86" y="431" width="1.6" height="1.6" fill="#111"/>
<rect x="317.39" y="431" width="1.6" height="1.6" fill="#111"/>
<rect x="318.68" y="431" width="1.6" height="1.6" fill="#111"/>
<rect x="320.07" y="431" width="1.6" height="1.6" fill="#111"/>
<rect x="320.9" y="431" width="1.6" height="1.6" fill="#111"/>
<rect x="322.33" y="431" width="1.6" height="1.6" fill="#111"/>
<rect x="323.4" y="431" width="1.6" height="1.6" fill="#111"/>
<rect x="324.64" y="431" width="1.6" height="1.6" fill="#111"/>
<rect x="326.1" y="431" width="1.6" height="1.6" fill="#111"/>
<rect x="327.47" y="431" width="1.6" height="1.6" fill="#111"/>
<rect x="328.58" y="431" width="1.6" height="1.6" fill="#111"/>
<rect x="329.89" y="431" width="1.6" height="1.6" fill="#111"/>
<rect x="331.27" y="431" width="1.6" height="1.6" fill="#111"/>
<rect x="332.14" y="431" width="1.6" height="1.6" fill="#111"/>
<rect x="334.01" y="431" width="1.6" height="1.6" fill="#111"/>
<rect x="334.66" y="431" width="1.6" height="1.6" fill="#111"/>
<rect x="336.2" y="431" width="1.6" height="1.6" fill="#111"/>
<rect x="337.69" y="431" width="1.6" height="1.6" fill="#111"/>
<rect x="338.43" y="431" width="1.6" height="1.6" fill="#111"/>
<rect x="339.79" y="431" width="1.6" height="1.6" fill="#111"/>
<rect x="340.96" y="431" width="1.6" height="1.6" fill="#111"/>
<rect x="342.31" y="431" width="1.6" height="1.6" fill="#111"/>
<rect x="343.89" y="431" width="1.6" height="1.6" fill="#111"/>
<rect x="345.27" y="431" width="1.6" height="1.6" fill="#111"/>
<rect x="346.69" y="431" width="1.6" height="1.6" fill="#111"/>
<rect x="347.64" y="431" width="1.6" height="1.6" fill="#111"/>
<rect x="349.15" y="431" width="1.6" height="1.6" fill="#111"/>
<rect x="350.07" y="431" width="1.6" height="1.6" fill="#111"/>
<rect x="351.41" y="431" width="1.6" height="1.6" fill="#111"/>
<rect x="352.99" y="431" width="1.6" height="1.6" fill="#111"/>
<rect x="353.57" y="431" width="1.6" height="1.6" fill="#111"/>
<rect x="355.48" y="431" width="1.6" height="1.6" fill="#111"/>
<rect x="359.6" y="431" width="1.6" height="1.6" fill="#111"/>
<line x1="320.96" y1="435.5" x2="354.5" y2="435.5" stroke="#111" stroke-width="0.85"/>
<line x1="320.96" y1="433.7" x2="320.96" y2="437.8" stroke="#111" stroke-width="0.9"/>
<line x1="354.5" y1="433.7" x2="354.5" y2="437.8" stroke="#111" stroke-width="0.9"/>
<text x="261.2" y="436.9" font-size="6.45" text-anchor="end" font-weight="normal" fill="#1a1a1a">Forest</text>
<line x1="265.2" y1="435" x2="267.7" y2="435" stroke="#333" stroke-width="0.8"/>
<line x1="450.5" y1="435" x2="448" y2="435" stroke="#333" stroke-width="0.8"/>
<rect x="314.48" y="444.2" width="1.6" height="1.6" fill="#111"/>
<rect x="315.87" y="444.2" width="1.6" height="1.6" fill="#111"/>
<rect x="317.52" y="444.2" width="1.6" height="1.6" fill="#111"/>
<rect x="318.43" y="444.2" width="1.6" height="1.6" fill="#111"/>
<rect x="320.08" y="444.2" width="1.6" height="1.6" fill="#111"/>
<rect x="321.18" y="444.2" width="1.6" height="1.6" fill="#111"/>
<rect x="322.07" y="444.2" width="1.6" height="1.6" fill="#111"/>
<rect x="323.97" y="444.2" width="1.6" height="1.6" fill="#111"/>
<rect x="324.55" y="444.2" width="1.6" height="1.6" fill="#111"/>
<rect x="326.32" y="444.2" width="1.6" height="1.6" fill="#111"/>
<rect x="327.33" y="444.2" width="1.6" height="1.6" fill="#111"/>
<rect x="329.1" y="444.2" width="1.6" height="1.6" fill="#111"/>
<rect x="329.84" y="444.2" width="1.6" height="1.6" fill="#111"/>
<rect x="331.08" y="444.2" width="1.6" height="1.6" fill="#111"/>
<rect x="332.42" y="444.2" width="1.6" height="1.6" fill="#111"/>
<rect x="334.04" y="444.2" width="1.6" height="1.6" fill="#111"/>
<rect x="335.09" y="444.2" width="1.6" height="1.6" fill="#111"/>
<rect x="336.53" y="444.2" width="1.6" height="1.6" fill="#111"/>
<rect x="338.04" y="444.2" width="1.6" height="1.6" fill="#111"/>
<rect x="339.18" y="444.2" width="1.6" height="1.6" fill="#111"/>
<rect x="340.55" y="444.2" width="1.6" height="1.6" fill="#111"/>
<rect x="341.42" y="444.2" width="1.6" height="1.6" fill="#111"/>
<rect x="342.56" y="444.2" width="1.6" height="1.6" fill="#111"/>
<rect x="344.16" y="444.2" width="1.6" height="1.6" fill="#111"/>
<rect x="345.2" y="444.2" width="1.6" height="1.6" fill="#111"/>
<rect x="346.92" y="444.2" width="1.6" height="1.6" fill="#111"/>
<rect x="348.04" y="444.2" width="1.6" height="1.6" fill="#111"/>
<rect x="349.36" y="444.2" width="1.6" height="1.6" fill="#111"/>
<rect x="350.36" y="444.2" width="1.6" height="1.6" fill="#111"/>
<rect x="351.78" y="444.2" width="1.6" height="1.6" fill="#111"/>
<rect x="357.02" y="444.2" width="1.6" height="1.6" fill="#111"/>
<rect x="358.96" y="444.2" width="1.6" height="1.6" fill="#111"/>
<rect x="360.77" y="444.2" width="1.6" height="1.6" fill="#111"/>
<rect x="363.18" y="444.2" width="1.6" height="1.6" fill="#111"/>
<rect x="365.31" y="444.2" width="1.6" height="1.6" fill="#111"/>
<rect x="367.84" y="444.2" width="1.6" height="1.6" fill="#111"/>
<rect x="369.76" y="444.2" width="1.6" height="1.6" fill="#111"/>
<rect x="371.31" y="444.2" width="1.6" height="1.6" fill="#111"/>
<line x1="320.59" y1="448.5" x2="367.77" y2="448.5" stroke="#111" stroke-width="0.85"/>
<line x1="320.59" y1="446.7" x2="320.59" y2="450.8" stroke="#111" stroke-width="0.9"/>
<line x1="367.77" y1="446.7" x2="367.77" y2="450.8" stroke="#111" stroke-width="0.9"/>
<text x="261.2" y="450.1" font-size="6.45" text-anchor="end" font-weight="normal" fill="#1a1a1a">Cropland</text>
<line x1="265.2" y1="448.2" x2="267.7" y2="448.2" stroke="#333" stroke-width="0.8"/>
<line x1="450.5" y1="448.2" x2="448" y2="448.2" stroke="#333" stroke-width="0.8"/>
<rect x="265.2" y="369.2" width="185.3" height="91.9" fill="none" stroke="#333" stroke-width="1"/>
<line x1="265.2" y1="461.1" x2="265.2" y2="458.3" stroke="#333" stroke-width="0.8"/>
<line x1="265.2" y1="369.2" x2="265.2" y2="372" stroke="#333" stroke-width="0.8"/>
<text x="265.2" y="470.9" font-size="6.3" text-anchor="middle" font-weight="normal" fill="#1a1a1a">0</text>
<line x1="302.26" y1="461.1" x2="302.26" y2="458.3" stroke="#333" stroke-width="0.8"/>
<line x1="302.26" y1="369.2" x2="302.26" y2="372" stroke="#333" stroke-width="0.8"/>
<text x="302.26" y="470.9" font-size="6.3" text-anchor="middle" font-weight="normal" fill="#1a1a1a">100</text>
<line x1="339.32" y1="461.1" x2="339.32" y2="458.3" stroke="#333" stroke-width="0.8"/>
<line x1="339.32" y1="369.2" x2="339.32" y2="372" stroke="#333" stroke-width="0.8"/>
<text x="339.32" y="470.9" font-size="6.3" text-anchor="middle" font-weight="normal" fill="#1a1a1a">200</text>
<line x1="376.38" y1="461.1" x2="376.38" y2="458.3" stroke="#333" stroke-width="0.8"/>
<line x1="376.38" y1="369.2" x2="376.38" y2="372" stroke="#333" stroke-width="0.8"/>
<text x="376.38" y="470.9" font-size="6.3" text-anchor="middle" font-weight="normal" fill="#1a1a1a">300</text>
<line x1="413.44" y1="461.1" x2="413.44" y2="458.3" stroke="#333" stroke-width="0.8"/>
<line x1="413.44" y1="369.2" x2="413.44" y2="372" stroke="#333" stroke-width="0.8"/>
<text x="413.44" y="470.9" font-size="6.3" text-anchor="middle" font-weight="normal" fill="#1a1a1a">400</text>
<line x1="450.5" y1="461.1" x2="450.5" y2="458.3" stroke="#333" stroke-width="0.8"/>
<line x1="450.5" y1="369.2" x2="450.5" y2="372" stroke="#333" stroke-width="0.8"/>
<text x="450.5" y="470.9" font-size="6.3" text-anchor="middle" font-weight="normal" fill="#1a1a1a">500</text>
<text x="357.85" y="480.4" font-size="7.4" text-anchor="middle" font-weight="normal" fill="#1a1a1a">Projected percentage changes in frequency (%)</text>
<rect x="493.6" y="247.2" width="82.83" height="10.3" fill="#8c8c8c"/>
<rect x="493.6" y="260.4" width="66.56" height="10.3" fill="#8c8c8c"/>
<rect x="493.6" y="273.6" width="83.2" height="10.3" fill="#8c8c8c"/>
<rect x="493.6" y="286.8" width="145.87" height="10.3" fill="#8c8c8c"/>
<rect x="493.6" y="300" width="135.61" height="10.3" fill="#8c8c8c"/>
<rect x="493.6" y="313.2" width="118.75" height="10.3" fill="#8c8c8c"/>
<rect x="553.62" y="248.3" width="1.6" height="1.6" fill="#111"/>
<rect x="554.56" y="248.3" width="1.6" height="1.6" fill="#111"/>
<rect x="555.96" y="248.3" width="1.6" height="1.6" fill="#111"/>
<rect x="557.03" y="248.3" width="1.6" height="1.6" fill="#111"/>
<rect x="558.43" y="248.3" width="1.6" height="1.6" fill="#111"/>
<rect x="559.85" y="248.3" width="1.6" height="1.6" fill="#111"/>
<rect x="560.99" y="248.3" width="1.6" height="1.6" fill="#111"/>
<rect x="562.28" y="248.3" width="1.6" height="1.6" fill="#111"/>
<rect x="563.48" y="248.3" width="1.6" height="1.6" fill="#111"/>
<rect x="564.48" y="248.3" width="1.6" height="1.6" fill="#111"/>
<rect x="565.22" y="248.3" width="1.6" height="1.6" fill="#111"/>
<rect x="566.76" y="248.3" width="1.6" height="1.6" fill="#111"/>
<rect x="567.6" y="248.3" width="1.6" height="1.6" fill="#111"/>
<rect x="568.91" y="248.3" width="1.6" height="1.6" fill="#111"/>
<rect x="570.1" y="248.3" width="1.6" height="1.6" fill="#111"/>
<rect x="571.57" y="248.3" width="1.6" height="1.6" fill="#111"/>
<rect x="572.67" y="248.3" width="1.6" height="1.6" fill="#111"/>
<rect x="574.01" y="248.3" width="1.6" height="1.6" fill="#111"/>
<rect x="575.3" y="248.3" width="1.6" height="1.6" fill="#111"/>
<rect x="576.52" y="248.3" width="1.6" height="1.6" fill="#111"/>
<rect x="577.74" y="248.3" width="1.6" height="1.6" fill="#111"/>
<rect x="578.44" y="248.3" width="1.6" height="1.6" fill="#111"/>
<rect x="579.89" y="248.3" width="1.6" height="1.6" fill="#111"/>
<rect x="581.13" y="248.3" width="1.6" height="1.6" fill="#111"/>
<rect x="582.36" y="248.3" width="1.6" height="1.6" fill="#111"/>
<rect x="585.78" y="248.3" width="1.6" height="1.6" fill="#111"/>
<rect x="591.36" y="248.3" width="1.6" height="1.6" fill="#111"/>
<rect x="595.01" y="248.3" width="1.6" height="1.6" fill="#111"/>
<rect x="598.09" y="248.3" width="1.6" height="1.6" fill="#111"/>
<rect x="603.02" y="248.3" width="1.6" height="1.6" fill="#111"/>
<rect x="606.79" y="248.3" width="1.6" height="1.6" fill="#111"/>
<rect x="630.6" y="248.3" width="1.6" height="1.6" fill="#111"/>
<line x1="557.37" y1="252.5" x2="606.48" y2="252.5" stroke="#111" stroke-width="0.85"/>
<line x1="557.37" y1="250.7" x2="557.37" y2="254.8" stroke="#111" stroke-width="0.9"/>
<line x1="606.48" y1="250.7" x2="606.48" y2="254.8" stroke="#111" stroke-width="0.9"/>
<text x="489.6" y="254.2" font-size="6.45" text-anchor="end" font-weight="normal" fill="#1a1a1a">Impervious</text>
<line x1="493.6" y1="252.3" x2="496.1" y2="252.3" stroke="#333" stroke-width="0.8"/>
<line x1="679.6" y1="252.3" x2="677.1" y2="252.3" stroke="#333" stroke-width="0.8"/>
<rect x="534.58" y="261.5" width="1.6" height="1.6" fill="#111"/>
<rect x="540.55" y="261.5" width="1.6" height="1.6" fill="#111"/>
<rect x="541.37" y="261.5" width="1.6" height="1.6" fill="#111"/>
<rect x="542.96" y="261.5" width="1.6" height="1.6" fill="#111"/>
<rect x="544.28" y="261.5" width="1.6" height="1.6" fill="#111"/>
<rect x="545.17" y="261.5" width="1.6" height="1.6" fill="#111"/>
<rect x="546.7" y="261.5" width="1.6" height="1.6" fill="#111"/>
<rect x="547.61" y="261.5" width="1.6" height="1.6" fill="#111"/>
<rect x="548.8" y="261.5" width="1.6" height="1.6" fill="#111"/>
<rect x="550.14" y="261.5" width="1.6" height="1.6" fill="#111"/>
<rect x="551.24" y="261.5" width="1.6" height="1.6" fill="#111"/>
<rect x="552.46" y="261.5" width="1.6" height="1.6" fill="#111"/>
<rect x="553.89" y="261.5" width="1.6" height="1.6" fill="#111"/>
<rect x="554.91" y="261.5" width="1.6" height="1.6" fill="#111"/>
<rect x="556.41" y="261.5" width="1.6" height="1.6" fill="#111"/>
<rect x="557.25" y="261.5" width="1.6" height="1.6" fill="#111"/>
<rect x="558.79" y="261.5" width="1.6" height="1.6" fill="#111"/>
<rect x="560.1" y="261.5" width="1.6" height="1.6" fill="#111"/>
<rect x="561.13" y="261.5" width="1.6" height="1.6" fill="#111"/>
<rect x="562.39" y="261.5" width="1.6" height="1.6" fill="#111"/>
<rect x="563.38" y="261.5" width="1.6" height="1.6" fill="#111"/>
<rect x="564.81" y="261.5" width="1.6" height="1.6" fill="#111"/>
<rect x="566.16" y="261.5" width="1.6" height="1.6" fill="#111"/>
<rect x="567.26" y="261.5" width="1.6" height="1.6" fill="#111"/>
<rect x="568.25" y="261.5" width="1.6" height="1.6" fill="#111"/>
<rect x="569.45" y="261.5" width="1.6" height="1.6" fill="#111"/>
<rect x="570.86" y="261.5" width="1.6" height="1.6" fill="#111"/>
<rect x="572.31" y="261.5" width="1.6" height="1.6" fill="#111"/>
<rect x="573.26" y="261.5" width="1.6" height="1.6" fill="#111"/>
<rect x="576.22" y="261.5" width="1.6" height="1.6" fill="#111"/>
<rect x="579.08" y="261.5" width="1.6" height="1.6" fill="#111"/>
<rect x="584.19" y="261.5" width="1.6" height="1.6" fill="#111"/>
<rect x="588.14" y="261.5" width="1.6" height="1.6" fill="#111"/>
<line x1="543.44" y1="265.5" x2="580.83" y2="265.5" stroke="#111" stroke-width="0.85"/>
<line x1="543.44" y1="263.7" x2="543.44" y2="267.8" stroke="#111" stroke-width="0.9"/>
<line x1="580.83" y1="263.7" x2="580.83" y2="267.8" stroke="#111" stroke-width="0.9"/>
<text x="489.6" y="267.4" font-size="6.45" text-anchor="end" font-weight="normal" fill="#1a1a1a">Barren</text>
<line x1="493.6" y1="265.5" x2="496.1" y2="265.5" stroke="#333" stroke-width="0.8"/>
<line x1="679.6" y1="265.5" x2="677.1" y2="265.5" stroke="#333" stroke-width="0.8"/>
<rect x="557.54" y="274.7" width="1.6" height="1.6" fill="#111"/>
<rect x="558.94" y="274.7" width="1.6" height="1.6" fill="#111"/>
<rect x="561.4" y="274.7" width="1.6" height="1.6" fill="#111"/>
<rect x="562.95" y="274.7" width="1.6" height="1.6" fill="#111"/>
<rect x="564.73" y="274.7" width="1.6" height="1.6" fill="#111"/>
<rect x="565.83" y="274.7" width="1.6" height="1.6" fill="#111"/>
<rect x="567.67" y="274.7" width="1.6" height="1.6" fill="#111"/>
<rect x="570.02" y="274.7" width="1.6" height="1.6" fill="#111"/>
<rect x="571.71" y="274.7" width="1.6" height="1.6" fill="#111"/>
<rect x="572.99" y="274.7" width="1.6" height="1.6" fill="#111"/>
<rect x="575.26" y="274.7" width="1.6" height="1.6" fill="#111"/>
<rect x="577.34" y="274.7" width="1.6" height="1.6" fill="#111"/>
<rect x="578.6" y="274.7" width="1.6" height="1.6" fill="#111"/>
<rect x="580.57" y="274.7" width="1.6" height="1.6" fill="#111"/>
<rect x="582.72" y="274.7" width="1.6" height="1.6" fill="#111"/>
<rect x="584.63" y="274.7" width="1.6" height="1.6" fill="#111"/>
<rect x="585.61" y="274.7" width="1.6" height="1.6" fill="#111"/>
<rect x="587.7" y="274.7" width="1.6" height="1.6" fill="#111"/>
<rect x="589.33" y="274.7" width="1.6" height="1.6" fill="#111"/>
<rect x="591.8" y="274.7" width="1.6" height="1.6" fill="#111"/>
<rect x="593.07" y="274.7" width="1.6" height="1.6" fill="#111"/>
<rect x="594.96" y="274.7" width="1.6" height="1.6" fill="#111"/>
<rect x="596.97" y="274.7" width="1.6" height="1.6" fill="#111"/>
<rect x="598.13" y="274.7" width="1.6" height="1.6" fill="#111"/>
<rect x="600.65" y="274.7" width="1.6" height="1.6" fill="#111"/>
<rect x="602.2" y="274.7" width="1.6" height="1.6" fill="#111"/>
<rect x="603.5" y="274.7" width="1.6" height="1.6" fill="#111"/>
<rect x="605.39" y="274.7" width="1.6" height="1.6" fill="#111"/>
<rect x="607.97" y="274.7" width="1.6" height="1.6" fill="#111"/>
<rect x="609.16" y="274.7" width="1.6" height="1.6" fill="#111"/>
<line x1="560.3" y1="278.5" x2="604.28" y2="278.5" stroke="#111" stroke-width="0.85"/>
<line x1="560.3" y1="276.7" x2="560.3" y2="280.8" stroke="#111" stroke-width="0.9"/>
<line x1="604.28" y1="276.7" x2="604.28" y2="280.8" stroke="#111" stroke-width="0.9"/>
<text x="489.6" y="280.6" font-size="6.45" text-anchor="end" font-weight="normal" fill="#1a1a1a">Grassland</text>
<line x1="493.6" y1="278.7" x2="496.1" y2="278.7" stroke="#333" stroke-width="0.8"/>
<line x1="679.6" y1="278.7" x2="677.1" y2="278.7" stroke="#333" stroke-width="0.8"/>
<rect x="585.89" y="287.9" width="1.6" height="1.6" fill="#111"/>
<rect x="597.62" y="287.9" width="1.6" height="1.6" fill="#111"/>
<rect x="612.49" y="287.9" width="1.6" height="1.6" fill="#111"/>
<rect x="614.05" y="287.9" width="1.6" height="1.6" fill="#111"/>
<rect x="615.95" y="287.9" width="1.6" height="1.6" fill="#111"/>
<rect x="616.8" y="287.9" width="1.6" height="1.6" fill="#111"/>
<rect x="618.67" y="287.9" width="1.6" height="1.6" fill="#111"/>
<rect x="620.49" y="287.9" width="1.6" height="1.6" fill="#111"/>
<rect x="622.36" y="287.9" width="1.6" height="1.6" fill="#111"/>
<rect x="623.46" y="287.9" width="1.6" height="1.6" fill="#111"/>
<rect x="625.29" y="287.9" width="1.6" height="1.6" fill="#111"/>
<rect x="626.53" y="287.9" width="1.6" height="1.6" fill="#111"/>
<rect x="628.65" y="287.9" width="1.6" height="1.6" fill="#111"/>
<rect x="629.96" y="287.9" width="1.6" height="1.6" fill="#111"/>
<rect x="631.71" y="287.9" width="1.6" height="1.6" fill="#111"/>
<rect x="633.7" y="287.9" width="1.6" height="1.6" fill="#111"/>
<rect x="634.55" y="287.9" width="1.6" height="1.6" fill="#111"/>
<rect x="636.65" y="287.9" width="1.6" height="1.6" fill="#111"/>
<rect x="637.88" y="287.9" width="1.6" height="1.6" fill="#111"/>
<rect x="640" y="287.9" width="1.6" height="1.6" fill="#111"/>
<rect x="641.59" y="287.9" width="1.6" height="1.6" fill="#111"/>
<rect x="642.65" y="287.9" width="1.6" height="1.6" fill="#111"/>
<rect x="644.36" y="287.9" width="1.6" height="1.6" fill="#111"/>
<rect x="646.49" y="287.9" width="1.6" height="1.6" fill="#111"/>
<rect x="647.51" y="287.9" width="1.6" height="1.6" fill="#111"/>
<rect x="649.65" y="287.9" width="1.6" height="1.6" fill="#111"/>
<rect x="651.12" y="287.9" width="1.6" height="1.6" fill="#111"/>
<rect x="652.24" y="287.9" width="1.6" height="1.6" fill="#111"/>
<rect x="654.67" y="287.9" width="1.6" height="1.6" fill="#111"/>
<rect x="655.73" y="287.9" width="1.6" height="1.6" fill="#111"/>
<rect x="657.78" y="287.9" width="1.6" height="1.6" fill="#111"/>
<rect x="659.19" y="287.9" width="1.6" height="1.6" fill="#111"/>
<rect x="660.5" y="287.9" width="1.6" height="1.6" fill="#111"/>
<rect x="662.41" y="287.9" width="1.6" height="1.6" fill="#111"/>
<rect x="664.3" y="287.9" width="1.6" height="1.6" fill="#111"/>
<rect x="665.6" y="287.9" width="1.6" height="1.6" fill="#111"/>
<rect x="667.69" y="287.9" width="1.6" height="1.6" fill="#111"/>
<rect x="673.85" y="287.9" width="1.6" height="1.6" fill="#111"/>
<line x1="613.45" y1="291.5" x2="668.79" y2="291.5" stroke="#111" stroke-width="0.85"/>
<line x1="613.45" y1="289.7" x2="613.45" y2="293.8" stroke="#111" stroke-width="0.9"/>
<line x1="668.79" y1="289.7" x2="668.79" y2="293.8" stroke="#111" stroke-width="0.9"/>
<text x="489.6" y="293.8" font-size="6.45" text-anchor="end" font-weight="normal" fill="#1a1a1a">Shrub</text>
<line x1="493.6" y1="291.9" x2="496.1" y2="291.9" stroke="#333" stroke-width="0.8"/>
<line x1="679.6" y1="291.9" x2="677.1" y2="291.9" stroke="#333" stroke-width="0.8"/>
<rect x="599.82" y="301.1" width="1.6" height="1.6" fill="#111"/>
<rect x="603.48" y="301.1" width="1.6" height="1.6" fill="#111"/>
<rect x="607.73" y="301.1" width="1.6" height="1.6" fill="#111"/>
<rect x="609.14" y="301.1" width="1.6" height="1.6" fill="#111"/>
<rect x="610.28" y="301.1" width="1.6" height="1.6" fill="#111"/>
<rect x="611.57" y="301.1" width="1.6" height="1.6" fill="#111"/>
<rect x="612.4" y="301.1" width="1.6" height="1.6" fill="#111"/>
<rect x="614.03" y="301.1" width="1.6" height="1.6" fill="#111"/>
<rect x="615.05" y="301.1" width="1.6" height="1.6" fill="#111"/>
<rect x="616.52" y="301.1" width="1.6" height="1.6" fill="#111"/>
<rect x="617.48" y="301.1" width="1.6" height="1.6" fill="#111"/>
<rect x="618.25" y="301.1" width="1.6" height="1.6" fill="#111"/>
<rect x="619.68" y="301.1" width="1.6" height="1.6" fill="#111"/>
<rect x="620.67" y="301.1" width="1.6" height="1.6" fill="#111"/>
<rect x="621.96" y="301.1" width="1.6" height="1.6" fill="#111"/>
<rect x="623.5" y="301.1" width="1.6" height="1.6" fill="#111"/>
<rect x="624.27" y="301.1" width="1.6" height="1.6" fill="#111"/>
<rect x="625.83" y="301.1" width="1.6" height="1.6" fill="#111"/>
<rect x="627.11" y="301.1" width="1.6" height="1.6" fill="#111"/>
<rect x="628.01" y="301.1" width="1.6" height="1.6" fill="#111"/>
<rect x="629.11" y="301.1" width="1.6" height="1.6" fill="#111"/>
<rect x="630.5" y="301.1" width="1.6" height="1.6" fill="#111"/>
<rect x="631.92" y="301.1" width="1.6" height="1.6" fill="#111"/>
<rect x="632.98" y="301.1" width="1.6" height="1.6" fill="#111"/>
<rect x="634.25" y="301.1" width="1.6" height="1.6" fill="#111"/>
<rect x="634.97" y="301.1" width="1.6" height="1.6" fill="#111"/>
<rect x="636.21" y="301.1" width="1.6" height="1.6" fill="#111"/>
<rect x="637.72" y="301.1" width="1.6" height="1.6" fill="#111"/>
<rect x="638.75" y="301.1" width="1.6" height="1.6" fill="#111"/>
<rect x="639.92" y="301.1" width="1.6" height="1.6" fill="#111"/>
<rect x="640.84" y="301.1" width="1.6" height="1.6" fill="#111"/>
<rect x="642.16" y="301.1" width="1.6" height="1.6" fill="#111"/>
<rect x="647.46" y="301.1" width="1.6" height="1.6" fill="#111"/>
<rect x="651.13" y="301.1" width="1.6" height="1.6" fill="#111"/>
<line x1="608.68" y1="305.5" x2="649.73" y2="305.5" stroke="#111" stroke-width="0.85"/>
<line x1="608.68" y1="303.7" x2="608.68" y2="307.8" stroke="#111" stroke-width="0.9"/>
<line x1="649.73" y1="303.7" x2="649.73" y2="307.8" stroke="#111" stroke-width="0.9"/>
<text x="489.6" y="307" font-size="6.45" text-anchor="end" font-weight="normal" fill="#1a1a1a">Forest</text>
<line x1="493.6" y1="305.1" x2="496.1" y2="305.1" stroke="#333" stroke-width="0.8"/>
<line x1="679.6" y1="305.1" x2="677.1" y2="305.1" stroke="#333" stroke-width="0.8"/>
<rect x="587.6" y="314.3" width="1.6" height="1.6" fill="#111"/>
<rect x="588.37" y="314.3" width="1.6" height="1.6" fill="#111"/>
<rect x="589.33" y="314.3" width="1.6" height="1.6" fill="#111"/>
<rect x="590.85" y="314.3" width="1.6" height="1.6" fill="#111"/>
<rect x="591.98" y="314.3" width="1.6" height="1.6" fill="#111"/>
<rect x="593.27" y="314.3" width="1.6" height="1.6" fill="#111"/>
<rect x="593.87" y="314.3" width="1.6" height="1.6" fill="#111"/>
<rect x="595.62" y="314.3" width="1.6" height="1.6" fill="#111"/>
<rect x="596.78" y="314.3" width="1.6" height="1.6" fill="#111"/>
<rect x="597.47" y="314.3" width="1.6" height="1.6" fill="#111"/>
<rect x="598.96" y="314.3" width="1.6" height="1.6" fill="#111"/>
<rect x="599.65" y="314.3" width="1.6" height="1.6" fill="#111"/>
<rect x="601.24" y="314.3" width="1.6" height="1.6" fill="#111"/>
<rect x="602.35" y="314.3" width="1.6" height="1.6" fill="#111"/>
<rect x="603.57" y="314.3" width="1.6" height="1.6" fill="#111"/>
<rect x="604.45" y="314.3" width="1.6" height="1.6" fill="#111"/>
<rect x="605.64" y="314.3" width="1.6" height="1.6" fill="#111"/>
<rect x="606.61" y="314.3" width="1.6" height="1.6" fill="#111"/>
<rect x="607.75" y="314.3" width="1.6" height="1.6" fill="#111"/>
<rect x="608.98" y="314.3" width="1.6" height="1.6" fill="#111"/>
<rect x="610.25" y="314.3" width="1.6" height="1.6" fill="#111"/>
<rect x="611.07" y="314.3" width="1.6" height="1.6" fill="#111"/>
<rect x="612.48" y="314.3" width="1.6" height="1.6" fill="#111"/>
<rect x="613.3" y="314.3" width="1.6" height="1.6" fill="#111"/>
<rect x="614.9" y="314.3" width="1.6" height="1.6" fill="#111"/>
<rect x="615.46" y="314.3" width="1.6" height="1.6" fill="#111"/>
<rect x="616.93" y="314.3" width="1.6" height="1.6" fill="#111"/>
<rect x="618.33" y="314.3" width="1.6" height="1.6" fill="#111"/>
<rect x="619.01" y="314.3" width="1.6" height="1.6" fill="#111"/>
<rect x="620.06" y="314.3" width="1.6" height="1.6" fill="#111"/>
<rect x="630.14" y="314.3" width="1.6" height="1.6" fill="#111"/>
<rect x="633.38" y="314.3" width="1.6" height="1.6" fill="#111"/>
<rect x="636.85" y="314.3" width="1.6" height="1.6" fill="#111"/>
<rect x="638.83" y="314.3" width="1.6" height="1.6" fill="#111"/>
<rect x="648.2" y="314.3" width="1.6" height="1.6" fill="#111"/>
<line x1="592.56" y1="318.5" x2="634.34" y2="318.5" stroke="#111" stroke-width="0.85"/>
<line x1="592.56" y1="316.7" x2="592.56" y2="320.8" stroke="#111" stroke-width="0.9"/>
<line x1="634.34" y1="316.7" x2="634.34" y2="320.8" stroke="#111" stroke-width="0.9"/>
<text x="489.6" y="320.2" font-size="6.45" text-anchor="end" font-weight="normal" fill="#1a1a1a">Cropland</text>
<line x1="493.6" y1="318.3" x2="496.1" y2="318.3" stroke="#333" stroke-width="0.8"/>
<line x1="679.6" y1="318.3" x2="677.1" y2="318.3" stroke="#333" stroke-width="0.8"/>
<rect x="493.6" y="239.4" width="186" height="91.9" fill="none" stroke="#333" stroke-width="1"/>
<line x1="493.6" y1="331.3" x2="493.6" y2="328.5" stroke="#333" stroke-width="0.8"/>
<line x1="493.6" y1="239.4" x2="493.6" y2="242.2" stroke="#333" stroke-width="0.8"/>
<text x="493.6" y="341.1" font-size="6.3" text-anchor="middle" font-weight="normal" fill="#1a1a1a">0</text>
<line x1="523.36" y1="331.3" x2="523.36" y2="328.5" stroke="#333" stroke-width="0.8"/>
<line x1="523.36" y1="239.4" x2="523.36" y2="242.2" stroke="#333" stroke-width="0.8"/>
<text x="523.36" y="341.1" font-size="6.3" text-anchor="middle" font-weight="normal" fill="#1a1a1a">4</text>
<line x1="553.12" y1="331.3" x2="553.12" y2="328.5" stroke="#333" stroke-width="0.8"/>
<line x1="553.12" y1="239.4" x2="553.12" y2="242.2" stroke="#333" stroke-width="0.8"/>
<text x="553.12" y="341.1" font-size="6.3" text-anchor="middle" font-weight="normal" fill="#1a1a1a">8</text>
<line x1="582.88" y1="331.3" x2="582.88" y2="328.5" stroke="#333" stroke-width="0.8"/>
<line x1="582.88" y1="239.4" x2="582.88" y2="242.2" stroke="#333" stroke-width="0.8"/>
<text x="582.88" y="341.1" font-size="6.3" text-anchor="middle" font-weight="normal" fill="#1a1a1a">12</text>
<line x1="612.64" y1="331.3" x2="612.64" y2="328.5" stroke="#333" stroke-width="0.8"/>
<line x1="612.64" y1="239.4" x2="612.64" y2="242.2" stroke="#333" stroke-width="0.8"/>
<text x="612.64" y="341.1" font-size="6.3" text-anchor="middle" font-weight="normal" fill="#1a1a1a">16</text>
<line x1="642.4" y1="331.3" x2="642.4" y2="328.5" stroke="#333" stroke-width="0.8"/>
<line x1="642.4" y1="239.4" x2="642.4" y2="242.2" stroke="#333" stroke-width="0.8"/>
<text x="642.4" y="341.1" font-size="6.3" text-anchor="middle" font-weight="normal" fill="#1a1a1a">20</text>
<line x1="672.16" y1="331.3" x2="672.16" y2="328.5" stroke="#333" stroke-width="0.8"/>
<line x1="672.16" y1="239.4" x2="672.16" y2="242.2" stroke="#333" stroke-width="0.8"/>
<text x="672.16" y="341.1" font-size="6.3" text-anchor="middle" font-weight="normal" fill="#1a1a1a">24</text>
<text x="586.6" y="350.6" font-size="7.4" text-anchor="middle" font-weight="normal" fill="#1a1a1a">Projected frequency changes (days)</text>
<text x="582.4" y="235.8" font-size="7.2" text-anchor="middle" font-weight="bold" fill="#111">Historical + SSP5-8.5</text>
<rect x="493.6" y="377.1" width="112.42" height="10.3" fill="#8c8c8c"/>
<rect x="493.6" y="390.3" width="133.8" height="10.3" fill="#8c8c8c"/>
<rect x="493.6" y="403.5" width="89.2" height="10.3" fill="#8c8c8c"/>
<rect x="493.6" y="416.7" width="136.75" height="10.3" fill="#8c8c8c"/>
<rect x="493.6" y="429.9" width="140.44" height="10.3" fill="#8c8c8c"/>
<rect x="493.6" y="443.1" width="143.75" height="10.3" fill="#8c8c8c"/>
<rect x="548.21" y="378.2" width="1.6" height="1.6" fill="#111"/>
<rect x="549.04" y="378.2" width="1.6" height="1.6" fill="#111"/>
<rect x="551.57" y="378.2" width="1.6" height="1.6" fill="#111"/>
<rect x="553.09" y="378.2" width="1.6" height="1.6" fill="#111"/>
<rect x="554.73" y="378.2" width="1.6" height="1.6" fill="#111"/>
<rect x="557.06" y="378.2" width="1.6" height="1.6" fill="#111"/>
<rect x="558.79" y="378.2" width="1.6" height="1.6" fill="#111"/>
<rect x="559.91" y="378.2" width="1.6" height="1.6" fill="#111"/>
<rect x="562.37" y="378.2" width="1.6" height="1.6" fill="#111"/>
<rect x="563.23" y="378.2" width="1.6" height="1.6" fill="#111"/>
<rect x="565.35" y="378.2" width="1.6" height="1.6" fill="#111"/>
<rect x="567.57" y="378.2" width="1.6" height="1.6" fill="#111"/>
<rect x="568.79" y="378.2" width="1.6" height="1.6" fill="#111"/>
<rect x="570.38" y="378.2" width="1.6" height="1.6" fill="#111"/>
<rect x="572.23" y="378.2" width="1.6" height="1.6" fill="#111"/>
<rect x="574.47" y="378.2" width="1.6" height="1.6" fill="#111"/>
<rect x="575.48" y="378.2" width="1.6" height="1.6" fill="#111"/>
<rect x="577.41" y="378.2" width="1.6" height="1.6" fill="#111"/>
<rect x="579.15" y="378.2" width="1.6" height="1.6" fill="#111"/>
<rect x="581.53" y="378.2" width="1.6" height="1.6" fill="#111"/>
<rect x="583.42" y="378.2" width="1.6" height="1.6" fill="#111"/>
<rect x="585.07" y="378.2" width="1.6" height="1.6" fill="#111"/>
<rect x="586.69" y="378.2" width="1.6" height="1.6" fill="#111"/>
<rect x="588.31" y="378.2" width="1.6" height="1.6" fill="#111"/>
<rect x="589.68" y="378.2" width="1.6" height="1.6" fill="#111"/>
<rect x="591.65" y="378.2" width="1.6" height="1.6" fill="#111"/>
<rect x="593.16" y="378.2" width="1.6" height="1.6" fill="#111"/>
<rect x="595.7" y="378.2" width="1.6" height="1.6" fill="#111"/>
<rect x="597.48" y="378.2" width="1.6" height="1.6" fill="#111"/>
<rect x="598.7" y="378.2" width="1.6" height="1.6" fill="#111"/>
<rect x="600.47" y="378.2" width="1.6" height="1.6" fill="#111"/>
<rect x="602.39" y="378.2" width="1.6" height="1.6" fill="#111"/>
<rect x="603.8" y="378.2" width="1.6" height="1.6" fill="#111"/>
<rect x="606.39" y="378.2" width="1.6" height="1.6" fill="#111"/>
<rect x="607.29" y="378.2" width="1.6" height="1.6" fill="#111"/>
<rect x="628.81" y="378.2" width="1.6" height="1.6" fill="#111"/>
<line x1="554.05" y1="382.5" x2="606.02" y2="382.5" stroke="#111" stroke-width="0.85"/>
<line x1="554.05" y1="380.7" x2="554.05" y2="384.8" stroke="#111" stroke-width="0.9"/>
<line x1="606.02" y1="380.7" x2="606.02" y2="384.8" stroke="#111" stroke-width="0.9"/>
<text x="489.6" y="384.1" font-size="6.45" text-anchor="end" font-weight="normal" fill="#1a1a1a">Impervious</text>
<line x1="493.6" y1="382.2" x2="496.1" y2="382.2" stroke="#333" stroke-width="0.8"/>
<line x1="679.6" y1="382.2" x2="677.1" y2="382.2" stroke="#333" stroke-width="0.8"/>
<rect x="555.09" y="391.4" width="1.6" height="1.6" fill="#111"/>
<rect x="560.62" y="391.4" width="1.6" height="1.6" fill="#111"/>
<rect x="567.6" y="391.4" width="1.6" height="1.6" fill="#111"/>
<rect x="569.8" y="391.4" width="1.6" height="1.6" fill="#111"/>
<rect x="571.26" y="391.4" width="1.6" height="1.6" fill="#111"/>
<rect x="572.54" y="391.4" width="1.6" height="1.6" fill="#111"/>
<rect x="575.05" y="391.4" width="1.6" height="1.6" fill="#111"/>
<rect x="576.78" y="391.4" width="1.6" height="1.6" fill="#111"/>
<rect x="578.2" y="391.4" width="1.6" height="1.6" fill="#111"/>
<rect x="580.29" y="391.4" width="1.6" height="1.6" fill="#111"/>
<rect x="581.17" y="391.4" width="1.6" height="1.6" fill="#111"/>
<rect x="583.74" y="391.4" width="1.6" height="1.6" fill="#111"/>
<rect x="585.63" y="391.4" width="1.6" height="1.6" fill="#111"/>
<rect x="587.07" y="391.4" width="1.6" height="1.6" fill="#111"/>
<rect x="588.48" y="391.4" width="1.6" height="1.6" fill="#111"/>
<rect x="590.22" y="391.4" width="1.6" height="1.6" fill="#111"/>
<rect x="591.76" y="391.4" width="1.6" height="1.6" fill="#111"/>
<rect x="593.86" y="391.4" width="1.6" height="1.6" fill="#111"/>
<rect x="595.91" y="391.4" width="1.6" height="1.6" fill="#111"/>
<rect x="597.16" y="391.4" width="1.6" height="1.6" fill="#111"/>
<rect x="598.94" y="391.4" width="1.6" height="1.6" fill="#111"/>
<rect x="601.18" y="391.4" width="1.6" height="1.6" fill="#111"/>
<rect x="603" y="391.4" width="1.6" height="1.6" fill="#111"/>
<rect x="604.29" y="391.4" width="1.6" height="1.6" fill="#111"/>
<rect x="606.38" y="391.4" width="1.6" height="1.6" fill="#111"/>
<rect x="608.37" y="391.4" width="1.6" height="1.6" fill="#111"/>
<rect x="610.18" y="391.4" width="1.6" height="1.6" fill="#111"/>
<rect x="611.72" y="391.4" width="1.6" height="1.6" fill="#111"/>
<rect x="613" y="391.4" width="1.6" height="1.6" fill="#111"/>
<rect x="615.21" y="391.4" width="1.6" height="1.6" fill="#111"/>
<rect x="616.84" y="391.4" width="1.6" height="1.6" fill="#111"/>
<rect x="618.41" y="391.4" width="1.6" height="1.6" fill="#111"/>
<rect x="620.67" y="391.4" width="1.6" height="1.6" fill="#111"/>
<rect x="622.32" y="391.4" width="1.6" height="1.6" fill="#111"/>
<rect x="623.44" y="391.4" width="1.6" height="1.6" fill="#111"/>
<rect x="625.16" y="391.4" width="1.6" height="1.6" fill="#111"/>
<rect x="627.38" y="391.4" width="1.6" height="1.6" fill="#111"/>
<rect x="632.87" y="391.4" width="1.6" height="1.6" fill="#111"/>
<rect x="635.82" y="391.4" width="1.6" height="1.6" fill="#111"/>
<line x1="569.16" y1="395.5" x2="628.14" y2="395.5" stroke="#111" stroke-width="0.85"/>
<line x1="569.16" y1="393.7" x2="569.16" y2="397.8" stroke="#111" stroke-width="0.9"/>
<line x1="628.14" y1="393.7" x2="628.14" y2="397.8" stroke="#111" stroke-width="0.9"/>
<text x="489.6" y="397.3" font-size="6.45" text-anchor="end" font-weight="normal" fill="#1a1a1a">Barren</text>
<line x1="493.6" y1="395.4" x2="496.1" y2="395.4" stroke="#333" stroke-width="0.8"/>
<line x1="679.6" y1="395.4" x2="677.1" y2="395.4" stroke="#333" stroke-width="0.8"/>
<rect x="544.41" y="404.6" width="1.6" height="1.6" fill="#111"/>
<rect x="545.35" y="404.6" width="1.6" height="1.6" fill="#111"/>
<rect x="546.83" y="404.6" width="1.6" height="1.6" fill="#111"/>
<rect x="548.3" y="404.6" width="1.6" height="1.6" fill="#111"/>
<rect x="549.83" y="404.6" width="1.6" height="1.6" fill="#111"/>
<rect x="551.61" y="404.6" width="1.6" height="1.6" fill="#111"/>
<rect x="552.79" y="404.6" width="1.6" height="1.6" fill="#111"/>
<rect x="554.01" y="404.6" width="1.6" height="1.6" fill="#111"/>
<rect x="555.53" y="404.6" width="1.6" height="1.6" fill="#111"/>
<rect x="556.73" y="404.6" width="1.6" height="1.6" fill="#111"/>
<rect x="558.09" y="404.6" width="1.6" height="1.6" fill="#111"/>
<rect x="559.92" y="404.6" width="1.6" height="1.6" fill="#111"/>
<rect x="560.88" y="404.6" width="1.6" height="1.6" fill="#111"/>
<rect x="562.48" y="404.6" width="1.6" height="1.6" fill="#111"/>
<rect x="564.07" y="404.6" width="1.6" height="1.6" fill="#111"/>
<rect x="565.76" y="404.6" width="1.6" height="1.6" fill="#111"/>
<rect x="567.29" y="404.6" width="1.6" height="1.6" fill="#111"/>
<rect x="568.63" y="404.6" width="1.6" height="1.6" fill="#111"/>
<rect x="569.83" y="404.6" width="1.6" height="1.6" fill="#111"/>
<rect x="571.38" y="404.6" width="1.6" height="1.6" fill="#111"/>
<rect x="572.88" y="404.6" width="1.6" height="1.6" fill="#111"/>
<rect x="574.57" y="404.6" width="1.6" height="1.6" fill="#111"/>
<rect x="575.54" y="404.6" width="1.6" height="1.6" fill="#111"/>
<rect x="576.77" y="404.6" width="1.6" height="1.6" fill="#111"/>
<rect x="578.12" y="404.6" width="1.6" height="1.6" fill="#111"/>
<rect x="580.33" y="404.6" width="1.6" height="1.6" fill="#111"/>
<rect x="581.68" y="404.6" width="1.6" height="1.6" fill="#111"/>
<rect x="582.79" y="404.6" width="1.6" height="1.6" fill="#111"/>
<rect x="584.18" y="404.6" width="1.6" height="1.6" fill="#111"/>
<rect x="585.89" y="404.6" width="1.6" height="1.6" fill="#111"/>
<line x1="548.15" y1="408.5" x2="582.8" y2="408.5" stroke="#111" stroke-width="0.85"/>
<line x1="548.15" y1="406.7" x2="548.15" y2="410.8" stroke="#111" stroke-width="0.9"/>
<line x1="582.8" y1="406.7" x2="582.8" y2="410.8" stroke="#111" stroke-width="0.9"/>
<text x="489.6" y="410.5" font-size="6.45" text-anchor="end" font-weight="normal" fill="#1a1a1a">Grassland</text>
<line x1="493.6" y1="408.6" x2="496.1" y2="408.6" stroke="#333" stroke-width="0.8"/>
<line x1="679.6" y1="408.6" x2="677.1" y2="408.6" stroke="#333" stroke-width="0.8"/>
<rect x="560.62" y="417.8" width="1.6" height="1.6" fill="#111"/>
<rect x="566.15" y="417.8" width="1.6" height="1.6" fill="#111"/>
<rect x="580.45" y="417.8" width="1.6" height="1.6" fill="#111"/>
<rect x="581.24" y="417.8" width="1.6" height="1.6" fill="#111"/>
<rect x="583.25" y="417.8" width="1.6" height="1.6" fill="#111"/>
<rect x="584.7" y="417.8" width="1.6" height="1.6" fill="#111"/>
<rect x="586.21" y="417.8" width="1.6" height="1.6" fill="#111"/>
<rect x="587.71" y="417.8" width="1.6" height="1.6" fill="#111"/>
<rect x="588.66" y="417.8" width="1.6" height="1.6" fill="#111"/>
<rect x="590.03" y="417.8" width="1.6" height="1.6" fill="#111"/>
<rect x="591.75" y="417.8" width="1.6" height="1.6" fill="#111"/>
<rect x="593.48" y="417.8" width="1.6" height="1.6" fill="#111"/>
<rect x="594.99" y="417.8" width="1.6" height="1.6" fill="#111"/>
<rect x="596.39" y="417.8" width="1.6" height="1.6" fill="#111"/>
<rect x="597.47" y="417.8" width="1.6" height="1.6" fill="#111"/>
<rect x="599.17" y="417.8" width="1.6" height="1.6" fill="#111"/>
<rect x="600.98" y="417.8" width="1.6" height="1.6" fill="#111"/>
<rect x="601.77" y="417.8" width="1.6" height="1.6" fill="#111"/>
<rect x="603.72" y="417.8" width="1.6" height="1.6" fill="#111"/>
<rect x="604.9" y="417.8" width="1.6" height="1.6" fill="#111"/>
<rect x="606.75" y="417.8" width="1.6" height="1.6" fill="#111"/>
<rect x="607.78" y="417.8" width="1.6" height="1.6" fill="#111"/>
<rect x="609.12" y="417.8" width="1.6" height="1.6" fill="#111"/>
<rect x="611.31" y="417.8" width="1.6" height="1.6" fill="#111"/>
<rect x="612.6" y="417.8" width="1.6" height="1.6" fill="#111"/>
<rect x="613.42" y="417.8" width="1.6" height="1.6" fill="#111"/>
<rect x="615.32" y="417.8" width="1.6" height="1.6" fill="#111"/>
<rect x="616.39" y="417.8" width="1.6" height="1.6" fill="#111"/>
<rect x="618.18" y="417.8" width="1.6" height="1.6" fill="#111"/>
<rect x="619.53" y="417.8" width="1.6" height="1.6" fill="#111"/>
<rect x="621.19" y="417.8" width="1.6" height="1.6" fill="#111"/>
<rect x="623.03" y="417.8" width="1.6" height="1.6" fill="#111"/>
<rect x="624.47" y="417.8" width="1.6" height="1.6" fill="#111"/>
<rect x="625.75" y="417.8" width="1.6" height="1.6" fill="#111"/>
<rect x="626.99" y="417.8" width="1.6" height="1.6" fill="#111"/>
<rect x="628.81" y="417.8" width="1.6" height="1.6" fill="#111"/>
<rect x="630.34" y="417.8" width="1.6" height="1.6" fill="#111"/>
<rect x="634.34" y="417.8" width="1.6" height="1.6" fill="#111"/>
<line x1="580.96" y1="421.5" x2="630.35" y2="421.5" stroke="#111" stroke-width="0.85"/>
<line x1="580.96" y1="419.7" x2="580.96" y2="423.8" stroke="#111" stroke-width="0.9"/>
<line x1="630.35" y1="419.7" x2="630.35" y2="423.8" stroke="#111" stroke-width="0.9"/>
<text x="489.6" y="423.7" font-size="6.45" text-anchor="end" font-weight="normal" fill="#1a1a1a">Shrub</text>
<line x1="493.6" y1="421.8" x2="496.1" y2="421.8" stroke="#333" stroke-width="0.8"/>
<line x1="679.6" y1="421.8" x2="677.1" y2="421.8" stroke="#333" stroke-width="0.8"/>
<rect x="584.95" y="431" width="1.6" height="1.6" fill="#111"/>
<rect x="592.55" y="431" width="1.6" height="1.6" fill="#111"/>
<rect x="593.88" y="431" width="1.6" height="1.6" fill="#111"/>
<rect x="595.05" y="431" width="1.6" height="1.6" fill="#111"/>
<rect x="596.22" y="431" width="1.6" height="1.6" fill="#111"/>
<rect x="597.65" y="431" width="1.6" height="1.6" fill="#111"/>
<rect x="599.18" y="431" width="1.6" height="1.6" fill="#111"/>
<rect x="600.75" y="431" width="1.6" height="1.6" fill="#111"/>
<rect x="601.68" y="431" width="1.6" height="1.6" fill="#111"/>
<rect x="602.76" y="431" width="1.6" height="1.6" fill="#111"/>
<rect x="604.54" y="431" width="1.6" height="1.6" fill="#111"/>
<rect x="605.93" y="431" width="1.6" height="1.6" fill="#111"/>
<rect x="607.06" y="431" width="1.6" height="1.6" fill="#111"/>
<rect x="608.22" y="431" width="1.6" height="1.6" fill="#111"/>
<rect x="609.92" y="431" width="1.6" height="1.6" fill="#111"/>
<rect x="610.73" y="431" width="1.6" height="1.6" fill="#111"/>
<rect x="611.96" y="431" width="1.6" height="1.6" fill="#111"/>
<rect x="613.54" y="431" width="1.6" height="1.6" fill="#111"/>
<rect x="614.51" y="431" width="1.6" height="1.6" fill="#111"/>
<rect x="616.36" y="431" width="1.6" height="1.6" fill="#111"/>
<rect x="617.64" y="431" width="1.6" height="1.6" fill="#111"/>
<rect x="618.77" y="431" width="1.6" height="1.6" fill="#111"/>
<rect x="619.9" y="431" width="1.6" height="1.6" fill="#111"/>
<rect x="620.94" y="431" width="1.6" height="1.6" fill="#111"/>
<rect x="622.75" y="431" width="1.6" height="1.6" fill="#111"/>
<rect x="624.01" y="431" width="1.6" height="1.6" fill="#111"/>
<rect x="625.03" y="431" width="1.6" height="1.6" fill="#111"/>
<rect x="626.2" y="431" width="1.6" height="1.6" fill="#111"/>
<rect x="627.91" y="431" width="1.6" height="1.6" fill="#111"/>
<rect x="629.41" y="431" width="1.6" height="1.6" fill="#111"/>
<rect x="630.14" y="431" width="1.6" height="1.6" fill="#111"/>
<rect x="631.69" y="431" width="1.6" height="1.6" fill="#111"/>
<rect x="632.93" y="431" width="1.6" height="1.6" fill="#111"/>
<rect x="634.36" y="431" width="1.6" height="1.6" fill="#111"/>
<rect x="635.35" y="431" width="1.6" height="1.6" fill="#111"/>
<rect x="636.97" y="431" width="1.6" height="1.6" fill="#111"/>
<rect x="643.19" y="431" width="1.6" height="1.6" fill="#111"/>
<line x1="596.07" y1="435.5" x2="634.04" y2="435.5" stroke="#111" stroke-width="0.85"/>
<line x1="596.07" y1="433.7" x2="596.07" y2="437.8" stroke="#111" stroke-width="0.9"/>
<line x1="634.04" y1="433.7" x2="634.04" y2="437.8" stroke="#111" stroke-width="0.9"/>
<text x="489.6" y="436.9" font-size="6.45" text-anchor="end" font-weight="normal" fill="#1a1a1a">Forest</text>
<line x1="493.6" y1="435" x2="496.1" y2="435" stroke="#333" stroke-width="0.8"/>
<line x1="679.6" y1="435" x2="677.1" y2="435" stroke="#333" stroke-width="0.8"/>
<rect x="582" y="444.2" width="1.6" height="1.6" fill="#111"/>
<rect x="588.72" y="444.2" width="1.6" height="1.6" fill="#111"/>
<rect x="589.86" y="444.2" width="1.6" height="1.6" fill="#111"/>
<rect x="591.8" y="444.2" width="1.6" height="1.6" fill="#111"/>
<rect x="592.6" y="444.2" width="1.6" height="1.6" fill="#111"/>
<rect x="594.08" y="444.2" width="1.6" height="1.6" fill="#111"/>
<rect x="595.38" y="444.2" width="1.6" height="1.6" fill="#111"/>
<rect x="597.31" y="444.2" width="1.6" height="1.6" fill="#111"/>
<rect x="598.54" y="444.2" width="1.6" height="1.6" fill="#111"/>
<rect x="599.96" y="444.2" width="1.6" height="1.6" fill="#111"/>
<rect x="601.62" y="444.2" width="1.6" height="1.6" fill="#111"/>
<rect x="602.47" y="444.2" width="1.6" height="1.6" fill="#111"/>
<rect x="604.34" y="444.2" width="1.6" height="1.6" fill="#111"/>
<rect x="605.59" y="444.2" width="1.6" height="1.6" fill="#111"/>
<rect x="606.82" y="444.2" width="1.6" height="1.6" fill="#111"/>
<rect x="608.82" y="444.2" width="1.6" height="1.6" fill="#111"/>
<rect x="610.01" y="444.2" width="1.6" height="1.6" fill="#111"/>
<rect x="611.68" y="444.2" width="1.6" height="1.6" fill="#111"/>
<rect x="612.86" y="444.2" width="1.6" height="1.6" fill="#111"/>
<rect x="614.11" y="444.2" width="1.6" height="1.6" fill="#111"/>
<rect x="615.57" y="444.2" width="1.6" height="1.6" fill="#111"/>
<rect x="617.08" y="444.2" width="1.6" height="1.6" fill="#111"/>
<rect x="618.87" y="444.2" width="1.6" height="1.6" fill="#111"/>
<rect x="619.76" y="444.2" width="1.6" height="1.6" fill="#111"/>
<rect x="620.94" y="444.2" width="1.6" height="1.6" fill="#111"/>
<rect x="622.56" y="444.2" width="1.6" height="1.6" fill="#111"/>
<rect x="623.73" y="444.2" width="1.6" height="1.6" fill="#111"/>
<rect x="625.89" y="444.2" width="1.6" height="1.6" fill="#111"/>
<rect x="627.38" y="444.2" width="1.6" height="1.6" fill="#111"/>
<rect x="628.42" y="444.2" width="1.6" height="1.6" fill="#111"/>
<rect x="629.9" y="444.2" width="1.6" height="1.6" fill="#111"/>
<rect x="630.92" y="444.2" width="1.6" height="1.6" fill="#111"/>
<rect x="632.33" y="444.2" width="1.6" height="1.6" fill="#111"/>
<rect x="634.38" y="444.2" width="1.6" height="1.6" fill="#111"/>
<rect x="635.29" y="444.2" width="1.6" height="1.6" fill="#111"/>
<rect x="636.89" y="444.2" width="1.6" height="1.6" fill="#111"/>
<rect x="643.93" y="444.2" width="1.6" height="1.6" fill="#111"/>
<line x1="591.28" y1="448.5" x2="637.35" y2="448.5" stroke="#111" stroke-width="0.85"/>
<line x1="591.28" y1="446.7" x2="591.28" y2="450.8" stroke="#111" stroke-width="0.9"/>
<line x1="637.35" y1="446.7" x2="637.35" y2="450.8" stroke="#111" stroke-width="0.9"/>
<text x="489.6" y="450.1" font-size="6.45" text-anchor="end" font-weight="normal" fill="#1a1a1a">Cropland</text>
<line x1="493.6" y1="448.2" x2="496.1" y2="448.2" stroke="#333" stroke-width="0.8"/>
<line x1="679.6" y1="448.2" x2="677.1" y2="448.2" stroke="#333" stroke-width="0.8"/>
<rect x="493.6" y="369.2" width="186" height="91.9" fill="none" stroke="#333" stroke-width="1"/>
<line x1="493.6" y1="461.1" x2="493.6" y2="458.3" stroke="#333" stroke-width="0.8"/>
<line x1="493.6" y1="369.2" x2="493.6" y2="372" stroke="#333" stroke-width="0.8"/>
<text x="493.6" y="470.9" font-size="6.3" text-anchor="middle" font-weight="normal" fill="#1a1a1a">0</text>
<line x1="530.8" y1="461.1" x2="530.8" y2="458.3" stroke="#333" stroke-width="0.8"/>
<line x1="530.8" y1="369.2" x2="530.8" y2="372" stroke="#333" stroke-width="0.8"/>
<text x="530.8" y="470.9" font-size="6.3" text-anchor="middle" font-weight="normal" fill="#1a1a1a">100</text>
<line x1="568" y1="461.1" x2="568" y2="458.3" stroke="#333" stroke-width="0.8"/>
<line x1="568" y1="369.2" x2="568" y2="372" stroke="#333" stroke-width="0.8"/>
<text x="568" y="470.9" font-size="6.3" text-anchor="middle" font-weight="normal" fill="#1a1a1a">200</text>
<line x1="605.2" y1="461.1" x2="605.2" y2="458.3" stroke="#333" stroke-width="0.8"/>
<line x1="605.2" y1="369.2" x2="605.2" y2="372" stroke="#333" stroke-width="0.8"/>
<text x="605.2" y="470.9" font-size="6.3" text-anchor="middle" font-weight="normal" fill="#1a1a1a">300</text>
<line x1="642.4" y1="461.1" x2="642.4" y2="458.3" stroke="#333" stroke-width="0.8"/>
<line x1="642.4" y1="369.2" x2="642.4" y2="372" stroke="#333" stroke-width="0.8"/>
<text x="642.4" y="470.9" font-size="6.3" text-anchor="middle" font-weight="normal" fill="#1a1a1a">400</text>
<line x1="679.6" y1="461.1" x2="679.6" y2="458.3" stroke="#333" stroke-width="0.8"/>
<line x1="679.6" y1="369.2" x2="679.6" y2="372" stroke="#333" stroke-width="0.8"/>
<text x="679.6" y="470.9" font-size="6.3" text-anchor="middle" font-weight="normal" fill="#1a1a1a">500</text>
<text x="586.6" y="480.4" font-size="7.4" text-anchor="middle" font-weight="normal" fill="#1a1a1a">Projected percentage changes in frequency (%)</text>
<line x1="106.5" y1="541.3" x2="116.7" y2="541.3" stroke="#6b87dd" stroke-width="0.9" opacity="0.55"/>
<rect x="108.9" y="540.0" width="5.5" height="1.1" fill="#151515"/>
<rect x="108.9" y="541.1" width="5.5" height="1.0" fill="#777"/>
<ellipse cx="108.9" cy="541.1" rx="1.45" ry="2.4" fill="#111"/>
<line x1="119.5" y1="541.3" x2="129.7" y2="541.3" stroke="#dd8c40" stroke-width="0.9" opacity="0.55"/>
<rect x="121.9" y="540.0" width="5.5" height="1.1" fill="#151515"/>
<rect x="121.9" y="541.1" width="5.5" height="1.0" fill="#777"/>
<ellipse cx="121.9" cy="541.1" rx="1.45" ry="2.4" fill="#111"/>
<line x1="132.5" y1="541.3" x2="142.7" y2="541.3" stroke="#b266d9" stroke-width="0.9" opacity="0.55"/>
<rect x="134.9" y="540.0" width="5.5" height="1.1" fill="#151515"/>
<rect x="134.9" y="541.1" width="5.5" height="1.0" fill="#777"/>
<ellipse cx="134.9" cy="541.1" rx="1.45" ry="2.4" fill="#111"/>
<line x1="163.58" y1="539.37" x2="163.58" y2="550.33" stroke="#777" stroke-width="0.8"/>
<rect x="158.18" y="541.8" width="10.6" height="4.1" fill="#6b87dd"/>
<line x1="158.18" y1="543.85" x2="168.78" y2="543.85" stroke="#fff" stroke-width="0.8" opacity="0.6"/>
<line x1="160.58" y1="539.37" x2="166.18" y2="539.37" stroke="#151515" stroke-width="0.85"/>
<line x1="160.58" y1="550.33" x2="166.18" y2="550.33" stroke="#151515" stroke-width="0.85"/>
<line x1="160.58" y1="538" x2="160.58" y2="551.7" stroke="#151515" stroke-width="1.5"/>
<circle cx="160.51" cy="538" r="1.0" fill="#151515"/>
<circle cx="160.64" cy="539.41" r="1.0" fill="#151515"/>
<circle cx="160.59" cy="540.71" r="1.0" fill="#151515"/>
<circle cx="160.4" cy="542.42" r="1.0" fill="#151515"/>
<circle cx="160.39" cy="544.33" r="1.0" fill="#151515"/>
<circle cx="160.41" cy="546.14" r="1.0" fill="#151515"/>
<circle cx="160.55" cy="547.47" r="1.0" fill="#151515"/>
<circle cx="160.43" cy="549.83" r="1.0" fill="#151515"/>
<circle cx="160.63" cy="551.34" r="1.0" fill="#151515"/>
<circle cx="160.58" cy="551.7" r="1.05" fill="#151515"/>
<line x1="176.58" y1="539.12" x2="176.58" y2="548.08" stroke="#777" stroke-width="0.8"/>
<rect x="171.18" y="542" width="10.6" height="3.7" fill="#dd8c40"/>
<line x1="171.18" y1="543.85" x2="181.78" y2="543.85" stroke="#fff" stroke-width="0.8" opacity="0.6"/>
<line x1="173.58" y1="539.12" x2="179.18" y2="539.12" stroke="#151515" stroke-width="0.85"/>
<line x1="173.58" y1="548.08" x2="179.18" y2="548.08" stroke="#151515" stroke-width="0.85"/>
<line x1="173.58" y1="538" x2="173.58" y2="549.2" stroke="#151515" stroke-width="1.5"/>
<circle cx="173.61" cy="538" r="1.0" fill="#151515"/>
<circle cx="173.77" cy="539.76" r="1.0" fill="#151515"/>
<circle cx="173.72" cy="541.02" r="1.0" fill="#151515"/>
<circle cx="173.44" cy="542.63" r="1.0" fill="#151515"/>
<circle cx="173.5" cy="543.99" r="1.0" fill="#151515"/>
<circle cx="173.45" cy="546.33" r="1.0" fill="#151515"/>
<circle cx="173.64" cy="548.35" r="1.0" fill="#151515"/>
<circle cx="173.58" cy="549.2" r="1.05" fill="#151515"/>
<circle cx="173.58" cy="552.7" r="1.05" fill="#151515"/>
<line x1="189.58" y1="540.13" x2="189.58" y2="549.17" stroke="#777" stroke-width="0.8"/>
<rect x="184.18" y="542" width="10.6" height="4" fill="#b266d9"/>
<line x1="184.18" y1="544" x2="194.78" y2="544" stroke="#fff" stroke-width="0.8" opacity="0.6"/>
<line x1="186.58" y1="540.13" x2="192.18" y2="540.13" stroke="#151515" stroke-width="0.85"/>
<line x1="186.58" y1="549.17" x2="192.18" y2="549.17" stroke="#151515" stroke-width="0.85"/>
<line x1="186.58" y1="539" x2="186.58" y2="550.3" stroke="#151515" stroke-width="1.5"/>
<circle cx="186.6" cy="539" r="1.0" fill="#151515"/>
<circle cx="186.4" cy="540.29" r="1.0" fill="#151515"/>
<circle cx="186.65" cy="541.78" r="1.0" fill="#151515"/>
<circle cx="186.51" cy="543.57" r="1.0" fill="#151515"/>
<circle cx="186.56" cy="545.59" r="1.0" fill="#151515"/>
<circle cx="186.7" cy="547.21" r="1.0" fill="#151515"/>
<circle cx="186.48" cy="549.39" r="1.0" fill="#151515"/>
<circle cx="186.58" cy="550.3" r="1.05" fill="#151515"/>
<circle cx="186.58" cy="553" r="1.05" fill="#151515"/>
<line x1="215.26" y1="539.88" x2="215.26" y2="554.92" stroke="#777" stroke-width="0.8"/>
<rect x="209.86" y="545.9" width="10.6" height="4.2" fill="#6b87dd"/>
<line x1="209.86" y1="548" x2="220.46" y2="548" stroke="#fff" stroke-width="0.8" opacity="0.6"/>
<line x1="212.26" y1="539.88" x2="217.86" y2="539.88" stroke="#151515" stroke-width="0.85"/>
<line x1="212.26" y1="554.92" x2="217.86" y2="554.92" stroke="#151515" stroke-width="0.85"/>
<line x1="212.26" y1="538" x2="212.26" y2="556.8" stroke="#151515" stroke-width="1.5"/>
<circle cx="212.27" cy="538" r="1.0" fill="#151515"/>
<circle cx="212.35" cy="540.43" r="1.0" fill="#151515"/>
<circle cx="212.45" cy="542.03" r="1.0" fill="#151515"/>
<circle cx="212.23" cy="543.39" r="1.0" fill="#151515"/>
<circle cx="212.12" cy="545.65" r="1.0" fill="#151515"/>
<circle cx="212.08" cy="547.54" r="1.0" fill="#151515"/>
<circle cx="212.37" cy="549.67" r="1.0" fill="#151515"/>
<circle cx="212.41" cy="551.68" r="1.0" fill="#151515"/>
<circle cx="212.34" cy="553.32" r="1.0" fill="#151515"/>
<circle cx="212.29" cy="555.35" r="1.0" fill="#151515"/>
<circle cx="212.26" cy="556.8" r="1.05" fill="#151515"/>
<line x1="228.26" y1="539.7" x2="228.26" y2="553.3" stroke="#777" stroke-width="0.8"/>
<rect x="222.86" y="544.7" width="10.6" height="5.1" fill="#dd8c40"/>
<line x1="222.86" y1="547.25" x2="233.46" y2="547.25" stroke="#fff" stroke-width="0.8" opacity="0.6"/>
<line x1="225.26" y1="539.7" x2="230.86" y2="539.7" stroke="#151515" stroke-width="0.85"/>
<line x1="225.26" y1="553.3" x2="230.86" y2="553.3" stroke="#151515" stroke-width="0.85"/>
<line x1="225.26" y1="538" x2="225.26" y2="555" stroke="#151515" stroke-width="1.5"/>
<circle cx="225.4" cy="538" r="1.0" fill="#151515"/>
<circle cx="225.25" cy="540.52" r="1.0" fill="#151515"/>
<circle cx="225.08" cy="542.65" r="1.0" fill="#151515"/>
<circle cx="225.32" cy="544.83" r="1.0" fill="#151515"/>
<circle cx="225.39" cy="547.42" r="1.0" fill="#151515"/>
<circle cx="225.21" cy="549.02" r="1.0" fill="#151515"/>
<circle cx="225.07" cy="551.16" r="1.0" fill="#151515"/>
<circle cx="225.13" cy="553.01" r="1.0" fill="#151515"/>
<circle cx="225.08" cy="554.37" r="1.0" fill="#151515"/>
<circle cx="225.26" cy="555" r="1.05" fill="#151515"/>
<circle cx="225.26" cy="558.9" r="1.05" fill="#151515"/>
<line x1="241.26" y1="540.7" x2="241.26" y2="554.3" stroke="#777" stroke-width="0.8"/>
<rect x="235.86" y="546.2" width="10.6" height="6.1" fill="#b266d9"/>
<line x1="235.86" y1="549.25" x2="246.46" y2="549.25" stroke="#fff" stroke-width="0.8" opacity="0.6"/>
<line x1="238.26" y1="540.7" x2="243.86" y2="540.7" stroke="#151515" stroke-width="0.85"/>
<line x1="238.26" y1="554.3" x2="243.86" y2="554.3" stroke="#151515" stroke-width="0.85"/>
<line x1="238.26" y1="539" x2="238.26" y2="556" stroke="#151515" stroke-width="1.5"/>
<circle cx="238.11" cy="539" r="1.0" fill="#151515"/>
<circle cx="238.22" cy="540.55" r="1.0" fill="#151515"/>
<circle cx="238.09" cy="542.97" r="1.0" fill="#151515"/>
<circle cx="238.28" cy="544.8" r="1.0" fill="#151515"/>
<circle cx="238.39" cy="547.23" r="1.0" fill="#151515"/>
<circle cx="238.17" cy="549.64" r="1.0" fill="#151515"/>
<circle cx="238.2" cy="551.42" r="1.0" fill="#151515"/>
<circle cx="238.44" cy="553.86" r="1.0" fill="#151515"/>
<circle cx="238.13" cy="555.27" r="1.0" fill="#151515"/>
<circle cx="238.26" cy="556" r="1.05" fill="#151515"/>
<circle cx="238.26" cy="559.7" r="1.05" fill="#151515"/>
<line x1="266.94" y1="544.06" x2="266.94" y2="558.94" stroke="#777" stroke-width="0.8"/>
<rect x="261.54" y="549.1" width="10.6" height="7.6" fill="#6b87dd"/>
<line x1="261.54" y1="552.9" x2="272.14" y2="552.9" stroke="#fff" stroke-width="0.8" opacity="0.6"/>
<line x1="263.94" y1="544.06" x2="269.54" y2="544.06" stroke="#151515" stroke-width="0.85"/>
<line x1="263.94" y1="558.94" x2="269.54" y2="558.94" stroke="#151515" stroke-width="0.85"/>
<line x1="263.94" y1="542.2" x2="263.94" y2="560.8" stroke="#151515" stroke-width="1.5"/>
<circle cx="263.83" cy="542.2" r="1.0" fill="#151515"/>
<circle cx="263.98" cy="544.08" r="1.0" fill="#151515"/>
<circle cx="263.74" cy="545.65" r="1.0" fill="#151515"/>
<circle cx="263.89" cy="547.43" r="1.0" fill="#151515"/>
<circle cx="264.12" cy="549.43" r="1.0" fill="#151515"/>
<circle cx="263.95" cy="551.59" r="1.0" fill="#151515"/>
<circle cx="264.01" cy="553.66" r="1.0" fill="#151515"/>
<circle cx="264.1" cy="554.93" r="1.0" fill="#151515"/>
<circle cx="264.09" cy="557.23" r="1.0" fill="#151515"/>
<circle cx="263.9" cy="559.54" r="1.0" fill="#151515"/>
<circle cx="263.94" cy="560.8" r="1.05" fill="#151515"/>
<circle cx="263.94" cy="564.1" r="1.05" fill="#151515"/>
<circle cx="263.94" cy="567.6" r="1.05" fill="#151515"/>
<line x1="279.94" y1="541.72" x2="279.94" y2="558.68" stroke="#777" stroke-width="0.8"/>
<rect x="274.54" y="548.8" width="10.6" height="7.6" fill="#dd8c40"/>
<line x1="274.54" y1="552.6" x2="285.14" y2="552.6" stroke="#fff" stroke-width="0.8" opacity="0.6"/>
<line x1="276.94" y1="541.72" x2="282.54" y2="541.72" stroke="#151515" stroke-width="0.85"/>
<line x1="276.94" y1="558.68" x2="282.54" y2="558.68" stroke="#151515" stroke-width="0.85"/>
<line x1="276.94" y1="539.6" x2="276.94" y2="560.8" stroke="#151515" stroke-width="1.5"/>
<circle cx="276.78" cy="539.6" r="1.0" fill="#151515"/>
<circle cx="276.76" cy="541.69" r="1.0" fill="#151515"/>
<circle cx="276.82" cy="542.98" r="1.0" fill="#151515"/>
<circle cx="276.88" cy="544.41" r="1.0" fill="#151515"/>
<circle cx="276.74" cy="545.68" r="1.0" fill="#151515"/>
<circle cx="276.78" cy="547.09" r="1.0" fill="#151515"/>
<circle cx="276.75" cy="548.8" r="1.0" fill="#151515"/>
<circle cx="276.99" cy="551.23" r="1.0" fill="#151515"/>
<circle cx="276.84" cy="552.64" r="1.0" fill="#151515"/>
<circle cx="276.89" cy="554.32" r="1.0" fill="#151515"/>
<circle cx="277.08" cy="555.69" r="1.0" fill="#151515"/>
<circle cx="276.93" cy="558.28" r="1.0" fill="#151515"/>
<circle cx="276.77" cy="560.16" r="1.0" fill="#151515"/>
<circle cx="276.94" cy="560.8" r="1.05" fill="#151515"/>
<circle cx="276.94" cy="563.7" r="1.05" fill="#151515"/>
<circle cx="276.94" cy="571.3" r="1.05" fill="#151515"/>
<line x1="292.94" y1="546.82" x2="292.94" y2="563.78" stroke="#777" stroke-width="0.8"/>
<rect x="287.54" y="550.1" width="10.6" height="8.8" fill="#b266d9"/>
<line x1="287.54" y1="554.5" x2="298.14" y2="554.5" stroke="#fff" stroke-width="0.8" opacity="0.6"/>
<line x1="289.94" y1="546.82" x2="295.54" y2="546.82" stroke="#151515" stroke-width="0.85"/>
<line x1="289.94" y1="563.78" x2="295.54" y2="563.78" stroke="#151515" stroke-width="0.85"/>
<line x1="289.94" y1="544.7" x2="289.94" y2="565.9" stroke="#151515" stroke-width="1.5"/>
<circle cx="289.88" cy="544.7" r="1.0" fill="#151515"/>
<circle cx="290.07" cy="546.27" r="1.0" fill="#151515"/>
<circle cx="289.75" cy="547.7" r="1.0" fill="#151515"/>
<circle cx="289.95" cy="550.23" r="1.0" fill="#151515"/>
<circle cx="289.96" cy="551.63" r="1.0" fill="#151515"/>
<circle cx="289.95" cy="552.87" r="1.0" fill="#151515"/>
<circle cx="290.09" cy="555.44" r="1.0" fill="#151515"/>
<circle cx="289.84" cy="557.62" r="1.0" fill="#151515"/>
<circle cx="289.81" cy="559.33" r="1.0" fill="#151515"/>
<circle cx="289.95" cy="561.61" r="1.0" fill="#151515"/>
<circle cx="289.87" cy="563.9" r="1.0" fill="#151515"/>
<circle cx="290.06" cy="565.41" r="1.0" fill="#151515"/>
<circle cx="289.94" cy="565.9" r="1.05" fill="#151515"/>
<circle cx="289.94" cy="539.6" r="1.05" fill="#151515"/>
<line x1="318.62" y1="547.41" x2="318.62" y2="566.69" stroke="#777" stroke-width="0.8"/>
<rect x="313.22" y="553.6" width="10.6" height="8.2" fill="#6b87dd"/>
<line x1="313.22" y1="557.7" x2="323.82" y2="557.7" stroke="#fff" stroke-width="0.8" opacity="0.6"/>
<line x1="315.62" y1="547.41" x2="321.22" y2="547.41" stroke="#151515" stroke-width="0.85"/>
<line x1="315.62" y1="566.69" x2="321.22" y2="566.69" stroke="#151515" stroke-width="0.85"/>
<line x1="315.62" y1="545" x2="315.62" y2="569.1" stroke="#151515" stroke-width="1.5"/>
<circle cx="315.76" cy="545" r="1.0" fill="#151515"/>
<circle cx="315.75" cy="547.33" r="1.0" fill="#151515"/>
<circle cx="315.51" cy="549.56" r="1.0" fill="#151515"/>
<circle cx="315.56" cy="551.49" r="1.0" fill="#151515"/>
<circle cx="315.43" cy="552.73" r="1.0" fill="#151515"/>
<circle cx="315.52" cy="554.32" r="1.0" fill="#151515"/>
<circle cx="315.8" cy="556.49" r="1.0" fill="#151515"/>
<circle cx="315.79" cy="558.32" r="1.0" fill="#151515"/>
<circle cx="315.8" cy="560.9" r="1.0" fill="#151515"/>
<circle cx="315.51" cy="562.61" r="1.0" fill="#151515"/>
<circle cx="315.5" cy="564.13" r="1.0" fill="#151515"/>
<circle cx="315.67" cy="565.61" r="1.0" fill="#151515"/>
<circle cx="315.76" cy="568.07" r="1.0" fill="#151515"/>
<circle cx="315.62" cy="569.1" r="1.05" fill="#151515"/>
<line x1="331.62" y1="545.1" x2="331.62" y2="566.7" stroke="#777" stroke-width="0.8"/>
<rect x="326.22" y="551.9" width="10.6" height="9.5" fill="#dd8c40"/>
<line x1="326.22" y1="556.65" x2="336.82" y2="556.65" stroke="#fff" stroke-width="0.8" opacity="0.6"/>
<line x1="328.62" y1="545.1" x2="334.22" y2="545.1" stroke="#151515" stroke-width="0.85"/>
<line x1="328.62" y1="566.7" x2="334.22" y2="566.7" stroke="#151515" stroke-width="0.85"/>
<line x1="328.62" y1="542.4" x2="328.62" y2="569.4" stroke="#151515" stroke-width="1.5"/>
<circle cx="328.68" cy="542.4" r="1.0" fill="#151515"/>
<circle cx="328.45" cy="544.72" r="1.0" fill="#151515"/>
<circle cx="328.78" cy="546.84" r="1.0" fill="#151515"/>
<circle cx="328.72" cy="549.14" r="1.0" fill="#151515"/>
<circle cx="328.49" cy="551.01" r="1.0" fill="#151515"/>
<circle cx="328.55" cy="553.31" r="1.0" fill="#151515"/>
<circle cx="328.81" cy="555.63" r="1.0" fill="#151515"/>
<circle cx="328.58" cy="557.39" r="1.0" fill="#151515"/>
<circle cx="328.71" cy="559.91" r="1.0" fill="#151515"/>
<circle cx="328.47" cy="561.35" r="1.0" fill="#151515"/>
<circle cx="328.78" cy="562.76" r="1.0" fill="#151515"/>
<circle cx="328.48" cy="565.09" r="1.0" fill="#151515"/>
<circle cx="328.81" cy="567.45" r="1.0" fill="#151515"/>
<circle cx="328.62" cy="569.4" r="1.05" fill="#151515"/>
<line x1="344.62" y1="550.98" x2="344.62" y2="573.22" stroke="#777" stroke-width="0.8"/>
<rect x="339.22" y="557" width="10.6" height="8.8" fill="#b266d9"/>
<line x1="339.22" y1="561.4" x2="349.82" y2="561.4" stroke="#fff" stroke-width="0.8" opacity="0.6"/>
<line x1="341.62" y1="550.98" x2="347.22" y2="550.98" stroke="#151515" stroke-width="0.85"/>
<line x1="341.62" y1="573.22" x2="347.22" y2="573.22" stroke="#151515" stroke-width="0.85"/>
<line x1="341.62" y1="548.2" x2="341.62" y2="576" stroke="#151515" stroke-width="1.5"/>
<circle cx="341.56" cy="548.2" r="1.0" fill="#151515"/>
<circle cx="341.47" cy="550.17" r="1.0" fill="#151515"/>
<circle cx="341.81" cy="551.39" r="1.0" fill="#151515"/>
<circle cx="341.63" cy="553.5" r="1.0" fill="#151515"/>
<circle cx="341.59" cy="556" r="1.0" fill="#151515"/>
<circle cx="341.75" cy="558.43" r="1.0" fill="#151515"/>
<circle cx="341.52" cy="559.92" r="1.0" fill="#151515"/>
<circle cx="341.52" cy="561.53" r="1.0" fill="#151515"/>
<circle cx="341.52" cy="563.55" r="1.0" fill="#151515"/>
<circle cx="341.47" cy="565.34" r="1.0" fill="#151515"/>
<circle cx="341.56" cy="567.81" r="1.0" fill="#151515"/>
<circle cx="341.65" cy="569.65" r="1.0" fill="#151515"/>
<circle cx="341.59" cy="572.12" r="1.0" fill="#151515"/>
<circle cx="341.62" cy="574.6" r="1.0" fill="#151515"/>
<circle cx="341.62" cy="576" r="1.05" fill="#151515"/>
<circle cx="341.62" cy="544.6" r="1.05" fill="#151515"/>
<line x1="370.3" y1="551.76" x2="370.3" y2="576.24" stroke="#777" stroke-width="0.8"/>
<rect x="364.9" y="557" width="10.6" height="9.8" fill="#6b87dd"/>
<line x1="364.9" y1="561.9" x2="375.5" y2="561.9" stroke="#fff" stroke-width="0.8" opacity="0.6"/>
<line x1="367.3" y1="551.76" x2="372.9" y2="551.76" stroke="#151515" stroke-width="0.85"/>
<line x1="367.3" y1="576.24" x2="372.9" y2="576.24" stroke="#151515" stroke-width="0.85"/>
<line x1="367.3" y1="548.7" x2="367.3" y2="579.3" stroke="#151515" stroke-width="1.5"/>
<circle cx="367.31" cy="548.7" r="1.0" fill="#151515"/>
<circle cx="367.28" cy="549.93" r="1.0" fill="#151515"/>
<circle cx="367.1" cy="551.38" r="1.0" fill="#151515"/>
<circle cx="367.17" cy="553.7" r="1.0" fill="#151515"/>
<circle cx="367.39" cy="555.56" r="1.0" fill="#151515"/>
<circle cx="367.23" cy="557.54" r="1.0" fill="#151515"/>
<circle cx="367.32" cy="559.47" r="1.0" fill="#151515"/>
<circle cx="367.14" cy="561.77" r="1.0" fill="#151515"/>
<circle cx="367.2" cy="563.75" r="1.0" fill="#151515"/>
<circle cx="367.41" cy="565.34" r="1.0" fill="#151515"/>
<circle cx="367.32" cy="567.25" r="1.0" fill="#151515"/>
<circle cx="367.46" cy="569.51" r="1.0" fill="#151515"/>
<circle cx="367.35" cy="571.33" r="1.0" fill="#151515"/>
<circle cx="367.3" cy="573.24" r="1.0" fill="#151515"/>
<circle cx="367.28" cy="575.41" r="1.0" fill="#151515"/>
<circle cx="367.29" cy="577.36" r="1.0" fill="#151515"/>
<circle cx="367.3" cy="579.3" r="1.05" fill="#151515"/>
<line x1="383.3" y1="551.12" x2="383.3" y2="574.48" stroke="#777" stroke-width="0.8"/>
<rect x="377.9" y="557.4" width="10.6" height="9.4" fill="#dd8c40"/>
<line x1="377.9" y1="562.1" x2="388.5" y2="562.1" stroke="#fff" stroke-width="0.8" opacity="0.6"/>
<line x1="380.3" y1="551.12" x2="385.9" y2="551.12" stroke="#151515" stroke-width="0.85"/>
<line x1="380.3" y1="574.48" x2="385.9" y2="574.48" stroke="#151515" stroke-width="0.85"/>
<line x1="380.3" y1="548.2" x2="380.3" y2="577.4" stroke="#151515" stroke-width="1.5"/>
<circle cx="380.38" cy="548.2" r="1.0" fill="#151515"/>
<circle cx="380.48" cy="550.63" r="1.0" fill="#151515"/>
<circle cx="380.32" cy="552.19" r="1.0" fill="#151515"/>
<circle cx="380.44" cy="554.71" r="1.0" fill="#151515"/>
<circle cx="380.15" cy="556.1" r="1.0" fill="#151515"/>
<circle cx="380.13" cy="557.92" r="1.0" fill="#151515"/>
<circle cx="380.13" cy="559.46" r="1.0" fill="#151515"/>
<circle cx="380.41" cy="561.6" r="1.0" fill="#151515"/>
<circle cx="380.16" cy="564.05" r="1.0" fill="#151515"/>
<circle cx="380.36" cy="566.25" r="1.0" fill="#151515"/>
<circle cx="380.45" cy="567.65" r="1.0" fill="#151515"/>
<circle cx="380.19" cy="570.21" r="1.0" fill="#151515"/>
<circle cx="380.26" cy="572.74" r="1.0" fill="#151515"/>
<circle cx="380.5" cy="574.63" r="1.0" fill="#151515"/>
<circle cx="380.16" cy="576.99" r="1.0" fill="#151515"/>
<circle cx="380.3" cy="577.4" r="1.05" fill="#151515"/>
<line x1="396.3" y1="554.34" x2="396.3" y2="579.46" stroke="#777" stroke-width="0.8"/>
<rect x="390.9" y="565" width="10.6" height="8" fill="#b266d9"/>
<line x1="390.9" y1="569" x2="401.5" y2="569" stroke="#fff" stroke-width="0.8" opacity="0.6"/>
<line x1="393.3" y1="554.34" x2="398.9" y2="554.34" stroke="#151515" stroke-width="0.85"/>
<line x1="393.3" y1="579.46" x2="398.9" y2="579.46" stroke="#151515" stroke-width="0.85"/>
<line x1="393.3" y1="551.2" x2="393.3" y2="582.6" stroke="#151515" stroke-width="1.5"/>
<circle cx="393.31" cy="551.2" r="1.0" fill="#151515"/>
<circle cx="393.18" cy="552.87" r="1.0" fill="#151515"/>
<circle cx="393.39" cy="554.52" r="1.0" fill="#151515"/>
<circle cx="393.32" cy="555.75" r="1.0" fill="#151515"/>
<circle cx="393.11" cy="557.56" r="1.0" fill="#151515"/>
<circle cx="393.35" cy="559.23" r="1.0" fill="#151515"/>
<circle cx="393.13" cy="561.15" r="1.0" fill="#151515"/>
<circle cx="393.42" cy="563.72" r="1.0" fill="#151515"/>
<circle cx="393.14" cy="566.29" r="1.0" fill="#151515"/>
<circle cx="393.12" cy="567.86" r="1.0" fill="#151515"/>
<circle cx="393.21" cy="570.15" r="1.0" fill="#151515"/>
<circle cx="393.27" cy="571.53" r="1.0" fill="#151515"/>
<circle cx="393.43" cy="574.01" r="1.0" fill="#151515"/>
<circle cx="393.16" cy="575.57" r="1.0" fill="#151515"/>
<circle cx="393.33" cy="578.05" r="1.0" fill="#151515"/>
<circle cx="393.14" cy="580.23" r="1.0" fill="#151515"/>
<circle cx="393.38" cy="581.52" r="1.0" fill="#151515"/>
<circle cx="393.3" cy="582.6" r="1.05" fill="#151515"/>
<line x1="421.98" y1="552.24" x2="421.98" y2="578.16" stroke="#777" stroke-width="0.8"/>
<rect x="416.58" y="558.5" width="10.6" height="7.3" fill="#6b87dd"/>
<line x1="416.58" y1="562.15" x2="427.18" y2="562.15" stroke="#fff" stroke-width="0.8" opacity="0.6"/>
<line x1="418.98" y1="552.24" x2="424.58" y2="552.24" stroke="#151515" stroke-width="0.85"/>
<line x1="418.98" y1="578.16" x2="424.58" y2="578.16" stroke="#151515" stroke-width="0.85"/>
<line x1="418.98" y1="549" x2="418.98" y2="581.4" stroke="#151515" stroke-width="1.5"/>
<circle cx="418.81" cy="549" r="1.0" fill="#151515"/>
<circle cx="419.03" cy="551.51" r="1.0" fill="#151515"/>
<circle cx="418.81" cy="553.84" r="1.0" fill="#151515"/>
<circle cx="418.81" cy="556.23" r="1.0" fill="#151515"/>
<circle cx="418.96" cy="558.64" r="1.0" fill="#151515"/>
<circle cx="419" cy="560.32" r="1.0" fill="#151515"/>
<circle cx="418.89" cy="562.81" r="1.0" fill="#151515"/>
<circle cx="418.99" cy="564.2" r="1.0" fill="#151515"/>
<circle cx="418.82" cy="565.73" r="1.0" fill="#151515"/>
<circle cx="418.8" cy="567.16" r="1.0" fill="#151515"/>
<circle cx="418.9" cy="568.64" r="1.0" fill="#151515"/>
<circle cx="419.08" cy="570.26" r="1.0" fill="#151515"/>
<circle cx="418.98" cy="571.87" r="1.0" fill="#151515"/>
<circle cx="418.92" cy="573.32" r="1.0" fill="#151515"/>
<circle cx="418.88" cy="574.55" r="1.0" fill="#151515"/>
<circle cx="419.07" cy="575.77" r="1.0" fill="#151515"/>
<circle cx="418.86" cy="577.74" r="1.0" fill="#151515"/>
<circle cx="419.15" cy="579.6" r="1.0" fill="#151515"/>
<circle cx="419.11" cy="580.95" r="1.0" fill="#151515"/>
<circle cx="418.98" cy="581.4" r="1.05" fill="#151515"/>
<line x1="434.98" y1="553.54" x2="434.98" y2="578.66" stroke="#777" stroke-width="0.8"/>
<rect x="429.58" y="561.4" width="10.6" height="9.5" fill="#dd8c40"/>
<line x1="429.58" y1="566.15" x2="440.18" y2="566.15" stroke="#fff" stroke-width="0.8" opacity="0.6"/>
<line x1="431.98" y1="553.54" x2="437.58" y2="553.54" stroke="#151515" stroke-width="0.85"/>
<line x1="431.98" y1="578.66" x2="437.58" y2="578.66" stroke="#151515" stroke-width="0.85"/>
<line x1="431.98" y1="550.4" x2="431.98" y2="581.8" stroke="#151515" stroke-width="1.5"/>
<circle cx="431.98" cy="550.4" r="1.0" fill="#151515"/>
<circle cx="431.94" cy="552.77" r="1.0" fill="#151515"/>
<circle cx="432.06" cy="554.68" r="1.0" fill="#151515"/>
<circle cx="431.92" cy="557.25" r="1.0" fill="#151515"/>
<circle cx="432.06" cy="559.62" r="1.0" fill="#151515"/>
<circle cx="431.94" cy="561.71" r="1.0" fill="#151515"/>
<circle cx="431.8" cy="563.4" r="1.0" fill="#151515"/>
<circle cx="431.81" cy="564.78" r="1.0" fill="#151515"/>
<circle cx="431.88" cy="567.01" r="1.0" fill="#151515"/>
<circle cx="431.81" cy="568.44" r="1.0" fill="#151515"/>
<circle cx="432.13" cy="570.82" r="1.0" fill="#151515"/>
<circle cx="431.89" cy="572.96" r="1.0" fill="#151515"/>
<circle cx="431.9" cy="574.5" r="1.0" fill="#151515"/>
<circle cx="431.84" cy="576.34" r="1.0" fill="#151515"/>
<circle cx="431.89" cy="578.17" r="1.0" fill="#151515"/>
<circle cx="432.17" cy="580.71" r="1.0" fill="#151515"/>
<circle cx="431.98" cy="581.8" r="1.05" fill="#151515"/>
<circle cx="431.98" cy="588.4" r="1.05" fill="#151515"/>
<line x1="447.98" y1="564.36" x2="447.98" y2="588.04" stroke="#777" stroke-width="0.8"/>
<rect x="442.58" y="569.4" width="10.6" height="11.4" fill="#b266d9"/>
<line x1="442.58" y1="575.1" x2="453.18" y2="575.1" stroke="#fff" stroke-width="0.8" opacity="0.6"/>
<line x1="444.98" y1="564.36" x2="450.58" y2="564.36" stroke="#151515" stroke-width="0.85"/>
<line x1="444.98" y1="588.04" x2="450.58" y2="588.04" stroke="#151515" stroke-width="0.85"/>
<line x1="444.98" y1="561.4" x2="444.98" y2="591" stroke="#151515" stroke-width="1.5"/>
<circle cx="444.88" cy="561.4" r="1.0" fill="#151515"/>
<circle cx="444.9" cy="563.95" r="1.0" fill="#151515"/>
<circle cx="444.78" cy="565.65" r="1.0" fill="#151515"/>
<circle cx="444.97" cy="567.39" r="1.0" fill="#151515"/>
<circle cx="444.86" cy="569.29" r="1.0" fill="#151515"/>
<circle cx="444.78" cy="571.2" r="1.0" fill="#151515"/>
<circle cx="444.82" cy="572.77" r="1.0" fill="#151515"/>
<circle cx="444.8" cy="574.53" r="1.0" fill="#151515"/>
<circle cx="444.9" cy="575.76" r="1.0" fill="#151515"/>
<circle cx="445.01" cy="577.28" r="1.0" fill="#151515"/>
<circle cx="445.08" cy="579.22" r="1.0" fill="#151515"/>
<circle cx="445.07" cy="581.34" r="1.0" fill="#151515"/>
<circle cx="444.94" cy="583.77" r="1.0" fill="#151515"/>
<circle cx="445.17" cy="585.43" r="1.0" fill="#151515"/>
<circle cx="445.07" cy="586.84" r="1.0" fill="#151515"/>
<circle cx="444.8" cy="588.94" r="1.0" fill="#151515"/>
<circle cx="444.98" cy="591" r="1.05" fill="#151515"/>
<circle cx="444.98" cy="557" r="1.05" fill="#151515"/>
<line x1="473.66" y1="553.69" x2="473.66" y2="580.01" stroke="#777" stroke-width="0.8"/>
<rect x="468.26" y="559.9" width="10.6" height="9.5" fill="#6b87dd"/>
<line x1="468.26" y1="564.65" x2="478.86" y2="564.65" stroke="#fff" stroke-width="0.8" opacity="0.6"/>
<line x1="470.66" y1="553.69" x2="476.26" y2="553.69" stroke="#151515" stroke-width="0.85"/>
<line x1="470.66" y1="580.01" x2="476.26" y2="580.01" stroke="#151515" stroke-width="0.85"/>
<line x1="470.66" y1="550.4" x2="470.66" y2="583.3" stroke="#151515" stroke-width="1.5"/>
<circle cx="470.82" cy="550.4" r="1.0" fill="#151515"/>
<circle cx="470.75" cy="552.48" r="1.0" fill="#151515"/>
<circle cx="470.52" cy="554.82" r="1.0" fill="#151515"/>
<circle cx="470.66" cy="556.75" r="1.0" fill="#151515"/>
<circle cx="470.78" cy="559.12" r="1.0" fill="#151515"/>
<circle cx="470.69" cy="561.47" r="1.0" fill="#151515"/>
<circle cx="470.73" cy="563.92" r="1.0" fill="#151515"/>
<circle cx="470.55" cy="566.1" r="1.0" fill="#151515"/>
<circle cx="470.51" cy="567.34" r="1.0" fill="#151515"/>
<circle cx="470.5" cy="569.04" r="1.0" fill="#151515"/>
<circle cx="470.68" cy="571.41" r="1.0" fill="#151515"/>
<circle cx="470.71" cy="573.49" r="1.0" fill="#151515"/>
<circle cx="470.66" cy="575.65" r="1.0" fill="#151515"/>
<circle cx="470.78" cy="576.85" r="1.0" fill="#151515"/>
<circle cx="470.66" cy="579.1" r="1.0" fill="#151515"/>
<circle cx="470.72" cy="581.05" r="1.0" fill="#151515"/>
<circle cx="470.75" cy="582.34" r="1.0" fill="#151515"/>
<circle cx="470.66" cy="583.3" r="1.05" fill="#151515"/>
<line x1="486.66" y1="558.15" x2="486.66" y2="580.95" stroke="#777" stroke-width="0.8"/>
<rect x="481.26" y="566" width="10.6" height="8.7" fill="#dd8c40"/>
<line x1="481.26" y1="570.35" x2="491.86" y2="570.35" stroke="#fff" stroke-width="0.8" opacity="0.6"/>
<line x1="483.66" y1="558.15" x2="489.26" y2="558.15" stroke="#151515" stroke-width="0.85"/>
<line x1="483.66" y1="580.95" x2="489.26" y2="580.95" stroke="#151515" stroke-width="0.85"/>
<line x1="483.66" y1="555.3" x2="483.66" y2="583.8" stroke="#151515" stroke-width="1.5"/>
<circle cx="483.49" cy="555.3" r="1.0" fill="#151515"/>
<circle cx="483.75" cy="556.87" r="1.0" fill="#151515"/>
<circle cx="483.76" cy="558.36" r="1.0" fill="#151515"/>
<circle cx="483.66" cy="560.93" r="1.0" fill="#151515"/>
<circle cx="483.65" cy="562.66" r="1.0" fill="#151515"/>
<circle cx="483.77" cy="564.82" r="1.0" fill="#151515"/>
<circle cx="483.72" cy="566.88" r="1.0" fill="#151515"/>
<circle cx="483.52" cy="568.19" r="1.0" fill="#151515"/>
<circle cx="483.76" cy="569.75" r="1.0" fill="#151515"/>
<circle cx="483.69" cy="571.37" r="1.0" fill="#151515"/>
<circle cx="483.48" cy="572.59" r="1.0" fill="#151515"/>
<circle cx="483.73" cy="574.17" r="1.0" fill="#151515"/>
<circle cx="483.73" cy="576.33" r="1.0" fill="#151515"/>
<circle cx="483.67" cy="577.94" r="1.0" fill="#151515"/>
<circle cx="483.65" cy="579.79" r="1.0" fill="#151515"/>
<circle cx="483.82" cy="581.16" r="1.0" fill="#151515"/>
<circle cx="483.85" cy="582.64" r="1.0" fill="#151515"/>
<circle cx="483.66" cy="583.8" r="1.05" fill="#151515"/>
<circle cx="483.66" cy="588.9" r="1.05" fill="#151515"/>
<circle cx="483.66" cy="596.2" r="1.05" fill="#151515"/>
<line x1="499.66" y1="570.07" x2="499.66" y2="594.63" stroke="#777" stroke-width="0.8"/>
<rect x="494.26" y="576.2" width="10.6" height="10.2" fill="#b266d9"/>
<line x1="494.26" y1="581.3" x2="504.86" y2="581.3" stroke="#fff" stroke-width="0.8" opacity="0.6"/>
<line x1="496.66" y1="570.07" x2="502.26" y2="570.07" stroke="#151515" stroke-width="0.85"/>
<line x1="496.66" y1="594.63" x2="502.26" y2="594.63" stroke="#151515" stroke-width="0.85"/>
<line x1="496.66" y1="567" x2="496.66" y2="597.7" stroke="#151515" stroke-width="1.5"/>
<circle cx="496.47" cy="567" r="1.0" fill="#151515"/>
<circle cx="496.79" cy="568.84" r="1.0" fill="#151515"/>
<circle cx="496.64" cy="571.4" r="1.0" fill="#151515"/>
<circle cx="496.54" cy="572.97" r="1.0" fill="#151515"/>
<circle cx="496.54" cy="575.5" r="1.0" fill="#151515"/>
<circle cx="496.52" cy="577.51" r="1.0" fill="#151515"/>
<circle cx="496.84" cy="579.45" r="1.0" fill="#151515"/>
<circle cx="496.79" cy="580.83" r="1.0" fill="#151515"/>
<circle cx="496.81" cy="582.74" r="1.0" fill="#151515"/>
<circle cx="496.55" cy="584.93" r="1.0" fill="#151515"/>
<circle cx="496.65" cy="587.38" r="1.0" fill="#151515"/>
<circle cx="496.46" cy="588.62" r="1.0" fill="#151515"/>
<circle cx="496.64" cy="590.51" r="1.0" fill="#151515"/>
<circle cx="496.52" cy="592.13" r="1.0" fill="#151515"/>
<circle cx="496.59" cy="593.81" r="1.0" fill="#151515"/>
<circle cx="496.46" cy="596.19" r="1.0" fill="#151515"/>
<circle cx="496.66" cy="597.7" r="1.05" fill="#151515"/>
<circle cx="496.66" cy="561.2" r="1.05" fill="#151515"/>
<line x1="525.34" y1="555.73" x2="525.34" y2="576.77" stroke="#777" stroke-width="0.8"/>
<rect x="519.94" y="559.7" width="10.6" height="8" fill="#6b87dd"/>
<line x1="519.94" y1="563.7" x2="530.54" y2="563.7" stroke="#fff" stroke-width="0.8" opacity="0.6"/>
<line x1="522.34" y1="555.73" x2="527.94" y2="555.73" stroke="#151515" stroke-width="0.85"/>
<line x1="522.34" y1="576.77" x2="527.94" y2="576.77" stroke="#151515" stroke-width="0.85"/>
<line x1="522.34" y1="553.1" x2="522.34" y2="579.4" stroke="#151515" stroke-width="1.5"/>
<circle cx="522.48" cy="553.1" r="1.0" fill="#151515"/>
<circle cx="522.51" cy="554.47" r="1.0" fill="#151515"/>
<circle cx="522.5" cy="556.67" r="1.0" fill="#151515"/>
<circle cx="522.29" cy="558.27" r="1.0" fill="#151515"/>
<circle cx="522.54" cy="560.02" r="1.0" fill="#151515"/>
<circle cx="522.28" cy="562.05" r="1.0" fill="#151515"/>
<circle cx="522.25" cy="563.85" r="1.0" fill="#151515"/>
<circle cx="522.18" cy="565.11" r="1.0" fill="#151515"/>
<circle cx="522.25" cy="567.48" r="1.0" fill="#151515"/>
<circle cx="522.24" cy="569.99" r="1.0" fill="#151515"/>
<circle cx="522.34" cy="571.56" r="1.0" fill="#151515"/>
<circle cx="522.29" cy="573.03" r="1.0" fill="#151515"/>
<circle cx="522.49" cy="575.57" r="1.0" fill="#151515"/>
<circle cx="522.39" cy="577.91" r="1.0" fill="#151515"/>
<circle cx="522.34" cy="579.4" r="1.05" fill="#151515"/>
<circle cx="522.34" cy="548.8" r="1.05" fill="#151515"/>
<circle cx="522.34" cy="583.5" r="1.05" fill="#151515"/>
<line x1="538.34" y1="564.7" x2="538.34" y2="592.7" stroke="#777" stroke-width="0.8"/>
<rect x="532.94" y="569.2" width="10.6" height="8.8" fill="#dd8c40"/>
<line x1="532.94" y1="573.6" x2="543.54" y2="573.6" stroke="#fff" stroke-width="0.8" opacity="0.6"/>
<line x1="535.34" y1="564.7" x2="540.94" y2="564.7" stroke="#151515" stroke-width="0.85"/>
<line x1="535.34" y1="592.7" x2="540.94" y2="592.7" stroke="#151515" stroke-width="0.85"/>
<line x1="535.34" y1="561.2" x2="535.34" y2="596.2" stroke="#151515" stroke-width="1.5"/>
<circle cx="535.52" cy="561.2" r="1.0" fill="#151515"/>
<circle cx="535.43" cy="563.17" r="1.0" fill="#151515"/>
<circle cx="535.43" cy="564.44" r="1.0" fill="#151515"/>
<circle cx="535.44" cy="566.27" r="1.0" fill="#151515"/>
<circle cx="535.25" cy="568.37" r="1.0" fill="#151515"/>
<circle cx="535.51" cy="569.64" r="1.0" fill="#151515"/>
<circle cx="535.33" cy="571.02" r="1.0" fill="#151515"/>
<circle cx="535.26" cy="572.7" r="1.0" fill="#151515"/>
<circle cx="535.53" cy="574.93" r="1.0" fill="#151515"/>
<circle cx="535.4" cy="576.5" r="1.0" fill="#151515"/>
<circle cx="535.36" cy="578.12" r="1.0" fill="#151515"/>
<circle cx="535.21" cy="579.87" r="1.0" fill="#151515"/>
<circle cx="535.22" cy="581.3" r="1.0" fill="#151515"/>
<circle cx="535.34" cy="583.77" r="1.0" fill="#151515"/>
<circle cx="535.5" cy="585.27" r="1.0" fill="#151515"/>
<circle cx="535.32" cy="587.87" r="1.0" fill="#151515"/>
<circle cx="535.22" cy="589.26" r="1.0" fill="#151515"/>
<circle cx="535.28" cy="590.59" r="1.0" fill="#151515"/>
<circle cx="535.24" cy="591.92" r="1.0" fill="#151515"/>
<circle cx="535.37" cy="593.48" r="1.0" fill="#151515"/>
<circle cx="535.44" cy="595.92" r="1.0" fill="#151515"/>
<circle cx="535.34" cy="596.2" r="1.05" fill="#151515"/>
<circle cx="535.34" cy="557.5" r="1.05" fill="#151515"/>
<line x1="551.34" y1="570.8" x2="551.34" y2="601.2" stroke="#777" stroke-width="0.8"/>
<rect x="545.94" y="581.6" width="10.6" height="9.5" fill="#b266d9"/>
<line x1="545.94" y1="586.35" x2="556.54" y2="586.35" stroke="#fff" stroke-width="0.8" opacity="0.6"/>
<line x1="548.34" y1="570.8" x2="553.94" y2="570.8" stroke="#151515" stroke-width="0.85"/>
<line x1="548.34" y1="601.2" x2="553.94" y2="601.2" stroke="#151515" stroke-width="0.85"/>
<line x1="548.34" y1="567" x2="548.34" y2="605" stroke="#151515" stroke-width="1.5"/>
<circle cx="548.31" cy="567" r="1.0" fill="#151515"/>
<circle cx="548.29" cy="568.93" r="1.0" fill="#151515"/>
<circle cx="548.16" cy="570.61" r="1.0" fill="#151515"/>
<circle cx="548.53" cy="572.2" r="1.0" fill="#151515"/>
<circle cx="548.34" cy="573.57" r="1.0" fill="#151515"/>
<circle cx="548.49" cy="575.65" r="1.0" fill="#151515"/>
<circle cx="548.25" cy="577.16" r="1.0" fill="#151515"/>
<circle cx="548.3" cy="578.7" r="1.0" fill="#151515"/>
<circle cx="548.52" cy="580.53" r="1.0" fill="#151515"/>
<circle cx="548.49" cy="582.92" r="1.0" fill="#151515"/>
<circle cx="548.15" cy="584.15" r="1.0" fill="#151515"/>
<circle cx="548.5" cy="586.34" r="1.0" fill="#151515"/>
<circle cx="548.37" cy="588.2" r="1.0" fill="#151515"/>
<circle cx="548.3" cy="589.4" r="1.0" fill="#151515"/>
<circle cx="548.47" cy="591.9" r="1.0" fill="#151515"/>
<circle cx="548.53" cy="594.3" r="1.0" fill="#151515"/>
<circle cx="548.18" cy="595.85" r="1.0" fill="#151515"/>
<circle cx="548.35" cy="597.26" r="1.0" fill="#151515"/>
<circle cx="548.52" cy="599.42" r="1.0" fill="#151515"/>
<circle cx="548.4" cy="601.63" r="1.0" fill="#151515"/>
<circle cx="548.32" cy="603.9" r="1.0" fill="#151515"/>
<circle cx="548.34" cy="605" r="1.05" fill="#151515"/>
<line x1="577.02" y1="552.64" x2="577.02" y2="577.76" stroke="#777" stroke-width="0.8"/>
<rect x="571.62" y="558.2" width="10.6" height="10.3" fill="#6b87dd"/>
<line x1="571.62" y1="563.35" x2="582.22" y2="563.35" stroke="#fff" stroke-width="0.8" opacity="0.6"/>
<line x1="574.02" y1="552.64" x2="579.62" y2="552.64" stroke="#151515" stroke-width="0.85"/>
<line x1="574.02" y1="577.76" x2="579.62" y2="577.76" stroke="#151515" stroke-width="0.85"/>
<line x1="574.02" y1="549.5" x2="574.02" y2="580.9" stroke="#151515" stroke-width="1.5"/>
<circle cx="573.84" cy="549.5" r="1.0" fill="#151515"/>
<circle cx="573.91" cy="551.8" r="1.0" fill="#151515"/>
<circle cx="574.08" cy="554.28" r="1.0" fill="#151515"/>
<circle cx="573.87" cy="555.91" r="1.0" fill="#151515"/>
<circle cx="574.07" cy="557.46" r="1.0" fill="#151515"/>
<circle cx="573.86" cy="559.64" r="1.0" fill="#151515"/>
<circle cx="574.03" cy="560.94" r="1.0" fill="#151515"/>
<circle cx="573.98" cy="562.95" r="1.0" fill="#151515"/>
<circle cx="574.06" cy="564.47" r="1.0" fill="#151515"/>
<circle cx="573.94" cy="565.68" r="1.0" fill="#151515"/>
<circle cx="574.2" cy="567.53" r="1.0" fill="#151515"/>
<circle cx="574.17" cy="569.63" r="1.0" fill="#151515"/>
<circle cx="573.91" cy="571.49" r="1.0" fill="#151515"/>
<circle cx="574.2" cy="573.04" r="1.0" fill="#151515"/>
<circle cx="573.94" cy="575.23" r="1.0" fill="#151515"/>
<circle cx="574.02" cy="576.46" r="1.0" fill="#151515"/>
<circle cx="573.99" cy="578.6" r="1.0" fill="#151515"/>
<circle cx="574.09" cy="580.16" r="1.0" fill="#151515"/>
<circle cx="574.02" cy="580.9" r="1.05" fill="#151515"/>
<line x1="590.02" y1="567.21" x2="590.02" y2="592.09" stroke="#777" stroke-width="0.8"/>
<rect x="584.62" y="572.8" width="10.6" height="6.9" fill="#dd8c40"/>
<line x1="584.62" y1="576.25" x2="595.22" y2="576.25" stroke="#fff" stroke-width="0.8" opacity="0.6"/>
<line x1="587.02" y1="567.21" x2="592.62" y2="567.21" stroke="#151515" stroke-width="0.85"/>
<line x1="587.02" y1="592.09" x2="592.62" y2="592.09" stroke="#151515" stroke-width="0.85"/>
<line x1="587.02" y1="564.1" x2="587.02" y2="595.2" stroke="#151515" stroke-width="1.5"/>
<circle cx="586.91" cy="564.1" r="1.0" fill="#151515"/>
<circle cx="586.96" cy="565.35" r="1.0" fill="#151515"/>
<circle cx="587.09" cy="567.14" r="1.0" fill="#151515"/>
<circle cx="587.14" cy="568.61" r="1.0" fill="#151515"/>
<circle cx="587.02" cy="570.85" r="1.0" fill="#151515"/>
<circle cx="587.21" cy="572.34" r="1.0" fill="#151515"/>
<circle cx="587.15" cy="573.97" r="1.0" fill="#151515"/>
<circle cx="586.91" cy="575.5" r="1.0" fill="#151515"/>
<circle cx="586.94" cy="577.76" r="1.0" fill="#151515"/>
<circle cx="587.02" cy="580.29" r="1.0" fill="#151515"/>
<circle cx="586.91" cy="581.76" r="1.0" fill="#151515"/>
<circle cx="587.09" cy="583.54" r="1.0" fill="#151515"/>
<circle cx="586.88" cy="586.07" r="1.0" fill="#151515"/>
<circle cx="586.91" cy="587.82" r="1.0" fill="#151515"/>
<circle cx="586.88" cy="590.38" r="1.0" fill="#151515"/>
<circle cx="586.84" cy="591.65" r="1.0" fill="#151515"/>
<circle cx="587.18" cy="593.4" r="1.0" fill="#151515"/>
<circle cx="587.02" cy="595.2" r="1.05" fill="#151515"/>
<circle cx="587.02" cy="559" r="1.05" fill="#151515"/>
<line x1="603.02" y1="580.63" x2="603.02" y2="608.07" stroke="#777" stroke-width="0.8"/>
<rect x="597.62" y="587" width="10.6" height="10.7" fill="#b266d9"/>
<line x1="597.62" y1="592.35" x2="608.22" y2="592.35" stroke="#fff" stroke-width="0.8" opacity="0.6"/>
<line x1="600.02" y1="580.63" x2="605.62" y2="580.63" stroke="#151515" stroke-width="0.85"/>
<line x1="600.02" y1="608.07" x2="605.62" y2="608.07" stroke="#151515" stroke-width="0.85"/>
<line x1="600.02" y1="577.2" x2="600.02" y2="611.5" stroke="#151515" stroke-width="1.5"/>
<circle cx="600.11" cy="577.2" r="1.0" fill="#151515"/>
<circle cx="600.19" cy="579.8" r="1.0" fill="#151515"/>
<circle cx="599.89" cy="581.46" r="1.0" fill="#151515"/>
<circle cx="600.12" cy="583.97" r="1.0" fill="#151515"/>
<circle cx="600.09" cy="585.21" r="1.0" fill="#151515"/>
<circle cx="599.97" cy="586.94" r="1.0" fill="#151515"/>
<circle cx="599.89" cy="588.61" r="1.0" fill="#151515"/>
<circle cx="599.93" cy="589.81" r="1.0" fill="#151515"/>
<circle cx="600.2" cy="591.5" r="1.0" fill="#151515"/>
<circle cx="600.21" cy="592.88" r="1.0" fill="#151515"/>
<circle cx="599.96" cy="594.37" r="1.0" fill="#151515"/>
<circle cx="600.15" cy="596.72" r="1.0" fill="#151515"/>
<circle cx="599.84" cy="598.52" r="1.0" fill="#151515"/>
<circle cx="599.97" cy="600.38" r="1.0" fill="#151515"/>
<circle cx="599.9" cy="602.87" r="1.0" fill="#151515"/>
<circle cx="600.18" cy="604.58" r="1.0" fill="#151515"/>
<circle cx="599.98" cy="605.82" r="1.0" fill="#151515"/>
<circle cx="600.13" cy="608.16" r="1.0" fill="#151515"/>
<circle cx="599.83" cy="609.42" r="1.0" fill="#151515"/>
<circle cx="600.19" cy="610.71" r="1.0" fill="#151515"/>
<circle cx="600.02" cy="611.5" r="1.05" fill="#151515"/>
<rect x="73.4" y="514.6" width="567.8" height="123.5" fill="none" stroke="#222" stroke-width="1"/>
<line x1="124.7" y1="638.1" x2="124.7" y2="635.1" stroke="#222" stroke-width="0.8"/>
<line x1="124.7" y1="514.6" x2="124.7" y2="517.6" stroke="#222" stroke-width="0.8"/>
<text x="125.7" y="657.2" font-size="7.3" text-anchor="middle" font-weight="normal" fill="#1a1a1a" transform="rotate(-20 125.7 657.2)">1981-2010</text>
<line x1="176.38" y1="638.1" x2="176.38" y2="635.1" stroke="#222" stroke-width="0.8"/>
<line x1="176.38" y1="514.6" x2="176.38" y2="517.6" stroke="#222" stroke-width="0.8"/>
<text x="177.38" y="657.2" font-size="7.3" text-anchor="middle" font-weight="normal" fill="#1a1a1a" transform="rotate(-20 177.38 657.2)">1991-2020</text>
<line x1="228.06" y1="638.1" x2="228.06" y2="635.1" stroke="#222" stroke-width="0.8"/>
<line x1="228.06" y1="514.6" x2="228.06" y2="517.6" stroke="#222" stroke-width="0.8"/>
<text x="229.06" y="657.2" font-size="7.3" text-anchor="middle" font-weight="normal" fill="#1a1a1a" transform="rotate(-20 229.06 657.2)">2001-2030</text>
<line x1="279.74" y1="638.1" x2="279.74" y2="635.1" stroke="#222" stroke-width="0.8"/>
<line x1="279.74" y1="514.6" x2="279.74" y2="517.6" stroke="#222" stroke-width="0.8"/>
<text x="280.74" y="657.2" font-size="7.3" text-anchor="middle" font-weight="normal" fill="#1a1a1a" transform="rotate(-20 280.74 657.2)">2011-2040</text>
<line x1="331.42" y1="638.1" x2="331.42" y2="635.1" stroke="#222" stroke-width="0.8"/>
<line x1="331.42" y1="514.6" x2="331.42" y2="517.6" stroke="#222" stroke-width="0.8"/>
<text x="332.42" y="657.2" font-size="7.3" text-anchor="middle" font-weight="normal" fill="#1a1a1a" transform="rotate(-20 332.42 657.2)">2021-2050</text>
<line x1="383.1" y1="638.1" x2="383.1" y2="635.1" stroke="#222" stroke-width="0.8"/>
<line x1="383.1" y1="514.6" x2="383.1" y2="517.6" stroke="#222" stroke-width="0.8"/>
<text x="384.1" y="657.2" font-size="7.3" text-anchor="middle" font-weight="normal" fill="#1a1a1a" transform="rotate(-20 384.1 657.2)">2031-2060</text>
<line x1="434.78" y1="638.1" x2="434.78" y2="635.1" stroke="#222" stroke-width="0.8"/>
<line x1="434.78" y1="514.6" x2="434.78" y2="517.6" stroke="#222" stroke-width="0.8"/>
<text x="435.78" y="657.2" font-size="7.3" text-anchor="middle" font-weight="normal" fill="#1a1a1a" transform="rotate(-20 435.78 657.2)">2041-2070</text>
<line x1="486.46" y1="638.1" x2="486.46" y2="635.1" stroke="#222" stroke-width="0.8"/>
<line x1="486.46" y1="514.6" x2="486.46" y2="517.6" stroke="#222" stroke-width="0.8"/>
<text x="487.46" y="657.2" font-size="7.3" text-anchor="middle" font-weight="normal" fill="#1a1a1a" transform="rotate(-20 487.46 657.2)">2051-2080</text>
<line x1="538.14" y1="638.1" x2="538.14" y2="635.1" stroke="#222" stroke-width="0.8"/>
<line x1="538.14" y1="514.6" x2="538.14" y2="517.6" stroke="#222" stroke-width="0.8"/>
<text x="539.14" y="657.2" font-size="7.3" text-anchor="middle" font-weight="normal" fill="#1a1a1a" transform="rotate(-20 539.14 657.2)">2061-2090</text>
<line x1="589.82" y1="638.1" x2="589.82" y2="635.1" stroke="#222" stroke-width="0.8"/>
<line x1="589.82" y1="514.6" x2="589.82" y2="517.6" stroke="#222" stroke-width="0.8"/>
<text x="590.82" y="657.2" font-size="7.3" text-anchor="middle" font-weight="normal" fill="#1a1a1a" transform="rotate(-20 590.82 657.2)">2071-2100</text>
<text x="69" y="516.7" font-size="6.1" text-anchor="end" font-weight="normal" fill="#1a1a1a">0.000</text>
<line x1="73.4" y1="545.48" x2="76.4" y2="545.48" stroke="#222" stroke-width="0.8"/>
<line x1="641.2" y1="545.48" x2="638.2" y2="545.48" stroke="#222" stroke-width="0.8"/>
<text x="69" y="547.58" font-size="6.1" text-anchor="end" font-weight="normal" fill="#1a1a1a">-0.010</text>
<line x1="73.4" y1="576.35" x2="76.4" y2="576.35" stroke="#222" stroke-width="0.8"/>
<line x1="641.2" y1="576.35" x2="638.2" y2="576.35" stroke="#222" stroke-width="0.8"/>
<text x="69" y="578.45" font-size="6.1" text-anchor="end" font-weight="normal" fill="#1a1a1a">-0.020</text>
<line x1="73.4" y1="607.23" x2="76.4" y2="607.23" stroke="#222" stroke-width="0.8"/>
<line x1="641.2" y1="607.23" x2="638.2" y2="607.23" stroke="#222" stroke-width="0.8"/>
<text x="69" y="609.33" font-size="6.1" text-anchor="end" font-weight="normal" fill="#1a1a1a">-0.030</text>
<text x="69" y="640.2" font-size="6.1" text-anchor="end" font-weight="normal" fill="#1a1a1a">-0.040</text>
<text x="45.9" y="576.35" font-size="7.2" text-anchor="middle" font-weight="normal" fill="#1a1a1a" transform="rotate(-90 45.9 576.35)">Soil-based CDHE-related GPP anomalies (PgC a<tspan font-size="5" dy="-2.8">-1</tspan><tspan dy="2.8">)</tspan></text>
<rect x="94.1" y="592.3" width="10.2" height="9.2" fill="#6b87dd"/>
<text x="113.9" y="598.1" font-size="8.34" text-anchor="start" font-weight="normal" fill="#1a1a1a">Historical + SSP1-2.6</text>
<rect x="94.1" y="607.9" width="10.2" height="9.2" fill="#dd8c40"/>
<text x="113.9" y="613.7" font-size="8.34" text-anchor="start" font-weight="normal" fill="#1a1a1a">Historical + SSP2-4.5</text>
<rect x="94.1" y="623.5" width="10.2" height="9.2" fill="#b266d9"/>
<text x="113.9" y="629.3" font-size="8.34" text-anchor="start" font-weight="normal" fill="#1a1a1a">Historical + SSP5-8.5</text>
<text x="-1" y="7.3" font-size="11" text-anchor="start" font-weight="bold" fill="#000">a</text>
<text x="228.5" y="7.9" font-size="11" text-anchor="start" font-weight="bold" fill="#000">b</text>
<text x="457.2" y="7.9" font-size="11" text-anchor="start" font-weight="bold" fill="#000">c</text>
<text x="2.9" y="239.6" font-size="9.8" text-anchor="start" font-weight="bold" fill="#000">d</text>
<text x="231.2" y="239.6" font-size="9.8" text-anchor="start" font-weight="bold" fill="#000">e</text>
<text x="458.4" y="239.6" font-size="9.8" text-anchor="start" font-weight="bold" fill="#000">f</text>
<text x="54.5" y="497.6" font-size="10.5" text-anchor="start" font-weight="bold" fill="#000">g</text>
</svg></body></html>
